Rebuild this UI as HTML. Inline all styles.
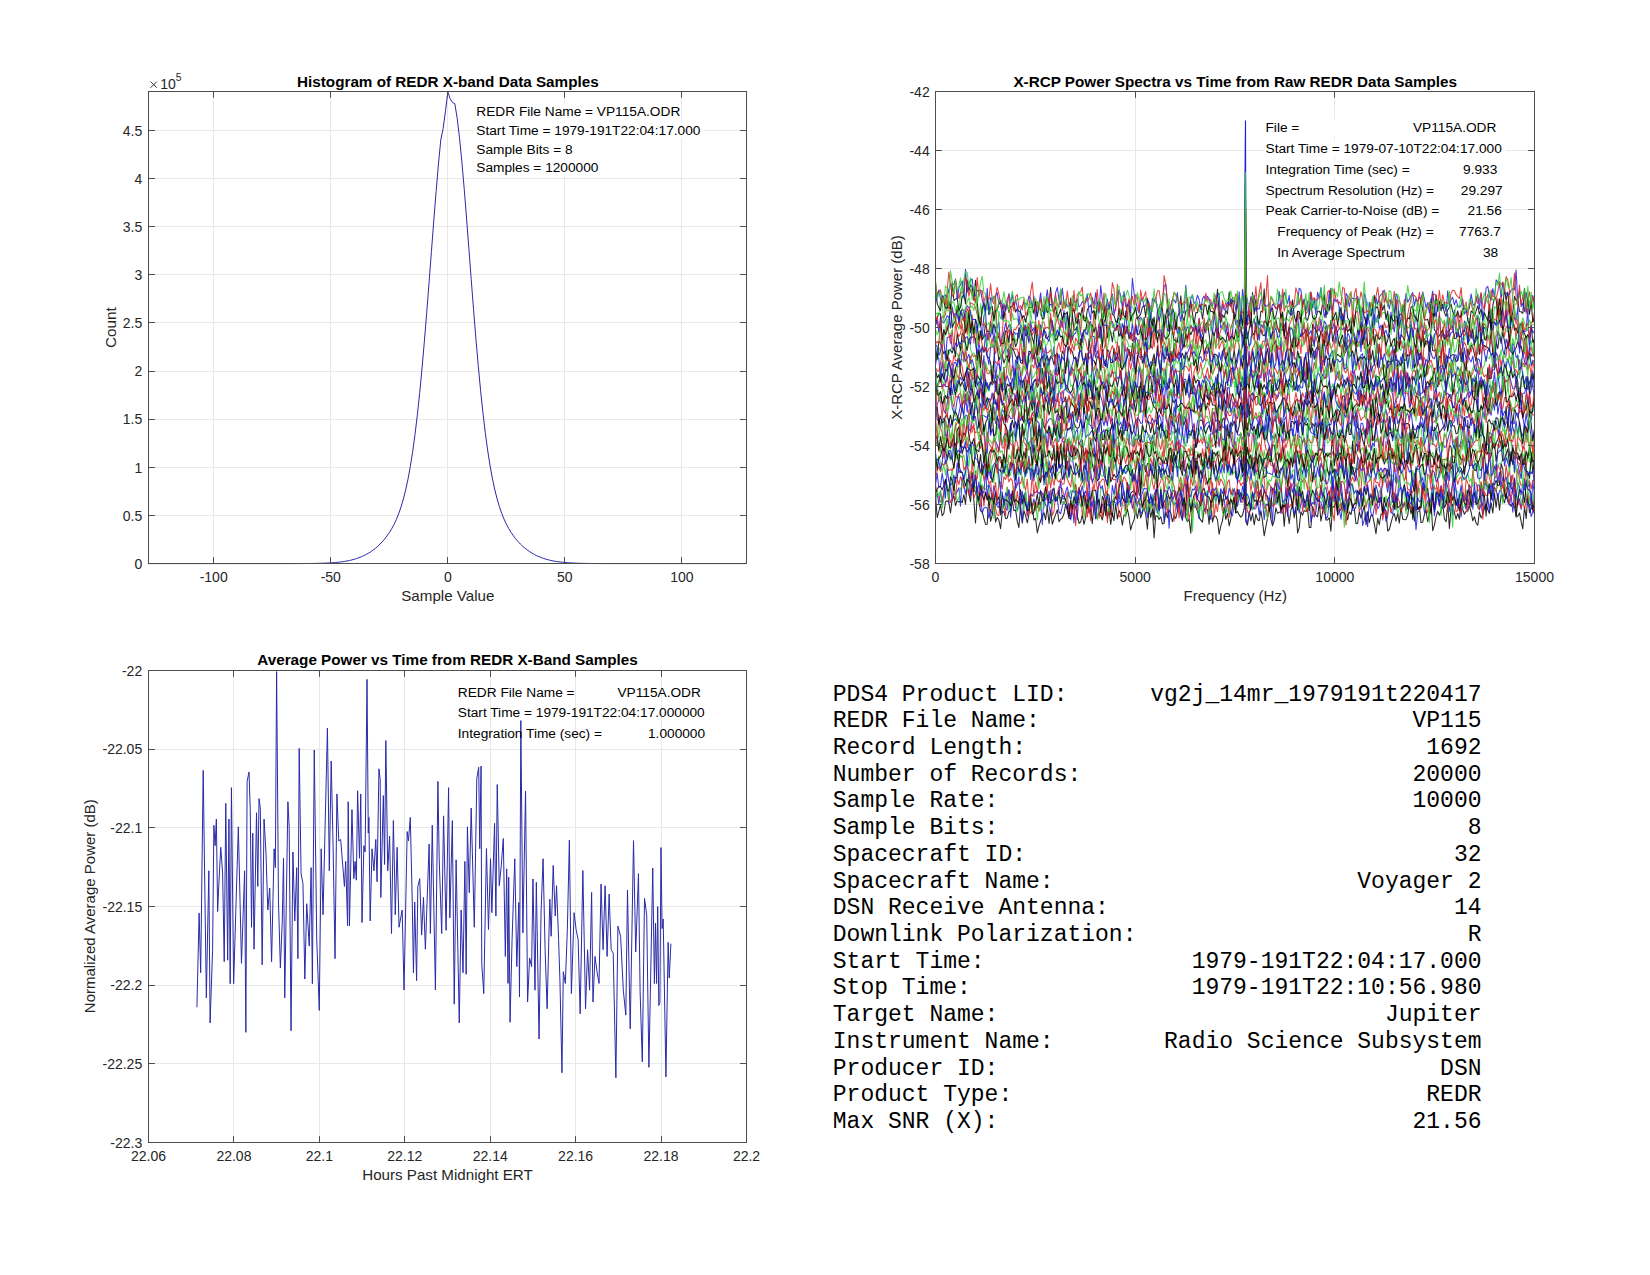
<!DOCTYPE html><html><head><meta charset="utf-8"><style>html,body{margin:0;padding:0;background:#fff}svg{display:block}</style></head><body>
<svg width="1650" height="1275" viewBox="0 0 1650 1275" font-family='"Liberation Sans", sans-serif'>
<rect width="1650" height="1275" fill="#fff"/>
<path d="M213.50 91.5V563.5M330.50 91.5V563.5M447.50 91.5V563.5M564.50 91.5V563.5M681.50 91.5V563.5M148.5 563.50H746.5M148.5 515.50H746.5M148.5 467.50H746.5M148.5 419.50H746.5M148.5 371.50H746.5M148.5 322.50H746.5M148.5 274.50H746.5M148.5 226.50H746.5M148.5 178.50H746.5M148.5 130.50H746.5" stroke="#e8e8e8" stroke-width="1" fill="none"/>
<rect x="474.5" y="103.8" width="204.0" height="16" fill="#fff"/>
<rect x="474.5" y="122.7" width="229.2" height="16" fill="#fff"/>
<rect x="474.5" y="141.5" width="100.0" height="16" fill="#fff"/>
<rect x="474.5" y="160.4" width="125.8" height="16" fill="#fff"/>
<path d="M148.15 563.60 L150.49 563.60 L152.83 563.60 L155.18 563.60 L157.52 563.60 L159.86 563.60 L162.20 563.60 L164.54 563.60 L166.88 563.60 L169.22 563.60 L171.56 563.60 L173.90 563.60 L176.24 563.60 L178.58 563.60 L180.93 563.60 L183.27 563.60 L185.61 563.60 L187.95 563.60 L190.29 563.60 L192.63 563.60 L194.97 563.60 L197.31 563.60 L199.65 563.60 L202.00 563.60 L204.34 563.60 L206.68 563.60 L209.02 563.60 L211.36 563.60 L213.70 563.60 L216.04 563.60 L218.38 563.60 L220.72 563.60 L223.06 563.60 L225.41 563.60 L227.75 563.60 L230.09 563.60 L232.43 563.60 L234.77 563.60 L237.11 563.60 L239.45 563.60 L241.79 563.60 L244.13 563.60 L246.47 563.60 L248.81 563.60 L251.16 563.60 L253.50 563.60 L255.84 563.60 L258.18 563.60 L260.52 563.60 L262.86 563.60 L265.20 563.60 L267.54 563.60 L269.88 563.60 L272.23 563.60 L274.57 563.60 L276.91 563.60 L279.25 563.60 L281.59 563.59 L283.93 563.59 L286.27 563.59 L288.61 563.59 L290.95 563.58 L293.29 563.58 L295.63 563.57 L297.98 563.57 L300.32 563.56 L302.66 563.55 L305.00 563.53 L307.34 563.51 L309.68 563.49 L312.02 563.46 L314.36 563.43 L316.70 563.38 L319.04 563.33 L321.39 563.27 L323.73 563.19 L326.07 563.10 L328.41 562.99 L330.75 562.86 L333.09 562.70 L335.43 562.51 L337.77 562.29 L340.11 562.03 L342.45 561.72 L344.80 561.37 L347.14 560.96 L349.48 560.48 L351.82 559.93 L354.16 559.30 L356.50 558.58 L358.84 557.76 L361.18 556.84 L363.52 555.80 L365.87 554.63 L368.21 553.32 L370.55 551.86 L372.89 550.24 L375.23 548.44 L377.57 546.45 L379.91 544.25 L382.25 541.81 L384.59 539.10 L386.93 536.09 L389.27 532.71 L391.62 528.90 L393.96 524.56 L396.30 519.58 L398.64 513.82 L400.98 507.10 L403.32 499.23 L405.66 489.98 L408.00 479.11 L410.34 466.37 L412.69 451.52 L415.03 434.36 L417.37 414.75 L419.71 392.62 L422.05 368.04 L424.39 341.21 L426.73 312.48 L429.07 282.39 L431.41 251.62 L433.75 221.02 L436.10 191.53 L438.44 164.18 L440.78 139.99 L443.12 128.55 L445.46 111.23 L447.80 91.97 L450.14 98.71 L452.48 102.56 L454.82 103.64 L457.16 118.19 L459.50 137.79 L461.85 161.60 L464.19 188.68 L466.53 218.00 L468.87 248.54 L471.21 279.33 L473.55 309.53 L475.89 338.42 L478.23 365.46 L480.57 390.27 L482.92 412.65 L485.26 432.51 L487.60 449.91 L489.94 464.98 L492.28 477.92 L494.62 488.97 L496.96 498.37 L499.30 506.37 L501.64 513.19 L503.98 519.04 L506.33 524.09 L508.67 528.49 L511.01 532.35 L513.35 535.77 L515.69 538.82 L518.03 541.55 L520.37 544.02 L522.71 546.24 L525.05 548.25 L527.39 550.07 L529.74 551.70 L532.08 553.18 L534.42 554.50 L536.76 555.69 L539.10 556.74 L541.44 557.68 L543.78 558.50 L546.12 559.23 L548.46 559.87 L550.80 560.43 L553.14 560.91 L555.49 561.33 L557.83 561.69 L560.17 562.00 L562.51 562.27 L564.85 562.49 L567.19 562.68 L569.53 562.84 L571.87 562.98 L574.21 563.09 L576.56 563.18 L578.90 563.26 L581.24 563.33 L583.58 563.38 L585.92 563.42 L588.26 563.46 L590.60 563.49 L592.94 563.51 L595.28 563.53 L597.62 563.54 L599.97 563.56 L602.31 563.57 L604.65 563.57 L606.99 563.58 L609.33 563.58 L611.67 563.59 L614.01 563.59 L616.35 563.59 L618.69 563.59 L621.03 563.60 L623.38 563.60 L625.72 563.60 L628.06 563.60 L630.40 563.60 L632.74 563.60 L635.08 563.60 L637.42 563.60 L639.76 563.60 L642.10 563.60 L644.44 563.60 L646.79 563.60 L649.13 563.60 L651.47 563.60 L653.81 563.60 L656.15 563.60 L658.49 563.60 L660.83 563.60 L663.17 563.60 L665.51 563.60 L667.85 563.60 L670.20 563.60 L672.54 563.60 L674.88 563.60 L677.22 563.60 L679.56 563.60 L681.90 563.60 L684.24 563.60 L686.58 563.60 L688.92 563.60 L691.26 563.60 L693.61 563.60 L695.95 563.60 L698.29 563.60 L700.63 563.60 L702.97 563.60 L705.31 563.60 L707.65 563.60 L709.99 563.60 L712.33 563.60 L714.67 563.60 L717.02 563.60 L719.36 563.60 L721.70 563.60 L724.04 563.60 L726.38 563.60 L728.72 563.60 L731.06 563.60 L733.40 563.60 L735.74 563.60 L738.08 563.60 L740.42 563.60 L742.77 563.60 L745.11 563.60" stroke="#2a2aa8" stroke-width="1" fill="none"/>
<path d="M213.50 563.5v-6.4M213.50 91.5v6.4M330.50 563.5v-6.4M330.50 91.5v6.4M447.50 563.5v-6.4M447.50 91.5v6.4M564.50 563.5v-6.4M564.50 91.5v6.4M681.50 563.5v-6.4M681.50 91.5v6.4M148.5 563.50h6.4M746.5 563.50h-6.4M148.5 515.50h6.4M746.5 515.50h-6.4M148.5 467.50h6.4M746.5 467.50h-6.4M148.5 419.50h6.4M746.5 419.50h-6.4M148.5 371.50h6.4M746.5 371.50h-6.4M148.5 322.50h6.4M746.5 322.50h-6.4M148.5 274.50h6.4M746.5 274.50h-6.4M148.5 226.50h6.4M746.5 226.50h-6.4M148.5 178.50h6.4M746.5 178.50h-6.4M148.5 130.50h6.4M746.5 130.50h-6.4" stroke="#4d4d4d" stroke-width="1" fill="none"/>
<rect x="148.5" y="91.5" width="598.0" height="472.0" stroke="#4d4d4d" stroke-width="1" fill="none"/>
<text x="213.70" y="581.90" text-anchor="middle" font-size="14" fill="#262626">-100</text>
<text x="330.75" y="581.90" text-anchor="middle" font-size="14" fill="#262626">-50</text>
<text x="447.80" y="581.90" text-anchor="middle" font-size="14" fill="#262626">0</text>
<text x="564.85" y="581.90" text-anchor="middle" font-size="14" fill="#262626">50</text>
<text x="681.90" y="581.90" text-anchor="middle" font-size="14" fill="#262626">100</text>
<text x="142.20" y="568.80" text-anchor="end" font-size="14" fill="#262626">0</text>
<text x="142.20" y="520.68" text-anchor="end" font-size="14" fill="#262626">0.5</text>
<text x="142.20" y="472.55" text-anchor="end" font-size="14" fill="#262626">1</text>
<text x="142.20" y="424.43" text-anchor="end" font-size="14" fill="#262626">1.5</text>
<text x="142.20" y="376.30" text-anchor="end" font-size="14" fill="#262626">2</text>
<text x="142.20" y="328.18" text-anchor="end" font-size="14" fill="#262626">2.5</text>
<text x="142.20" y="280.05" text-anchor="end" font-size="14" fill="#262626">3</text>
<text x="142.20" y="231.93" text-anchor="end" font-size="14" fill="#262626">3.5</text>
<text x="142.20" y="183.80" text-anchor="end" font-size="14" fill="#262626">4</text>
<text x="142.20" y="135.68" text-anchor="end" font-size="14" fill="#262626">4.5</text>
<path d="M150.6 81.6l6.2 6.2M156.8 81.6l-6.2 6.2" stroke="#262626" stroke-width="0.9" fill="none"/>
<text x="160.3" y="88.8" font-size="14" fill="#262626">10</text>
<text x="175.8" y="81.0" font-size="10.3" fill="#262626">5</text>
<text x="447.85" y="86.5" text-anchor="middle" font-size="15.25" font-weight="bold" fill="#000">Histogram of REDR X-band Data Samples</text>
<text x="447.85" y="601.2" text-anchor="middle" font-size="15.15" fill="#262626">Sample Value</text>
<text transform="translate(115.8 327.6) rotate(-90)" text-anchor="middle" font-size="15.3" fill="#262626">Count</text>
<text x="476.3" y="115.80" font-size="13.7" fill="#000">REDR File Name = VP115A.ODR</text>
<text x="476.3" y="134.67" font-size="13.7" fill="#000">Start Time = 1979-191T22:04:17.000</text>
<text x="476.3" y="153.54" font-size="13.7" fill="#000">Sample Bits = 8</text>
<text x="476.3" y="172.41" font-size="13.7" fill="#000">Samples = 1200000</text>
<path d="M935.50 91.5V563.5M1135.50 91.5V563.5M1334.50 91.5V563.5M1534.50 91.5V563.5M935.5 563.50H1534.5M935.5 504.50H1534.5M935.5 445.50H1534.5M935.5 386.50H1534.5M935.5 327.50H1534.5M935.5 268.50H1534.5M935.5 209.50H1534.5M935.5 150.50H1534.5M935.5 91.50H1534.5" stroke="#e8e8e8" stroke-width="1" fill="none"/>
<rect x="1264.5" y="119.3" width="233.4" height="17" fill="#fff"/>
<rect x="1264.5" y="140.2" width="241.5" height="17" fill="#fff"/>
<rect x="1264.5" y="161.1" width="234.3" height="17" fill="#fff"/>
<rect x="1264.5" y="182.1" width="239.7" height="17" fill="#fff"/>
<rect x="1264.5" y="203.0" width="238.8" height="17" fill="#fff"/>
<rect x="1264.5" y="223.9" width="237.9" height="17" fill="#fff"/>
<rect x="1264.5" y="244.8" width="235.2" height="17" fill="#fff"/>
<path d="M935.5 495.8 937.2 517.6 938.8 511.4 940.5 505.0 942.2 515.8 943.8 513.5 945.5 501.8 947.2 500.8 948.8 502.4 950.5 512.8 952.2 499.4 953.9 496.2 955.5 505.7 957.2 500.5 958.9 502.2 960.5 501.0 962.2 502.6 963.9 494.5 965.5 504.3 967.2 484.0 968.9 493.3 970.5 501.7 972.2 482.7 973.9 501.2 975.5 522.9 977.2 497.4 978.9 502.8 980.6 510.8 982.2 511.7 983.9 518.6 985.6 524.4 987.2 524.3 988.9 495.5 990.6 521.3 992.2 515.2 993.9 501.7 995.6 522.2 997.2 517.2 998.9 520.2 1000.6 528.7 1002.2 512.4 1003.9 511.6 1005.6 518.4 1007.2 518.3 1008.9 511.4 1010.6 510.8 1012.3 500.5 1013.9 510.7 1015.6 509.9 1017.3 521.6 1018.9 527.5 1020.6 505.9 1022.3 523.1 1023.9 510.8 1025.6 515.6 1027.3 523.0 1028.9 514.3 1030.6 502.2 1032.3 505.1 1033.9 520.0 1035.6 518.4 1037.3 532.9 1038.9 526.1 1040.6 520.8 1042.3 516.3 1044.0 512.7 1045.6 519.8 1047.3 506.2 1049.0 523.5 1050.6 510.4 1052.3 524.3 1054.0 519.0 1055.6 514.6 1057.3 509.8 1059.0 521.8 1060.6 519.3 1062.3 517.9 1064.0 513.8 1065.6 504.3 1067.3 510.3 1069.0 518.5 1070.7 518.4 1072.3 505.8 1074.0 504.9 1075.7 507.5 1077.3 515.9 1079.0 523.2 1080.7 522.0 1082.3 514.9 1084.0 524.4 1085.7 517.3 1087.3 498.5 1089.0 513.0 1090.7 509.0 1092.3 523.8 1094.0 504.4 1095.7 518.8 1097.3 515.1 1099.0 514.1 1100.7 515.2 1102.4 520.0 1104.0 510.6 1105.7 499.0 1107.4 518.4 1109.0 508.8 1110.7 524.4 1112.4 513.0 1114.0 520.6 1115.7 504.0 1117.4 519.0 1119.0 510.3 1120.7 514.7 1122.4 525.1 1124.0 515.0 1125.7 515.5 1127.4 509.0 1129.0 516.9 1130.7 529.9 1132.4 523.6 1134.1 519.7 1135.7 510.0 1137.4 518.5 1139.1 508.2 1140.7 517.8 1142.4 512.5 1144.1 507.5 1145.7 514.3 1147.4 529.2 1149.1 506.4 1150.7 517.3 1152.4 509.1 1154.1 538.0 1155.7 515.8 1157.4 516.1 1159.1 519.4 1160.8 516.8 1162.4 523.9 1164.1 523.3 1165.8 512.1 1167.4 517.7 1169.1 509.9 1170.8 512.7 1172.4 521.6 1174.1 515.7 1175.8 518.5 1177.4 511.7 1179.1 502.4 1180.8 515.5 1182.4 519.9 1184.1 498.5 1185.8 518.1 1187.4 521.7 1189.1 518.9 1190.8 533.2 1192.5 503.6 1194.1 506.9 1195.8 507.1 1197.5 511.4 1199.1 517.4 1200.8 520.1 1202.5 522.1 1204.1 509.9 1205.8 508.4 1207.5 509.6 1209.1 524.3 1210.8 500.4 1212.5 522.1 1214.1 515.8 1215.8 516.2 1217.5 519.8 1219.1 534.2 1220.8 525.9 1222.5 520.6 1224.2 507.9 1225.8 519.4 1227.5 513.3 1229.2 525.9 1230.8 519.1 1232.5 506.3 1234.2 501.3 1235.8 513.1 1237.5 511.4 1239.2 514.9 1240.8 517.2 1242.5 515.4 1244.2 508.0 1244.3 509.3 1245.5 227.1 1245.8 521.7 1246.7 523.5 1247.5 525.2 1249.2 511.4 1250.9 521.0 1252.5 513.0 1254.2 524.8 1255.9 514.2 1257.5 519.7 1259.2 520.7 1260.9 510.7 1262.5 521.4 1264.2 535.8 1265.9 526.3 1267.5 518.3 1269.2 503.1 1270.9 519.4 1272.5 525.9 1274.2 520.9 1275.9 507.9 1277.5 513.3 1279.2 512.3 1280.9 511.8 1282.6 503.9 1284.2 526.5 1285.9 505.4 1287.6 511.2 1289.2 523.7 1290.9 510.2 1292.6 504.8 1294.2 517.8 1295.9 507.6 1297.6 533.0 1299.2 527.9 1300.9 511.8 1302.6 515.2 1304.2 510.4 1305.9 511.7 1307.6 508.7 1309.2 527.4 1310.9 527.4 1312.6 506.3 1314.3 512.8 1315.9 515.1 1317.6 516.8 1319.3 502.3 1320.9 521.1 1322.6 512.1 1324.3 503.5 1325.9 519.9 1327.6 519.9 1329.3 517.8 1330.9 531.3 1332.6 506.2 1334.3 507.3 1335.9 500.3 1337.6 515.2 1339.3 511.4 1341.0 509.3 1342.6 501.3 1344.3 511.9 1346.0 510.7 1347.6 520.0 1349.3 511.8 1351.0 514.6 1352.6 506.1 1354.3 508.6 1356.0 523.8 1357.6 523.3 1359.3 511.8 1361.0 518.0 1362.6 512.3 1364.3 505.5 1366.0 524.9 1367.6 511.5 1369.3 522.6 1371.0 515.2 1372.7 515.9 1374.3 523.7 1376.0 533.8 1377.7 518.3 1379.3 525.0 1381.0 514.0 1382.7 514.6 1384.3 507.9 1386.0 511.1 1387.7 531.0 1389.3 529.5 1391.0 522.8 1392.7 516.6 1394.3 513.6 1396.0 521.1 1397.7 512.9 1399.3 523.1 1401.0 506.8 1402.7 519.1 1404.4 519.7 1406.0 519.4 1407.7 515.2 1409.4 503.5 1411.0 513.7 1412.7 507.5 1414.4 521.1 1416.0 509.9 1417.7 509.0 1419.4 507.0 1421.0 522.6 1422.7 522.2 1424.4 514.7 1426.0 510.2 1427.7 521.7 1429.4 513.5 1431.1 502.3 1432.7 530.8 1434.4 525.2 1436.1 516.7 1437.7 511.3 1439.4 515.3 1441.1 510.8 1442.7 503.6 1444.4 518.7 1446.1 521.7 1447.7 503.7 1449.4 528.4 1451.1 507.9 1452.7 504.2 1454.4 512.4 1456.1 519.2 1457.7 513.4 1459.4 519.2 1461.1 498.7 1462.8 509.7 1464.4 514.2 1466.1 511.2 1467.8 510.5 1469.4 506.2 1471.1 512.0 1472.8 520.8 1474.4 516.7 1476.1 523.0 1477.8 525.3 1479.4 511.8 1481.1 517.9 1482.8 514.3 1484.4 507.1 1486.1 504.0 1487.8 509.5 1489.4 513.5 1491.1 502.5 1492.8 513.0 1494.5 493.0 1496.1 507.5 1497.8 493.6 1499.5 510.3 1501.1 494.9 1502.8 497.8 1504.5 502.8 1506.1 493.7 1507.8 498.9 1509.5 503.4 1511.1 506.3 1512.8 503.0 1514.5 507.0 1516.1 515.8 1517.8 516.3 1519.5 512.9 1521.2 521.9 1522.8 528.8 1524.5 506.9 1526.2 518.6 1527.8 496.0 1529.5 512.7 1531.2 508.1 1532.8 508.5 1534.5 514.3" stroke="#000000" stroke-width="1.05" stroke-opacity="0.85" fill="none" stroke-linejoin="round"/>
<path d="M935.5 497.9 937.2 493.1 938.8 504.1 940.5 490.7 942.2 504.7 943.8 492.7 945.5 479.2 947.2 486.8 948.8 503.0 950.5 484.3 952.2 501.0 953.9 492.9 955.5 493.9 957.2 491.6 958.9 487.8 960.5 506.3 962.2 477.3 963.9 486.4 965.5 494.0 967.2 483.3 968.9 474.5 970.5 495.9 972.2 483.3 973.9 491.1 975.5 491.5 977.2 498.9 978.9 496.1 980.6 493.5 982.2 513.1 983.9 508.2 985.6 507.2 987.2 508.4 988.9 518.2 990.6 509.3 992.2 514.4 993.9 501.8 995.6 505.1 997.2 503.7 998.9 502.0 1000.6 509.1 1002.2 513.4 1003.9 499.3 1005.6 508.5 1007.2 510.2 1008.9 491.7 1010.6 517.2 1012.3 498.1 1013.9 493.9 1015.6 507.8 1017.3 510.0 1018.9 501.9 1020.6 511.7 1022.3 521.4 1023.9 495.9 1025.6 491.8 1027.3 515.9 1028.9 499.1 1030.6 503.3 1032.3 505.1 1033.9 498.9 1035.6 508.4 1037.3 507.3 1038.9 503.6 1040.6 502.2 1042.3 524.8 1044.0 494.9 1045.6 499.9 1047.3 495.7 1049.0 506.0 1050.6 513.2 1052.3 500.1 1054.0 500.3 1055.6 496.6 1057.3 498.9 1059.0 511.8 1060.6 513.8 1062.3 506.4 1064.0 501.4 1065.6 505.4 1067.3 509.1 1069.0 503.4 1070.7 520.0 1072.3 505.7 1074.0 522.9 1075.7 490.8 1077.3 519.8 1079.0 489.7 1080.7 497.3 1082.3 495.9 1084.0 497.8 1085.7 507.7 1087.3 504.0 1089.0 491.3 1090.7 513.5 1092.3 506.4 1094.0 496.7 1095.7 510.1 1097.3 490.2 1099.0 514.3 1100.7 510.7 1102.4 503.9 1104.0 510.9 1105.7 506.8 1107.4 504.7 1109.0 506.1 1110.7 501.9 1112.4 501.5 1114.0 501.8 1115.7 502.9 1117.4 503.9 1119.0 501.7 1120.7 501.3 1122.4 497.8 1124.0 490.8 1125.7 509.6 1127.4 489.5 1129.0 497.0 1130.7 495.9 1132.4 508.4 1134.1 501.9 1135.7 501.4 1137.4 506.3 1139.1 498.1 1140.7 513.8 1142.4 511.2 1144.1 497.3 1145.7 500.9 1147.4 517.7 1149.1 500.8 1150.7 503.3 1152.4 497.5 1154.1 505.2 1155.7 504.8 1157.4 513.2 1159.1 506.0 1160.8 508.4 1162.4 500.7 1164.1 521.9 1165.8 505.5 1167.4 496.2 1169.1 528.1 1170.8 499.8 1172.4 501.9 1174.1 504.4 1175.8 502.7 1177.4 511.3 1179.1 498.5 1180.8 503.4 1182.4 520.4 1184.1 500.2 1185.8 515.2 1187.4 514.0 1189.1 502.7 1190.8 509.3 1192.5 504.5 1194.1 503.7 1195.8 506.9 1197.5 502.6 1199.1 518.7 1200.8 491.9 1202.5 498.7 1204.1 511.2 1205.8 507.5 1207.5 493.7 1209.1 513.2 1210.8 519.5 1212.5 488.6 1214.1 494.7 1215.8 502.5 1217.5 491.7 1219.1 501.7 1220.8 499.6 1222.5 500.6 1224.2 499.2 1225.8 513.3 1227.5 504.9 1229.2 502.4 1230.8 514.1 1232.5 515.8 1234.2 505.9 1235.8 492.2 1237.5 506.3 1239.2 496.5 1240.8 495.0 1242.5 494.2 1244.2 499.9 1244.3 501.8 1245.5 237.8 1245.8 519.5 1246.7 521.3 1247.5 522.9 1249.2 514.4 1250.9 507.6 1252.5 506.2 1254.2 509.2 1255.9 508.1 1257.5 500.3 1259.2 515.2 1260.9 500.3 1262.5 500.6 1264.2 519.8 1265.9 504.0 1267.5 505.5 1269.2 501.0 1270.9 501.4 1272.5 523.4 1274.2 489.5 1275.9 504.3 1277.5 497.3 1279.2 497.8 1280.9 513.5 1282.6 505.7 1284.2 506.9 1285.9 487.2 1287.6 516.3 1289.2 492.5 1290.9 497.8 1292.6 506.0 1294.2 513.8 1295.9 506.8 1297.6 499.6 1299.2 513.0 1300.9 503.4 1302.6 500.0 1304.2 499.4 1305.9 508.1 1307.6 499.8 1309.2 499.0 1310.9 521.9 1312.6 515.0 1314.3 517.0 1315.9 511.5 1317.6 498.9 1319.3 501.1 1320.9 502.1 1322.6 509.7 1324.3 496.9 1325.9 518.5 1327.6 517.0 1329.3 499.5 1330.9 507.6 1332.6 496.5 1334.3 498.2 1335.9 497.4 1337.6 511.9 1339.3 509.9 1341.0 519.2 1342.6 505.3 1344.3 505.5 1346.0 510.2 1347.6 507.6 1349.3 503.8 1351.0 497.8 1352.6 510.2 1354.3 510.5 1356.0 506.2 1357.6 500.7 1359.3 489.9 1361.0 497.5 1362.6 525.5 1364.3 519.6 1366.0 512.1 1367.6 526.8 1369.3 499.7 1371.0 513.1 1372.7 516.5 1374.3 507.2 1376.0 503.1 1377.7 508.8 1379.3 505.9 1381.0 498.0 1382.7 514.5 1384.3 505.8 1386.0 521.5 1387.7 516.0 1389.3 497.3 1391.0 512.1 1392.7 514.2 1394.3 499.1 1396.0 509.8 1397.7 498.1 1399.3 489.8 1401.0 487.3 1402.7 507.6 1404.4 503.0 1406.0 510.6 1407.7 491.4 1409.4 501.1 1411.0 482.3 1412.7 509.7 1414.4 506.2 1416.0 529.8 1417.7 511.7 1419.4 511.1 1421.0 501.9 1422.7 497.7 1424.4 512.5 1426.0 506.9 1427.7 500.9 1429.4 506.5 1431.1 500.3 1432.7 492.8 1434.4 511.0 1436.1 503.3 1437.7 496.2 1439.4 505.1 1441.1 492.8 1442.7 508.4 1444.4 496.4 1446.1 503.6 1447.7 500.7 1449.4 511.2 1451.1 496.6 1452.7 515.1 1454.4 496.7 1456.1 505.4 1457.7 503.3 1459.4 494.6 1461.1 516.9 1462.8 499.0 1464.4 502.3 1466.1 509.6 1467.8 498.6 1469.4 505.4 1471.1 489.7 1472.8 509.2 1474.4 492.0 1476.1 493.3 1477.8 501.6 1479.4 509.9 1481.1 504.1 1482.8 514.1 1484.4 508.5 1486.1 506.9 1487.8 497.9 1489.4 511.3 1491.1 494.8 1492.8 500.9 1494.5 487.8 1496.1 489.6 1497.8 498.4 1499.5 490.6 1501.1 490.3 1502.8 496.4 1504.5 494.4 1506.1 494.0 1507.8 502.0 1509.5 505.1 1511.1 494.5 1512.8 512.2 1514.5 495.0 1516.1 493.4 1517.8 504.8 1519.5 498.7 1521.2 509.4 1522.8 498.3 1524.5 478.7 1526.2 500.5 1527.8 505.3 1529.5 505.3 1531.2 516.7 1532.8 511.3 1534.5 507.7" stroke="#1a1ae0" stroke-width="1.05" stroke-opacity="0.85" fill="none" stroke-linejoin="round"/>
<path d="M935.5 483.9 937.2 495.6 938.8 497.1 940.5 501.9 942.2 499.7 943.8 493.2 945.5 481.3 947.2 486.8 948.8 494.4 950.5 502.6 952.2 499.7 953.9 479.9 955.5 499.7 957.2 478.7 958.9 484.7 960.5 476.6 962.2 481.2 963.9 488.5 965.5 484.0 967.2 487.5 968.9 495.1 970.5 487.7 972.2 487.9 973.9 498.2 975.5 493.1 977.2 486.8 978.9 495.1 980.6 506.4 982.2 486.1 983.9 506.2 985.6 491.7 987.2 499.1 988.9 493.2 990.6 500.5 992.2 512.1 993.9 492.7 995.6 508.9 997.2 515.1 998.9 515.4 1000.6 499.6 1002.2 507.3 1003.9 507.0 1005.6 515.4 1007.2 487.3 1008.9 497.1 1010.6 494.3 1012.3 501.2 1013.9 493.0 1015.6 506.8 1017.3 491.4 1018.9 503.0 1020.6 506.4 1022.3 496.1 1023.9 499.0 1025.6 499.4 1027.3 515.6 1028.9 510.4 1030.6 513.3 1032.3 509.0 1033.9 501.6 1035.6 510.8 1037.3 502.5 1038.9 511.3 1040.6 505.3 1042.3 497.9 1044.0 493.0 1045.6 486.9 1047.3 500.6 1049.0 499.9 1050.6 489.9 1052.3 515.5 1054.0 511.1 1055.6 494.6 1057.3 493.6 1059.0 486.4 1060.6 487.6 1062.3 488.8 1064.0 495.1 1065.6 501.5 1067.3 492.0 1069.0 517.2 1070.7 503.5 1072.3 514.6 1074.0 504.1 1075.7 525.8 1077.3 498.7 1079.0 502.9 1080.7 493.4 1082.3 515.7 1084.0 505.5 1085.7 495.3 1087.3 517.1 1089.0 504.3 1090.7 521.0 1092.3 487.2 1094.0 510.8 1095.7 502.7 1097.3 500.5 1099.0 518.3 1100.7 508.2 1102.4 517.1 1104.0 498.8 1105.7 491.4 1107.4 522.6 1109.0 504.0 1110.7 515.5 1112.4 500.4 1114.0 498.8 1115.7 495.9 1117.4 498.3 1119.0 517.1 1120.7 514.5 1122.4 504.3 1124.0 498.0 1125.7 510.3 1127.4 507.0 1129.0 499.8 1130.7 502.5 1132.4 494.6 1134.1 512.7 1135.7 499.3 1137.4 502.6 1139.1 502.6 1140.7 504.8 1142.4 507.9 1144.1 492.2 1145.7 508.6 1147.4 500.0 1149.1 502.5 1150.7 508.9 1152.4 501.0 1154.1 500.7 1155.7 490.2 1157.4 509.7 1159.1 498.3 1160.8 498.7 1162.4 495.4 1164.1 508.9 1165.8 500.8 1167.4 513.6 1169.1 500.5 1170.8 493.9 1172.4 490.7 1174.1 521.5 1175.8 506.5 1177.4 500.0 1179.1 518.0 1180.8 482.4 1182.4 500.4 1184.1 517.3 1185.8 477.1 1187.4 499.2 1189.1 519.2 1190.8 510.5 1192.5 509.1 1194.1 503.9 1195.8 489.2 1197.5 508.6 1199.1 507.3 1200.8 502.8 1202.5 498.3 1204.1 500.6 1205.8 514.0 1207.5 495.8 1209.1 510.2 1210.8 509.8 1212.5 482.6 1214.1 517.7 1215.8 503.4 1217.5 511.7 1219.1 497.1 1220.8 499.6 1222.5 510.7 1224.2 506.8 1225.8 507.3 1227.5 498.7 1229.2 517.3 1230.8 500.1 1232.5 500.6 1234.2 502.9 1235.8 506.6 1237.5 497.1 1239.2 498.1 1240.8 501.0 1242.5 502.3 1244.2 497.2 1244.3 497.2 1245.5 200.9 1245.8 497.3 1246.7 505.1 1247.5 512.1 1249.2 513.1 1250.9 506.3 1252.5 509.0 1254.2 507.7 1255.9 504.6 1257.5 491.4 1259.2 502.3 1260.9 501.2 1262.5 495.9 1264.2 508.3 1265.9 505.5 1267.5 518.4 1269.2 510.2 1270.9 497.8 1272.5 506.3 1274.2 505.8 1275.9 490.1 1277.5 488.8 1279.2 501.6 1280.9 510.0 1282.6 513.5 1284.2 503.2 1285.9 512.3 1287.6 503.6 1289.2 507.5 1290.9 504.5 1292.6 506.4 1294.2 493.3 1295.9 504.7 1297.6 489.8 1299.2 506.8 1300.9 489.9 1302.6 511.4 1304.2 501.0 1305.9 506.1 1307.6 512.0 1309.2 486.2 1310.9 502.1 1312.6 511.3 1314.3 516.2 1315.9 498.7 1317.6 497.8 1319.3 502.4 1320.9 508.9 1322.6 507.6 1324.3 514.2 1325.9 508.4 1327.6 506.9 1329.3 498.4 1330.9 497.3 1332.6 513.0 1334.3 520.6 1335.9 488.9 1337.6 503.2 1339.3 510.5 1341.0 502.3 1342.6 511.0 1344.3 508.3 1346.0 524.9 1347.6 508.0 1349.3 491.3 1351.0 498.0 1352.6 506.8 1354.3 504.1 1356.0 499.1 1357.6 496.0 1359.3 511.5 1361.0 506.9 1362.6 503.2 1364.3 497.4 1366.0 507.6 1367.6 500.8 1369.3 498.1 1371.0 504.3 1372.7 500.3 1374.3 494.5 1376.0 514.4 1377.7 502.9 1379.3 501.8 1381.0 486.6 1382.7 520.1 1384.3 510.7 1386.0 516.5 1387.7 512.8 1389.3 501.9 1391.0 512.6 1392.7 505.5 1394.3 504.4 1396.0 506.3 1397.7 497.4 1399.3 501.4 1401.0 511.1 1402.7 507.9 1404.4 501.9 1406.0 509.1 1407.7 500.4 1409.4 504.5 1411.0 508.5 1412.7 506.9 1414.4 513.2 1416.0 501.7 1417.7 508.9 1419.4 510.1 1421.0 506.6 1422.7 486.3 1424.4 494.7 1426.0 509.4 1427.7 512.5 1429.4 498.3 1431.1 512.3 1432.7 494.5 1434.4 509.7 1436.1 495.0 1437.7 487.0 1439.4 506.5 1441.1 498.3 1442.7 497.4 1444.4 484.0 1446.1 483.4 1447.7 510.4 1449.4 492.7 1451.1 494.5 1452.7 500.7 1454.4 498.9 1456.1 511.9 1457.7 510.3 1459.4 503.8 1461.1 514.0 1462.8 500.0 1464.4 501.4 1466.1 490.2 1467.8 511.8 1469.4 491.5 1471.1 499.4 1472.8 499.9 1474.4 502.3 1476.1 501.9 1477.8 507.5 1479.4 509.3 1481.1 490.7 1482.8 519.3 1484.4 491.7 1486.1 495.7 1487.8 495.8 1489.4 487.9 1491.1 495.1 1492.8 491.8 1494.5 487.0 1496.1 492.2 1497.8 482.1 1499.5 482.0 1501.1 489.7 1502.8 485.2 1504.5 496.5 1506.1 487.3 1507.8 489.5 1509.5 503.7 1511.1 493.1 1512.8 490.0 1514.5 503.7 1516.1 507.9 1517.8 498.6 1519.5 504.1 1521.2 508.1 1522.8 500.3 1524.5 509.1 1526.2 500.7 1527.8 493.1 1529.5 499.5 1531.2 500.7 1532.8 510.7 1534.5 491.7" stroke="#e02020" stroke-width="1.05" stroke-opacity="0.85" fill="none" stroke-linejoin="round"/>
<path d="M935.5 502.4 937.2 490.4 938.8 495.7 940.5 490.6 942.2 508.6 943.8 499.4 945.5 489.3 947.2 484.2 948.8 500.0 950.5 483.7 952.2 467.3 953.9 488.7 955.5 492.9 957.2 500.8 958.9 498.0 960.5 488.3 962.2 485.4 963.9 477.9 965.5 467.4 967.2 489.8 968.9 480.9 970.5 471.6 972.2 480.2 973.9 484.6 975.5 486.8 977.2 501.0 978.9 503.8 980.6 488.0 982.2 484.7 983.9 488.5 985.6 489.7 987.2 485.4 988.9 487.2 990.6 502.6 992.2 497.6 993.9 518.5 995.6 491.3 997.2 498.5 998.9 499.0 1000.6 491.7 1002.2 510.7 1003.9 498.6 1005.6 507.0 1007.2 487.0 1008.9 510.3 1010.6 504.7 1012.3 496.3 1013.9 486.1 1015.6 500.2 1017.3 511.6 1018.9 505.9 1020.6 497.3 1022.3 495.5 1023.9 510.2 1025.6 490.5 1027.3 507.3 1028.9 507.7 1030.6 501.7 1032.3 510.0 1033.9 510.1 1035.6 501.9 1037.3 519.9 1038.9 503.3 1040.6 510.2 1042.3 497.8 1044.0 508.0 1045.6 492.9 1047.3 497.4 1049.0 496.1 1050.6 498.4 1052.3 507.3 1054.0 497.1 1055.6 495.2 1057.3 499.3 1059.0 497.5 1060.6 497.4 1062.3 502.1 1064.0 504.5 1065.6 499.2 1067.3 498.9 1069.0 495.0 1070.7 490.2 1072.3 502.6 1074.0 503.8 1075.7 483.9 1077.3 500.5 1079.0 500.3 1080.7 506.8 1082.3 496.8 1084.0 518.0 1085.7 506.1 1087.3 502.1 1089.0 505.9 1090.7 498.3 1092.3 490.8 1094.0 497.2 1095.7 503.2 1097.3 519.9 1099.0 506.8 1100.7 490.3 1102.4 488.0 1104.0 495.6 1105.7 493.4 1107.4 493.9 1109.0 512.4 1110.7 503.9 1112.4 504.9 1114.0 495.7 1115.7 491.6 1117.4 500.2 1119.0 485.3 1120.7 501.8 1122.4 505.0 1124.0 505.2 1125.7 517.4 1127.4 494.9 1129.0 505.0 1130.7 495.4 1132.4 497.2 1134.1 496.3 1135.7 514.1 1137.4 503.8 1139.1 503.0 1140.7 498.2 1142.4 509.1 1144.1 509.4 1145.7 491.4 1147.4 512.5 1149.1 499.0 1150.7 509.9 1152.4 494.4 1154.1 504.8 1155.7 504.0 1157.4 508.5 1159.1 517.0 1160.8 486.5 1162.4 501.4 1164.1 488.8 1165.8 495.4 1167.4 508.8 1169.1 505.1 1170.8 496.2 1172.4 500.1 1174.1 506.3 1175.8 497.6 1177.4 493.7 1179.1 490.8 1180.8 486.8 1182.4 499.8 1184.1 503.4 1185.8 503.3 1187.4 521.3 1189.1 489.4 1190.8 487.0 1192.5 531.3 1194.1 499.3 1195.8 504.9 1197.5 502.6 1199.1 515.2 1200.8 501.8 1202.5 517.9 1204.1 495.7 1205.8 493.1 1207.5 490.6 1209.1 514.7 1210.8 510.8 1212.5 506.1 1214.1 489.7 1215.8 502.8 1217.5 488.1 1219.1 499.4 1220.8 495.6 1222.5 513.0 1224.2 514.9 1225.8 507.6 1227.5 511.0 1229.2 513.4 1230.8 496.5 1232.5 488.0 1234.2 507.2 1235.8 501.9 1237.5 489.8 1239.2 500.2 1240.8 494.5 1242.5 494.8 1244.2 490.7 1244.3 490.8 1245.5 174.9 1245.8 491.2 1246.7 494.9 1247.5 498.1 1249.2 508.7 1250.9 491.5 1252.5 509.6 1254.2 499.2 1255.9 496.5 1257.5 476.2 1259.2 494.1 1260.9 496.3 1262.5 502.9 1264.2 501.3 1265.9 512.7 1267.5 518.5 1269.2 501.4 1270.9 498.7 1272.5 504.0 1274.2 502.3 1275.9 502.3 1277.5 485.4 1279.2 505.4 1280.9 484.1 1282.6 505.9 1284.2 501.9 1285.9 500.5 1287.6 495.1 1289.2 487.9 1290.9 491.5 1292.6 490.5 1294.2 497.2 1295.9 499.7 1297.6 500.6 1299.2 509.3 1300.9 481.4 1302.6 500.3 1304.2 505.7 1305.9 509.6 1307.6 502.2 1309.2 508.7 1310.9 491.3 1312.6 490.1 1314.3 505.4 1315.9 489.2 1317.6 493.0 1319.3 496.9 1320.9 497.4 1322.6 502.0 1324.3 492.0 1325.9 513.8 1327.6 493.6 1329.3 500.3 1330.9 519.0 1332.6 502.6 1334.3 498.5 1335.9 494.6 1337.6 499.0 1339.3 507.8 1341.0 497.9 1342.6 498.9 1344.3 527.2 1346.0 509.5 1347.6 503.2 1349.3 505.6 1351.0 498.7 1352.6 483.1 1354.3 500.0 1356.0 504.2 1357.6 501.0 1359.3 508.1 1361.0 505.3 1362.6 506.5 1364.3 495.6 1366.0 504.9 1367.6 499.5 1369.3 497.5 1371.0 509.0 1372.7 495.5 1374.3 486.9 1376.0 502.4 1377.7 498.1 1379.3 491.0 1381.0 489.2 1382.7 497.8 1384.3 502.0 1386.0 495.8 1387.7 509.3 1389.3 506.9 1391.0 504.8 1392.7 496.6 1394.3 509.6 1396.0 498.1 1397.7 514.2 1399.3 508.5 1401.0 507.6 1402.7 495.6 1404.4 485.3 1406.0 513.5 1407.7 498.2 1409.4 501.4 1411.0 496.8 1412.7 505.0 1414.4 493.3 1416.0 517.8 1417.7 492.3 1419.4 488.3 1421.0 507.2 1422.7 499.0 1424.4 509.7 1426.0 503.0 1427.7 502.6 1429.4 522.8 1431.1 493.1 1432.7 494.8 1434.4 484.9 1436.1 501.0 1437.7 499.2 1439.4 490.4 1441.1 515.6 1442.7 495.7 1444.4 503.1 1446.1 484.2 1447.7 501.5 1449.4 491.6 1451.1 503.7 1452.7 527.3 1454.4 488.3 1456.1 491.1 1457.7 491.4 1459.4 502.5 1461.1 489.9 1462.8 508.0 1464.4 506.5 1466.1 491.8 1467.8 493.1 1469.4 484.3 1471.1 505.7 1472.8 495.7 1474.4 494.9 1476.1 490.1 1477.8 508.1 1479.4 498.0 1481.1 501.8 1482.8 493.3 1484.4 472.4 1486.1 490.0 1487.8 481.8 1489.4 488.6 1491.1 495.5 1492.8 488.7 1494.5 489.8 1496.1 489.6 1497.8 480.4 1499.5 481.9 1501.1 493.2 1502.8 503.6 1504.5 490.8 1506.1 483.3 1507.8 476.0 1509.5 487.3 1511.1 485.6 1512.8 482.8 1514.5 483.0 1516.1 500.1 1517.8 496.8 1519.5 490.4 1521.2 501.3 1522.8 504.9 1524.5 500.2 1526.2 498.1 1527.8 489.5 1529.5 502.7 1531.2 505.6 1532.8 501.9 1534.5 491.6" stroke="#30d030" stroke-width="1.05" stroke-opacity="0.85" fill="none" stroke-linejoin="round"/>
<path d="M935.5 492.8 937.2 489.3 938.8 486.4 940.5 486.4 942.2 489.9 943.8 485.5 945.5 479.7 947.2 490.2 948.8 491.1 950.5 476.8 952.2 481.1 953.9 491.2 955.5 477.3 957.2 478.2 958.9 463.2 960.5 472.5 962.2 472.5 963.9 479.1 965.5 485.9 967.2 479.3 968.9 481.3 970.5 482.6 972.2 472.6 973.9 491.4 975.5 471.4 977.2 495.1 978.9 500.5 980.6 483.8 982.2 495.1 983.9 500.2 985.6 492.3 987.2 500.2 988.9 495.8 990.6 500.0 992.2 496.1 993.9 504.0 995.6 492.0 997.2 500.9 998.9 496.9 1000.6 514.9 1002.2 493.9 1003.9 502.4 1005.6 499.6 1007.2 500.7 1008.9 502.5 1010.6 505.9 1012.3 490.7 1013.9 501.9 1015.6 499.8 1017.3 500.9 1018.9 504.0 1020.6 489.6 1022.3 503.7 1023.9 495.6 1025.6 504.8 1027.3 510.0 1028.9 510.3 1030.6 494.6 1032.3 514.2 1033.9 512.2 1035.6 503.7 1037.3 494.1 1038.9 504.6 1040.6 490.3 1042.3 500.2 1044.0 500.7 1045.6 486.7 1047.3 494.9 1049.0 502.2 1050.6 503.2 1052.3 492.4 1054.0 487.9 1055.6 501.0 1057.3 500.0 1059.0 490.2 1060.6 504.2 1062.3 495.3 1064.0 496.6 1065.6 499.9 1067.3 505.9 1069.0 517.3 1070.7 500.1 1072.3 508.5 1074.0 496.7 1075.7 503.1 1077.3 502.1 1079.0 487.4 1080.7 493.3 1082.3 506.3 1084.0 492.0 1085.7 501.7 1087.3 509.0 1089.0 497.6 1090.7 498.7 1092.3 491.1 1094.0 490.7 1095.7 490.1 1097.3 504.1 1099.0 499.2 1100.7 512.6 1102.4 496.2 1104.0 500.3 1105.7 515.7 1107.4 493.8 1109.0 495.1 1110.7 511.2 1112.4 516.3 1114.0 501.6 1115.7 497.0 1117.4 499.7 1119.0 487.7 1120.7 480.4 1122.4 498.0 1124.0 500.5 1125.7 502.4 1127.4 482.5 1129.0 498.5 1130.7 493.3 1132.4 491.7 1134.1 490.5 1135.7 495.3 1137.4 483.7 1139.1 494.0 1140.7 497.0 1142.4 507.0 1144.1 501.3 1145.7 498.9 1147.4 490.2 1149.1 503.0 1150.7 496.6 1152.4 500.0 1154.1 519.9 1155.7 496.4 1157.4 484.9 1159.1 510.0 1160.8 489.4 1162.4 508.2 1164.1 501.9 1165.8 499.3 1167.4 491.0 1169.1 498.5 1170.8 498.0 1172.4 491.0 1174.1 490.5 1175.8 499.4 1177.4 494.3 1179.1 487.1 1180.8 494.1 1182.4 506.1 1184.1 497.5 1185.8 510.3 1187.4 480.5 1189.1 496.5 1190.8 511.4 1192.5 501.7 1194.1 494.7 1195.8 492.4 1197.5 499.3 1199.1 501.5 1200.8 505.8 1202.5 491.0 1204.1 488.1 1205.8 495.5 1207.5 496.6 1209.1 497.0 1210.8 502.6 1212.5 501.2 1214.1 493.7 1215.8 496.1 1217.5 494.7 1219.1 504.2 1220.8 492.0 1222.5 506.5 1224.2 488.2 1225.8 499.7 1227.5 495.8 1229.2 503.8 1230.8 499.0 1232.5 504.4 1234.2 497.1 1235.8 512.8 1237.5 489.0 1239.2 496.7 1240.8 492.6 1242.5 499.3 1244.2 494.2 1244.3 495.1 1245.5 235.2 1245.8 503.9 1246.7 504.8 1247.5 505.5 1249.2 501.6 1250.9 510.2 1252.5 491.9 1254.2 501.2 1255.9 500.1 1257.5 505.2 1259.2 494.0 1260.9 489.7 1262.5 501.0 1264.2 489.5 1265.9 495.6 1267.5 496.5 1269.2 511.9 1270.9 505.5 1272.5 488.6 1274.2 489.6 1275.9 480.3 1277.5 503.0 1279.2 491.6 1280.9 510.1 1282.6 504.8 1284.2 506.7 1285.9 504.7 1287.6 495.3 1289.2 486.2 1290.9 496.1 1292.6 507.7 1294.2 486.8 1295.9 494.7 1297.6 510.2 1299.2 486.3 1300.9 497.1 1302.6 491.3 1304.2 502.5 1305.9 501.7 1307.6 494.1 1309.2 510.6 1310.9 497.0 1312.6 490.3 1314.3 493.9 1315.9 498.1 1317.6 500.9 1319.3 500.9 1320.9 485.4 1322.6 495.2 1324.3 496.0 1325.9 505.0 1327.6 494.2 1329.3 491.3 1330.9 516.1 1332.6 483.9 1334.3 490.8 1335.9 499.1 1337.6 512.3 1339.3 477.6 1341.0 491.9 1342.6 501.6 1344.3 509.4 1346.0 489.0 1347.6 512.7 1349.3 497.8 1351.0 500.2 1352.6 507.7 1354.3 503.7 1356.0 503.6 1357.6 490.4 1359.3 494.4 1361.0 488.3 1362.6 506.0 1364.3 487.1 1366.0 494.8 1367.6 487.4 1369.3 500.2 1371.0 493.7 1372.7 505.5 1374.3 488.2 1376.0 496.8 1377.7 502.7 1379.3 498.9 1381.0 497.3 1382.7 513.2 1384.3 497.3 1386.0 507.1 1387.7 499.2 1389.3 496.9 1391.0 478.9 1392.7 494.9 1394.3 509.3 1396.0 493.7 1397.7 507.8 1399.3 506.8 1401.0 504.5 1402.7 490.6 1404.4 484.4 1406.0 492.6 1407.7 509.1 1409.4 497.0 1411.0 491.5 1412.7 519.2 1414.4 501.3 1416.0 477.3 1417.7 509.8 1419.4 506.7 1421.0 507.9 1422.7 486.5 1424.4 490.2 1426.0 491.7 1427.7 488.1 1429.4 503.3 1431.1 513.7 1432.7 493.3 1434.4 511.5 1436.1 492.5 1437.7 493.4 1439.4 496.3 1441.1 486.8 1442.7 494.2 1444.4 507.7 1446.1 504.0 1447.7 491.8 1449.4 502.8 1451.1 492.2 1452.7 499.7 1454.4 495.1 1456.1 505.2 1457.7 498.7 1459.4 510.8 1461.1 503.2 1462.8 492.8 1464.4 502.8 1466.1 505.3 1467.8 490.1 1469.4 491.0 1471.1 507.0 1472.8 495.3 1474.4 493.1 1476.1 504.4 1477.8 503.1 1479.4 497.9 1481.1 483.8 1482.8 496.0 1484.4 495.4 1486.1 516.1 1487.8 490.2 1489.4 484.0 1491.1 499.9 1492.8 483.0 1494.5 485.0 1496.1 480.1 1497.8 485.7 1499.5 484.6 1501.1 463.7 1502.8 469.0 1504.5 492.1 1506.1 498.8 1507.8 482.7 1509.5 483.3 1511.1 487.4 1512.8 490.8 1514.5 479.1 1516.1 517.2 1517.8 501.6 1519.5 489.3 1521.2 491.2 1522.8 491.9 1524.5 502.7 1526.2 482.8 1527.8 489.0 1529.5 490.3 1531.2 493.7 1532.8 509.5 1534.5 502.5" stroke="#000000" stroke-width="1.05" stroke-opacity="0.85" fill="none" stroke-linejoin="round"/>
<path d="M935.5 484.8 937.2 473.2 938.8 487.7 940.5 485.9 942.2 473.1 943.8 483.6 945.5 498.2 947.2 468.4 948.8 481.0 950.5 485.4 952.2 482.5 953.9 475.2 955.5 482.7 957.2 462.7 958.9 472.7 960.5 470.3 962.2 472.2 963.9 478.9 965.5 472.6 967.2 459.8 968.9 479.1 970.5 477.2 972.2 474.4 973.9 485.3 975.5 473.7 977.2 493.1 978.9 481.8 980.6 495.4 982.2 491.5 983.9 492.9 985.6 469.5 987.2 496.8 988.9 484.1 990.6 489.4 992.2 499.0 993.9 485.5 995.6 493.4 997.2 506.5 998.9 507.6 1000.6 492.0 1002.2 491.8 1003.9 506.3 1005.6 492.7 1007.2 496.0 1008.9 489.4 1010.6 499.2 1012.3 492.9 1013.9 494.5 1015.6 488.8 1017.3 484.8 1018.9 476.7 1020.6 505.9 1022.3 491.4 1023.9 501.1 1025.6 503.1 1027.3 508.3 1028.9 498.5 1030.6 493.6 1032.3 496.1 1033.9 492.3 1035.6 492.6 1037.3 490.4 1038.9 493.8 1040.6 491.7 1042.3 492.9 1044.0 498.2 1045.6 505.3 1047.3 506.6 1049.0 491.0 1050.6 502.8 1052.3 488.8 1054.0 498.8 1055.6 501.2 1057.3 497.0 1059.0 493.8 1060.6 480.9 1062.3 498.5 1064.0 499.2 1065.6 492.0 1067.3 486.9 1069.0 495.8 1070.7 499.2 1072.3 490.6 1074.0 492.3 1075.7 491.0 1077.3 505.7 1079.0 489.3 1080.7 493.8 1082.3 485.7 1084.0 496.3 1085.7 490.9 1087.3 496.4 1089.0 477.0 1090.7 506.4 1092.3 502.3 1094.0 500.9 1095.7 518.8 1097.3 498.9 1099.0 481.3 1100.7 488.5 1102.4 485.8 1104.0 495.5 1105.7 499.6 1107.4 495.7 1109.0 504.9 1110.7 508.4 1112.4 485.4 1114.0 494.5 1115.7 483.2 1117.4 505.6 1119.0 493.6 1120.7 506.5 1122.4 481.6 1124.0 493.5 1125.7 502.6 1127.4 502.4 1129.0 484.0 1130.7 503.0 1132.4 496.2 1134.1 494.3 1135.7 502.5 1137.4 482.1 1139.1 479.4 1140.7 498.7 1142.4 492.7 1144.1 488.3 1145.7 489.1 1147.4 488.3 1149.1 503.4 1150.7 493.8 1152.4 505.5 1154.1 495.0 1155.7 489.9 1157.4 487.2 1159.1 511.0 1160.8 492.0 1162.4 505.4 1164.1 490.0 1165.8 490.7 1167.4 492.4 1169.1 486.1 1170.8 491.7 1172.4 500.1 1174.1 496.6 1175.8 491.0 1177.4 507.2 1179.1 495.8 1180.8 490.9 1182.4 502.4 1184.1 483.9 1185.8 484.9 1187.4 489.5 1189.1 494.6 1190.8 496.6 1192.5 489.0 1194.1 490.0 1195.8 486.0 1197.5 499.4 1199.1 488.8 1200.8 484.8 1202.5 501.5 1204.1 492.7 1205.8 493.6 1207.5 495.4 1209.1 486.1 1210.8 495.2 1212.5 488.1 1214.1 490.5 1215.8 487.8 1217.5 495.8 1219.1 499.1 1220.8 488.7 1222.5 493.5 1224.2 487.3 1225.8 497.8 1227.5 498.3 1229.2 488.3 1230.8 492.7 1232.5 494.9 1234.2 488.5 1235.8 495.2 1237.5 492.3 1239.2 489.6 1240.8 502.4 1242.5 486.0 1244.2 493.7 1244.3 493.9 1245.5 212.4 1245.8 495.9 1246.7 495.0 1247.5 494.1 1249.2 498.7 1250.9 508.1 1252.5 493.2 1254.2 497.1 1255.9 480.7 1257.5 481.9 1259.2 497.4 1260.9 490.9 1262.5 484.9 1264.2 490.5 1265.9 494.6 1267.5 496.0 1269.2 501.4 1270.9 486.6 1272.5 488.6 1274.2 492.1 1275.9 493.4 1277.5 479.8 1279.2 489.9 1280.9 482.8 1282.6 502.8 1284.2 500.1 1285.9 499.7 1287.6 487.7 1289.2 496.1 1290.9 483.0 1292.6 492.4 1294.2 485.5 1295.9 495.9 1297.6 486.3 1299.2 495.6 1300.9 493.7 1302.6 500.9 1304.2 507.2 1305.9 502.2 1307.6 490.9 1309.2 491.0 1310.9 505.7 1312.6 502.4 1314.3 504.1 1315.9 488.8 1317.6 500.1 1319.3 501.2 1320.9 489.6 1322.6 497.9 1324.3 489.3 1325.9 487.4 1327.6 497.7 1329.3 506.5 1330.9 495.5 1332.6 476.4 1334.3 501.7 1335.9 482.9 1337.6 498.3 1339.3 500.8 1341.0 481.9 1342.6 496.7 1344.3 510.1 1346.0 503.9 1347.6 500.0 1349.3 497.9 1351.0 483.6 1352.6 486.0 1354.3 493.4 1356.0 489.9 1357.6 497.1 1359.3 506.4 1361.0 493.2 1362.6 495.1 1364.3 486.2 1366.0 490.9 1367.6 484.4 1369.3 496.5 1371.0 496.2 1372.7 496.9 1374.3 500.0 1376.0 484.9 1377.7 492.1 1379.3 502.7 1381.0 498.2 1382.7 478.6 1384.3 475.1 1386.0 482.4 1387.7 492.3 1389.3 480.9 1391.0 493.8 1392.7 502.5 1394.3 492.8 1396.0 501.9 1397.7 495.0 1399.3 475.6 1401.0 489.2 1402.7 491.7 1404.4 487.0 1406.0 496.8 1407.7 491.3 1409.4 501.1 1411.0 504.1 1412.7 497.2 1414.4 502.8 1416.0 511.0 1417.7 497.6 1419.4 501.7 1421.0 500.7 1422.7 482.2 1424.4 488.7 1426.0 485.9 1427.7 495.2 1429.4 501.7 1431.1 500.7 1432.7 479.6 1434.4 515.7 1436.1 497.6 1437.7 492.0 1439.4 505.4 1441.1 485.4 1442.7 500.1 1444.4 493.7 1446.1 481.3 1447.7 486.7 1449.4 495.3 1451.1 494.4 1452.7 481.9 1454.4 478.5 1456.1 489.3 1457.7 507.9 1459.4 497.1 1461.1 485.0 1462.8 499.1 1464.4 495.6 1466.1 500.9 1467.8 496.5 1469.4 485.4 1471.1 487.6 1472.8 501.5 1474.4 482.9 1476.1 504.0 1477.8 484.9 1479.4 485.1 1481.1 502.0 1482.8 505.8 1484.4 482.5 1486.1 484.4 1487.8 486.8 1489.4 493.5 1491.1 483.0 1492.8 496.5 1494.5 477.2 1496.1 463.9 1497.8 482.6 1499.5 472.0 1501.1 486.6 1502.8 477.1 1504.5 481.4 1506.1 476.9 1507.8 483.7 1509.5 496.1 1511.1 475.4 1512.8 494.4 1514.5 477.8 1516.1 497.4 1517.8 482.7 1519.5 486.9 1521.2 494.8 1522.8 483.7 1524.5 489.9 1526.2 479.6 1527.8 487.2 1529.5 483.0 1531.2 509.0 1532.8 482.0 1534.5 494.8" stroke="#1a1ae0" stroke-width="1.05" stroke-opacity="0.85" fill="none" stroke-linejoin="round"/>
<path d="M935.5 479.1 937.2 469.6 938.8 466.8 940.5 471.5 942.2 463.2 943.8 465.5 945.5 460.9 947.2 465.2 948.8 470.8 950.5 469.3 952.2 470.5 953.9 467.4 955.5 458.2 957.2 457.9 958.9 453.9 960.5 456.6 962.2 456.1 963.9 470.3 965.5 466.3 967.2 467.6 968.9 470.7 970.5 486.4 972.2 460.9 973.9 477.7 975.5 477.0 977.2 478.9 978.9 461.5 980.6 473.3 982.2 466.0 983.9 480.4 985.6 474.5 987.2 475.1 988.9 483.6 990.6 481.4 992.2 497.5 993.9 492.1 995.6 482.4 997.2 503.0 998.9 481.4 1000.6 482.0 1002.2 489.2 1003.9 476.9 1005.6 479.4 1007.2 473.9 1008.9 481.9 1010.6 478.3 1012.3 480.9 1013.9 495.1 1015.6 483.9 1017.3 484.9 1018.9 482.9 1020.6 483.5 1022.3 476.9 1023.9 484.4 1025.6 490.0 1027.3 479.2 1028.9 501.6 1030.6 496.1 1032.3 473.8 1033.9 496.5 1035.6 481.8 1037.3 493.2 1038.9 478.6 1040.6 481.2 1042.3 475.5 1044.0 479.5 1045.6 474.2 1047.3 491.9 1049.0 471.3 1050.6 487.9 1052.3 477.2 1054.0 485.6 1055.6 474.5 1057.3 480.4 1059.0 482.2 1060.6 478.9 1062.3 484.2 1064.0 483.9 1065.6 471.9 1067.3 479.0 1069.0 483.0 1070.7 487.1 1072.3 473.7 1074.0 490.5 1075.7 484.4 1077.3 493.6 1079.0 489.0 1080.7 485.2 1082.3 480.9 1084.0 484.3 1085.7 476.0 1087.3 499.2 1089.0 466.4 1090.7 479.0 1092.3 479.7 1094.0 490.7 1095.7 475.6 1097.3 490.0 1099.0 484.1 1100.7 482.0 1102.4 479.1 1104.0 479.3 1105.7 490.8 1107.4 494.2 1109.0 472.4 1110.7 477.0 1112.4 478.6 1114.0 479.7 1115.7 479.0 1117.4 498.9 1119.0 483.0 1120.7 475.2 1122.4 482.3 1124.0 476.9 1125.7 479.5 1127.4 486.6 1129.0 489.3 1130.7 483.9 1132.4 474.4 1134.1 496.1 1135.7 475.4 1137.4 498.7 1139.1 466.5 1140.7 484.3 1142.4 481.6 1144.1 486.7 1145.7 474.9 1147.4 488.7 1149.1 471.3 1150.7 464.8 1152.4 482.5 1154.1 489.6 1155.7 476.1 1157.4 488.7 1159.1 485.3 1160.8 480.9 1162.4 473.8 1164.1 491.7 1165.8 476.8 1167.4 478.4 1169.1 483.5 1170.8 476.9 1172.4 481.9 1174.1 485.7 1175.8 499.1 1177.4 503.0 1179.1 482.3 1180.8 477.1 1182.4 491.2 1184.1 485.4 1185.8 469.9 1187.4 475.9 1189.1 497.4 1190.8 477.6 1192.5 485.4 1194.1 478.9 1195.8 482.5 1197.5 491.1 1199.1 466.4 1200.8 504.7 1202.5 492.3 1204.1 474.2 1205.8 484.8 1207.5 481.5 1209.1 492.4 1210.8 477.8 1212.5 490.6 1214.1 494.4 1215.8 494.5 1217.5 475.5 1219.1 485.4 1220.8 479.0 1222.5 481.7 1224.2 486.4 1225.8 494.7 1227.5 482.4 1229.2 479.7 1230.8 494.4 1232.5 489.9 1234.2 492.1 1235.8 502.1 1237.5 482.4 1239.2 480.0 1240.8 485.6 1242.5 482.9 1244.2 483.4 1244.3 482.6 1245.5 209.4 1245.8 474.8 1246.7 476.5 1247.5 478.0 1249.2 477.0 1250.9 491.1 1252.5 480.7 1254.2 485.0 1255.9 493.9 1257.5 481.0 1259.2 498.6 1260.9 494.1 1262.5 475.9 1264.2 479.3 1265.9 500.3 1267.5 481.7 1269.2 483.8 1270.9 487.1 1272.5 494.3 1274.2 487.4 1275.9 478.8 1277.5 469.8 1279.2 477.6 1280.9 492.0 1282.6 479.0 1284.2 467.4 1285.9 486.3 1287.6 495.2 1289.2 475.8 1290.9 489.7 1292.6 484.2 1294.2 481.8 1295.9 486.2 1297.6 484.7 1299.2 479.2 1300.9 478.5 1302.6 482.0 1304.2 478.2 1305.9 481.9 1307.6 489.9 1309.2 469.7 1310.9 481.7 1312.6 480.2 1314.3 475.6 1315.9 485.4 1317.6 495.7 1319.3 498.6 1320.9 487.8 1322.6 475.9 1324.3 481.3 1325.9 479.7 1327.6 488.5 1329.3 496.5 1330.9 486.8 1332.6 500.0 1334.3 492.1 1335.9 480.8 1337.6 490.6 1339.3 497.1 1341.0 481.2 1342.6 481.5 1344.3 484.3 1346.0 500.6 1347.6 479.8 1349.3 488.0 1351.0 481.3 1352.6 476.8 1354.3 481.9 1356.0 475.0 1357.6 479.7 1359.3 489.2 1361.0 490.2 1362.6 469.4 1364.3 467.0 1366.0 487.3 1367.6 482.4 1369.3 481.0 1371.0 478.1 1372.7 497.2 1374.3 477.7 1376.0 482.7 1377.7 482.3 1379.3 486.9 1381.0 472.1 1382.7 486.5 1384.3 468.6 1386.0 470.4 1387.7 487.7 1389.3 475.3 1391.0 475.0 1392.7 485.7 1394.3 501.3 1396.0 485.5 1397.7 480.2 1399.3 464.3 1401.0 472.1 1402.7 474.9 1404.4 480.5 1406.0 475.1 1407.7 489.8 1409.4 489.6 1411.0 493.8 1412.7 492.4 1414.4 484.2 1416.0 466.4 1417.7 494.6 1419.4 480.7 1421.0 482.8 1422.7 498.5 1424.4 484.5 1426.0 501.0 1427.7 474.1 1429.4 476.3 1431.1 489.8 1432.7 486.9 1434.4 487.9 1436.1 489.2 1437.7 477.5 1439.4 493.1 1441.1 486.7 1442.7 493.8 1444.4 474.3 1446.1 482.7 1447.7 475.1 1449.4 490.8 1451.1 505.6 1452.7 479.2 1454.4 481.1 1456.1 476.8 1457.7 484.5 1459.4 478.6 1461.1 477.0 1462.8 488.8 1464.4 502.4 1466.1 478.9 1467.8 482.9 1469.4 488.1 1471.1 494.7 1472.8 470.1 1474.4 482.9 1476.1 483.1 1477.8 491.5 1479.4 489.9 1481.1 481.5 1482.8 493.5 1484.4 472.0 1486.1 485.0 1487.8 469.6 1489.4 477.9 1491.1 484.4 1492.8 459.7 1494.5 475.6 1496.1 478.1 1497.8 465.0 1499.5 468.7 1501.1 471.3 1502.8 487.8 1504.5 485.9 1506.1 464.7 1507.8 477.5 1509.5 470.2 1511.1 482.9 1512.8 474.7 1514.5 493.0 1516.1 481.5 1517.8 468.7 1519.5 479.9 1521.2 485.6 1522.8 484.0 1524.5 483.7 1526.2 468.4 1527.8 482.9 1529.5 480.8 1531.2 488.6 1532.8 480.0 1534.5 480.9" stroke="#e02020" stroke-width="1.05" stroke-opacity="0.85" fill="none" stroke-linejoin="round"/>
<path d="M935.5 466.9 937.2 464.8 938.8 455.8 940.5 462.8 942.2 471.8 943.8 464.9 945.5 474.6 947.2 459.0 948.8 455.7 950.5 460.5 952.2 449.3 953.9 448.2 955.5 461.1 957.2 450.2 958.9 459.9 960.5 455.5 962.2 458.0 963.9 455.0 965.5 465.3 967.2 457.3 968.9 466.8 970.5 444.9 972.2 463.0 973.9 461.0 975.5 474.8 977.2 470.0 978.9 462.2 980.6 485.3 982.2 467.7 983.9 475.5 985.6 455.4 987.2 467.7 988.9 466.3 990.6 471.3 992.2 465.6 993.9 483.4 995.6 460.3 997.2 467.6 998.9 486.8 1000.6 470.9 1002.2 473.7 1003.9 461.8 1005.6 476.1 1007.2 473.4 1008.9 470.2 1010.6 475.3 1012.3 460.0 1013.9 469.9 1015.6 479.0 1017.3 471.9 1018.9 475.4 1020.6 460.1 1022.3 482.5 1023.9 488.4 1025.6 456.4 1027.3 473.6 1028.9 464.1 1030.6 473.3 1032.3 477.3 1033.9 469.0 1035.6 472.7 1037.3 478.5 1038.9 488.8 1040.6 470.8 1042.3 462.2 1044.0 463.9 1045.6 484.6 1047.3 462.0 1049.0 484.6 1050.6 477.3 1052.3 472.7 1054.0 472.8 1055.6 479.9 1057.3 475.8 1059.0 472.2 1060.6 472.3 1062.3 467.5 1064.0 465.6 1065.6 472.1 1067.3 478.9 1069.0 467.1 1070.7 473.2 1072.3 479.5 1074.0 492.6 1075.7 471.8 1077.3 467.8 1079.0 464.7 1080.7 481.2 1082.3 473.9 1084.0 487.6 1085.7 472.0 1087.3 471.3 1089.0 480.3 1090.7 469.3 1092.3 465.4 1094.0 465.0 1095.7 480.8 1097.3 473.1 1099.0 464.8 1100.7 474.8 1102.4 476.4 1104.0 475.4 1105.7 466.0 1107.4 475.1 1109.0 488.5 1110.7 467.8 1112.4 450.1 1114.0 469.4 1115.7 461.9 1117.4 470.4 1119.0 474.9 1120.7 481.3 1122.4 468.9 1124.0 473.1 1125.7 465.6 1127.4 471.8 1129.0 467.6 1130.7 489.6 1132.4 470.3 1134.1 468.0 1135.7 470.5 1137.4 462.1 1139.1 473.8 1140.7 467.7 1142.4 489.1 1144.1 467.0 1145.7 467.2 1147.4 480.5 1149.1 491.3 1150.7 481.5 1152.4 474.0 1154.1 460.5 1155.7 483.4 1157.4 470.2 1159.1 468.8 1160.8 469.4 1162.4 479.4 1164.1 468.5 1165.8 485.1 1167.4 489.8 1169.1 474.7 1170.8 481.2 1172.4 492.6 1174.1 463.3 1175.8 467.7 1177.4 469.2 1179.1 481.7 1180.8 479.8 1182.4 487.0 1184.1 474.3 1185.8 476.3 1187.4 474.4 1189.1 462.1 1190.8 478.3 1192.5 475.6 1194.1 486.3 1195.8 461.3 1197.5 464.0 1199.1 493.0 1200.8 492.3 1202.5 460.2 1204.1 458.0 1205.8 468.1 1207.5 462.1 1209.1 484.7 1210.8 473.3 1212.5 466.9 1214.1 475.3 1215.8 481.8 1217.5 475.2 1219.1 481.1 1220.8 458.0 1222.5 477.0 1224.2 479.7 1225.8 489.7 1227.5 461.8 1229.2 475.4 1230.8 469.3 1232.5 474.9 1234.2 471.7 1235.8 473.8 1237.5 479.0 1239.2 470.0 1240.8 480.7 1242.5 471.7 1244.2 470.9 1244.3 470.6 1245.5 203.9 1245.8 467.3 1246.7 474.8 1247.5 481.5 1249.2 454.4 1250.9 472.3 1252.5 483.9 1254.2 488.0 1255.9 473.5 1257.5 475.0 1259.2 469.0 1260.9 487.3 1262.5 474.9 1264.2 470.8 1265.9 466.4 1267.5 489.1 1269.2 479.7 1270.9 481.2 1272.5 475.7 1274.2 477.1 1275.9 473.9 1277.5 482.4 1279.2 471.2 1280.9 487.7 1282.6 475.2 1284.2 457.1 1285.9 483.4 1287.6 459.9 1289.2 463.8 1290.9 478.8 1292.6 470.8 1294.2 469.8 1295.9 483.0 1297.6 492.5 1299.2 477.2 1300.9 486.0 1302.6 470.2 1304.2 489.3 1305.9 457.4 1307.6 454.8 1309.2 481.3 1310.9 492.1 1312.6 472.2 1314.3 479.4 1315.9 475.9 1317.6 488.4 1319.3 487.3 1320.9 470.6 1322.6 486.3 1324.3 492.1 1325.9 470.8 1327.6 470.1 1329.3 477.9 1330.9 484.1 1332.6 461.3 1334.3 478.2 1335.9 469.5 1337.6 486.5 1339.3 486.8 1341.0 473.3 1342.6 462.2 1344.3 483.8 1346.0 480.1 1347.6 478.5 1349.3 463.3 1351.0 475.3 1352.6 471.7 1354.3 467.3 1356.0 468.9 1357.6 461.0 1359.3 486.1 1361.0 472.5 1362.6 471.9 1364.3 485.3 1366.0 473.8 1367.6 472.8 1369.3 478.1 1371.0 480.6 1372.7 464.3 1374.3 472.6 1376.0 475.5 1377.7 472.6 1379.3 479.0 1381.0 472.8 1382.7 470.7 1384.3 482.1 1386.0 475.6 1387.7 475.4 1389.3 473.5 1391.0 478.2 1392.7 474.9 1394.3 478.8 1396.0 482.3 1397.7 479.3 1399.3 488.4 1401.0 469.8 1402.7 471.9 1404.4 482.4 1406.0 482.9 1407.7 482.4 1409.4 485.1 1411.0 484.6 1412.7 470.6 1414.4 477.6 1416.0 467.5 1417.7 470.8 1419.4 471.5 1421.0 486.0 1422.7 460.1 1424.4 476.5 1426.0 494.4 1427.7 477.1 1429.4 478.1 1431.1 470.3 1432.7 483.7 1434.4 473.9 1436.1 478.2 1437.7 464.9 1439.4 477.6 1441.1 470.9 1442.7 466.6 1444.4 481.9 1446.1 472.4 1447.7 474.9 1449.4 461.4 1451.1 469.9 1452.7 481.1 1454.4 459.2 1456.1 479.5 1457.7 475.3 1459.4 473.9 1461.1 469.9 1462.8 480.6 1464.4 476.8 1466.1 478.0 1467.8 473.2 1469.4 481.7 1471.1 478.4 1472.8 486.6 1474.4 460.0 1476.1 470.1 1477.8 463.7 1479.4 480.1 1481.1 488.5 1482.8 486.9 1484.4 483.1 1486.1 467.2 1487.8 473.9 1489.4 474.0 1491.1 478.8 1492.8 452.6 1494.5 477.0 1496.1 466.1 1497.8 465.5 1499.5 463.5 1501.1 463.1 1502.8 458.5 1504.5 439.4 1506.1 452.8 1507.8 460.6 1509.5 473.3 1511.1 452.8 1512.8 453.6 1514.5 473.2 1516.1 464.9 1517.8 490.5 1519.5 480.3 1521.2 462.9 1522.8 487.7 1524.5 467.9 1526.2 464.3 1527.8 486.3 1529.5 475.3 1531.2 461.6 1532.8 453.8 1534.5 473.7" stroke="#30d030" stroke-width="1.05" stroke-opacity="0.85" fill="none" stroke-linejoin="round"/>
<path d="M935.5 452.2 937.2 470.1 938.8 458.0 940.5 456.4 942.2 449.1 943.8 451.1 945.5 449.7 947.2 459.2 948.8 451.8 950.5 457.9 952.2 458.7 953.9 468.4 955.5 451.7 957.2 455.0 958.9 465.4 960.5 440.4 962.2 453.9 963.9 447.0 965.5 447.3 967.2 452.0 968.9 449.3 970.5 444.5 972.2 459.9 973.9 466.1 975.5 448.2 977.2 454.5 978.9 467.2 980.6 454.2 982.2 474.8 983.9 465.2 985.6 464.3 987.2 467.7 988.9 464.4 990.6 472.6 992.2 482.2 993.9 473.7 995.6 464.0 997.2 468.4 998.9 469.2 1000.6 471.5 1002.2 459.7 1003.9 473.1 1005.6 466.5 1007.2 466.4 1008.9 476.6 1010.6 462.1 1012.3 465.1 1013.9 463.9 1015.6 480.1 1017.3 459.0 1018.9 472.1 1020.6 469.2 1022.3 465.5 1023.9 461.5 1025.6 473.4 1027.3 466.2 1028.9 468.7 1030.6 469.2 1032.3 469.1 1033.9 476.9 1035.6 469.5 1037.3 459.1 1038.9 477.3 1040.6 482.4 1042.3 457.4 1044.0 480.4 1045.6 471.9 1047.3 474.3 1049.0 467.3 1050.6 472.3 1052.3 465.4 1054.0 473.2 1055.6 478.4 1057.3 449.5 1059.0 468.3 1060.6 465.0 1062.3 479.5 1064.0 475.0 1065.6 473.2 1067.3 461.0 1069.0 475.9 1070.7 465.0 1072.3 471.6 1074.0 474.6 1075.7 463.0 1077.3 466.5 1079.0 477.5 1080.7 463.5 1082.3 479.5 1084.0 464.8 1085.7 469.7 1087.3 450.4 1089.0 464.6 1090.7 451.3 1092.3 464.0 1094.0 472.0 1095.7 462.9 1097.3 481.0 1099.0 478.9 1100.7 469.7 1102.4 456.3 1104.0 461.2 1105.7 480.1 1107.4 485.8 1109.0 466.5 1110.7 481.9 1112.4 478.3 1114.0 474.3 1115.7 477.2 1117.4 476.1 1119.0 471.0 1120.7 461.2 1122.4 474.5 1124.0 468.8 1125.7 465.5 1127.4 465.1 1129.0 470.0 1130.7 475.4 1132.4 469.8 1134.1 481.3 1135.7 469.9 1137.4 458.9 1139.1 464.3 1140.7 493.9 1142.4 464.7 1144.1 464.6 1145.7 472.0 1147.4 463.5 1149.1 463.7 1150.7 470.4 1152.4 471.3 1154.1 478.8 1155.7 460.7 1157.4 487.5 1159.1 466.2 1160.8 472.2 1162.4 468.7 1164.1 472.6 1165.8 469.8 1167.4 476.4 1169.1 476.9 1170.8 455.5 1172.4 472.0 1174.1 458.0 1175.8 462.8 1177.4 467.5 1179.1 466.6 1180.8 469.5 1182.4 461.3 1184.1 470.0 1185.8 472.3 1187.4 463.6 1189.1 469.2 1190.8 464.8 1192.5 474.3 1194.1 469.6 1195.8 461.3 1197.5 461.4 1199.1 478.0 1200.8 470.1 1202.5 477.9 1204.1 462.8 1205.8 476.9 1207.5 483.9 1209.1 478.7 1210.8 479.0 1212.5 449.9 1214.1 474.1 1215.8 463.2 1217.5 475.3 1219.1 466.1 1220.8 459.2 1222.5 461.7 1224.2 458.3 1225.8 461.5 1227.5 471.0 1229.2 465.2 1230.8 468.0 1232.5 473.2 1234.2 451.8 1235.8 477.1 1237.5 479.6 1239.2 473.5 1240.8 460.2 1242.5 472.4 1244.2 467.1 1244.3 467.8 1245.5 207.9 1245.8 475.0 1246.7 466.6 1247.5 459.2 1249.2 466.4 1250.9 468.4 1252.5 457.5 1254.2 475.8 1255.9 457.1 1257.5 462.1 1259.2 478.8 1260.9 470.4 1262.5 464.9 1264.2 477.6 1265.9 475.8 1267.5 457.4 1269.2 446.6 1270.9 455.7 1272.5 464.0 1274.2 467.9 1275.9 476.8 1277.5 462.5 1279.2 473.0 1280.9 468.4 1282.6 467.7 1284.2 461.8 1285.9 464.2 1287.6 486.4 1289.2 473.6 1290.9 460.8 1292.6 458.2 1294.2 462.4 1295.9 460.5 1297.6 477.6 1299.2 469.1 1300.9 467.9 1302.6 461.1 1304.2 467.7 1305.9 472.8 1307.6 460.8 1309.2 468.1 1310.9 463.6 1312.6 481.9 1314.3 467.6 1315.9 464.1 1317.6 456.8 1319.3 467.8 1320.9 481.5 1322.6 479.0 1324.3 459.5 1325.9 460.4 1327.6 470.3 1329.3 475.5 1330.9 459.9 1332.6 472.9 1334.3 469.1 1335.9 480.7 1337.6 490.0 1339.3 467.0 1341.0 453.9 1342.6 471.3 1344.3 478.9 1346.0 458.0 1347.6 476.9 1349.3 486.0 1351.0 473.1 1352.6 466.4 1354.3 475.7 1356.0 469.0 1357.6 468.9 1359.3 468.5 1361.0 456.7 1362.6 467.4 1364.3 464.4 1366.0 458.0 1367.6 471.5 1369.3 461.7 1371.0 473.7 1372.7 468.4 1374.3 469.5 1376.0 460.7 1377.7 461.6 1379.3 474.5 1381.0 476.9 1382.7 478.0 1384.3 476.7 1386.0 474.2 1387.7 469.3 1389.3 475.8 1391.0 453.9 1392.7 458.8 1394.3 451.8 1396.0 464.7 1397.7 463.1 1399.3 470.3 1401.0 458.9 1402.7 464.0 1404.4 469.3 1406.0 465.2 1407.7 453.3 1409.4 455.1 1411.0 468.2 1412.7 484.2 1414.4 491.8 1416.0 469.0 1417.7 469.0 1419.4 468.9 1421.0 465.3 1422.7 464.2 1424.4 474.9 1426.0 473.3 1427.7 455.4 1429.4 450.2 1431.1 466.9 1432.7 466.9 1434.4 461.1 1436.1 465.0 1437.7 467.4 1439.4 468.0 1441.1 455.9 1442.7 473.6 1444.4 463.5 1446.1 477.2 1447.7 463.3 1449.4 465.2 1451.1 468.5 1452.7 464.8 1454.4 481.8 1456.1 474.2 1457.7 471.3 1459.4 467.0 1461.1 468.1 1462.8 473.5 1464.4 467.2 1466.1 464.8 1467.8 447.4 1469.4 466.2 1471.1 464.9 1472.8 465.1 1474.4 470.0 1476.1 470.8 1477.8 460.9 1479.4 468.9 1481.1 470.4 1482.8 466.0 1484.4 452.2 1486.1 473.7 1487.8 466.3 1489.4 459.7 1491.1 456.0 1492.8 445.9 1494.5 441.9 1496.1 461.8 1497.8 449.5 1499.5 439.2 1501.1 444.9 1502.8 460.9 1504.5 459.1 1506.1 454.1 1507.8 449.0 1509.5 465.2 1511.1 451.4 1512.8 464.7 1514.5 455.8 1516.1 456.2 1517.8 459.5 1519.5 456.0 1521.2 465.1 1522.8 464.1 1524.5 455.6 1526.2 471.2 1527.8 471.8 1529.5 478.4 1531.2 453.4 1532.8 473.4 1534.5 459.8" stroke="#000000" stroke-width="1.05" stroke-opacity="0.85" fill="none" stroke-linejoin="round"/>
<path d="M935.5 460.5 937.2 459.1 938.8 461.9 940.5 468.8 942.2 462.3 943.8 441.6 945.5 464.2 947.2 458.7 948.8 450.4 950.5 450.8 952.2 460.0 953.9 444.1 955.5 443.3 957.2 452.3 958.9 450.4 960.5 452.8 962.2 446.6 963.9 448.3 965.5 441.2 967.2 464.8 968.9 443.8 970.5 453.6 972.2 441.9 973.9 445.7 975.5 458.6 977.2 459.6 978.9 465.4 980.6 472.0 982.2 467.1 983.9 460.4 985.6 469.9 987.2 479.6 988.9 469.4 990.6 478.4 992.2 469.4 993.9 464.3 995.6 462.2 997.2 460.6 998.9 476.8 1000.6 491.3 1002.2 470.4 1003.9 472.1 1005.6 464.1 1007.2 464.6 1008.9 472.6 1010.6 469.8 1012.3 463.2 1013.9 475.8 1015.6 488.2 1017.3 467.5 1018.9 469.1 1020.6 474.6 1022.3 459.8 1023.9 471.5 1025.6 476.4 1027.3 468.5 1028.9 456.0 1030.6 479.4 1032.3 463.5 1033.9 481.0 1035.6 464.6 1037.3 474.4 1038.9 473.9 1040.6 464.7 1042.3 449.7 1044.0 485.0 1045.6 472.4 1047.3 477.2 1049.0 460.8 1050.6 469.9 1052.3 477.8 1054.0 463.5 1055.6 465.1 1057.3 471.5 1059.0 463.8 1060.6 467.7 1062.3 462.7 1064.0 479.5 1065.6 465.3 1067.3 462.8 1069.0 477.7 1070.7 441.3 1072.3 457.8 1074.0 468.3 1075.7 475.0 1077.3 472.4 1079.0 470.6 1080.7 466.6 1082.3 481.3 1084.0 479.7 1085.7 459.6 1087.3 481.5 1089.0 453.9 1090.7 471.6 1092.3 482.4 1094.0 477.8 1095.7 456.5 1097.3 468.5 1099.0 478.9 1100.7 459.9 1102.4 466.2 1104.0 475.7 1105.7 479.7 1107.4 483.2 1109.0 470.1 1110.7 466.2 1112.4 457.9 1114.0 457.5 1115.7 462.0 1117.4 482.4 1119.0 475.1 1120.7 465.8 1122.4 472.3 1124.0 469.2 1125.7 473.8 1127.4 470.2 1129.0 461.8 1130.7 465.9 1132.4 482.0 1134.1 474.0 1135.7 479.7 1137.4 483.7 1139.1 462.1 1140.7 470.4 1142.4 449.9 1144.1 464.6 1145.7 465.8 1147.4 474.3 1149.1 476.1 1150.7 463.7 1152.4 474.3 1154.1 457.1 1155.7 461.8 1157.4 461.9 1159.1 468.3 1160.8 477.5 1162.4 459.8 1164.1 474.6 1165.8 469.8 1167.4 463.2 1169.1 472.7 1170.8 473.4 1172.4 480.8 1174.1 460.7 1175.8 455.4 1177.4 476.7 1179.1 459.9 1180.8 453.4 1182.4 454.7 1184.1 460.6 1185.8 474.8 1187.4 481.3 1189.1 474.9 1190.8 464.9 1192.5 457.3 1194.1 458.1 1195.8 469.9 1197.5 465.2 1199.1 472.4 1200.8 483.8 1202.5 474.3 1204.1 459.9 1205.8 462.2 1207.5 467.8 1209.1 468.5 1210.8 449.3 1212.5 464.8 1214.1 471.1 1215.8 480.4 1217.5 474.0 1219.1 465.4 1220.8 473.1 1222.5 464.7 1224.2 472.9 1225.8 446.1 1227.5 472.3 1229.2 461.2 1230.8 475.0 1232.5 466.4 1234.2 461.5 1235.8 467.1 1237.5 483.1 1239.2 456.8 1240.8 463.2 1242.5 476.7 1244.2 473.1 1244.3 472.3 1245.5 257.9 1245.8 464.0 1246.7 470.4 1247.5 476.1 1249.2 464.3 1250.9 480.2 1252.5 468.7 1254.2 463.0 1255.9 473.3 1257.5 468.6 1259.2 466.6 1260.9 457.7 1262.5 459.7 1264.2 467.9 1265.9 467.5 1267.5 473.0 1269.2 473.2 1270.9 473.9 1272.5 474.8 1274.2 463.0 1275.9 472.4 1277.5 477.5 1279.2 477.3 1280.9 471.4 1282.6 466.7 1284.2 475.4 1285.9 479.1 1287.6 469.0 1289.2 462.6 1290.9 479.2 1292.6 474.3 1294.2 486.5 1295.9 450.5 1297.6 479.5 1299.2 480.8 1300.9 468.7 1302.6 473.7 1304.2 464.4 1305.9 477.8 1307.6 469.9 1309.2 469.0 1310.9 466.3 1312.6 455.2 1314.3 471.1 1315.9 477.7 1317.6 467.0 1319.3 476.7 1320.9 463.0 1322.6 468.4 1324.3 469.7 1325.9 483.7 1327.6 483.5 1329.3 475.7 1330.9 471.2 1332.6 488.0 1334.3 474.9 1335.9 469.0 1337.6 475.9 1339.3 463.1 1341.0 468.7 1342.6 457.8 1344.3 476.6 1346.0 467.0 1347.6 493.7 1349.3 477.6 1351.0 462.9 1352.6 474.2 1354.3 475.1 1356.0 481.0 1357.6 456.8 1359.3 460.2 1361.0 471.1 1362.6 468.0 1364.3 470.9 1366.0 482.5 1367.6 468.1 1369.3 475.4 1371.0 477.5 1372.7 461.8 1374.3 470.6 1376.0 479.4 1377.7 466.3 1379.3 471.2 1381.0 468.0 1382.7 471.9 1384.3 468.2 1386.0 468.5 1387.7 478.3 1389.3 453.2 1391.0 468.7 1392.7 491.5 1394.3 462.5 1396.0 483.2 1397.7 467.6 1399.3 457.8 1401.0 473.3 1402.7 471.7 1404.4 461.0 1406.0 465.6 1407.7 466.3 1409.4 472.2 1411.0 470.4 1412.7 486.7 1414.4 474.3 1416.0 471.9 1417.7 465.6 1419.4 466.7 1421.0 481.8 1422.7 477.4 1424.4 489.6 1426.0 472.4 1427.7 458.6 1429.4 469.7 1431.1 477.7 1432.7 470.2 1434.4 472.8 1436.1 481.7 1437.7 478.9 1439.4 473.2 1441.1 464.7 1442.7 476.5 1444.4 477.2 1446.1 483.2 1447.7 472.0 1449.4 480.7 1451.1 456.7 1452.7 470.9 1454.4 497.4 1456.1 460.1 1457.7 469.4 1459.4 472.2 1461.1 470.4 1462.8 477.0 1464.4 479.4 1466.1 478.1 1467.8 473.2 1469.4 468.6 1471.1 455.6 1472.8 468.5 1474.4 464.7 1476.1 463.2 1477.8 477.7 1479.4 478.9 1481.1 477.6 1482.8 457.0 1484.4 480.6 1486.1 463.5 1487.8 474.1 1489.4 444.6 1491.1 476.0 1492.8 473.6 1494.5 466.1 1496.1 470.1 1497.8 453.3 1499.5 451.0 1501.1 450.2 1502.8 440.6 1504.5 466.0 1506.1 457.5 1507.8 462.9 1509.5 466.9 1511.1 459.1 1512.8 445.2 1514.5 472.2 1516.1 447.5 1517.8 464.3 1519.5 471.7 1521.2 478.5 1522.8 462.1 1524.5 468.5 1526.2 471.4 1527.8 475.5 1529.5 471.8 1531.2 473.7 1532.8 469.6 1534.5 486.2" stroke="#1a1ae0" stroke-width="1.05" stroke-opacity="0.85" fill="none" stroke-linejoin="round"/>
<path d="M935.5 445.9 937.2 440.2 938.8 451.5 940.5 447.3 942.2 443.5 943.8 458.1 945.5 451.9 947.2 429.4 948.8 443.9 950.5 443.6 952.2 439.7 953.9 444.9 955.5 445.9 957.2 443.9 958.9 432.0 960.5 426.3 962.2 443.2 963.9 439.3 965.5 434.5 967.2 447.6 968.9 438.5 970.5 431.5 972.2 432.2 973.9 423.4 975.5 447.3 977.2 446.7 978.9 441.7 980.6 448.3 982.2 443.4 983.9 453.9 985.6 468.9 987.2 462.4 988.9 469.9 990.6 455.3 992.2 446.5 993.9 452.3 995.6 460.8 997.2 473.2 998.9 457.3 1000.6 462.7 1002.2 462.5 1003.9 457.2 1005.6 438.3 1007.2 460.9 1008.9 463.4 1010.6 469.2 1012.3 450.1 1013.9 465.3 1015.6 472.9 1017.3 461.7 1018.9 455.5 1020.6 467.9 1022.3 458.4 1023.9 471.3 1025.6 448.0 1027.3 467.6 1028.9 458.5 1030.6 465.8 1032.3 462.5 1033.9 455.5 1035.6 462.8 1037.3 458.9 1038.9 448.3 1040.6 437.1 1042.3 451.2 1044.0 457.6 1045.6 456.1 1047.3 468.0 1049.0 466.7 1050.6 466.9 1052.3 454.5 1054.0 458.9 1055.6 460.8 1057.3 438.7 1059.0 458.1 1060.6 451.2 1062.3 454.2 1064.0 457.6 1065.6 453.9 1067.3 470.2 1069.0 457.1 1070.7 449.6 1072.3 444.4 1074.0 459.7 1075.7 446.5 1077.3 451.2 1079.0 460.9 1080.7 470.8 1082.3 455.4 1084.0 463.1 1085.7 448.4 1087.3 454.7 1089.0 469.8 1090.7 461.6 1092.3 454.7 1094.0 447.3 1095.7 478.6 1097.3 453.8 1099.0 468.5 1100.7 459.9 1102.4 465.1 1104.0 450.4 1105.7 455.2 1107.4 443.6 1109.0 447.5 1110.7 463.9 1112.4 476.0 1114.0 460.0 1115.7 462.5 1117.4 457.1 1119.0 464.0 1120.7 463.3 1122.4 451.8 1124.0 456.0 1125.7 463.6 1127.4 454.7 1129.0 465.3 1130.7 457.8 1132.4 450.3 1134.1 462.0 1135.7 469.1 1137.4 456.8 1139.1 461.3 1140.7 443.6 1142.4 459.1 1144.1 463.4 1145.7 467.9 1147.4 476.7 1149.1 465.1 1150.7 457.9 1152.4 465.9 1154.1 454.2 1155.7 450.9 1157.4 452.7 1159.1 463.7 1160.8 464.8 1162.4 451.5 1164.1 463.7 1165.8 463.4 1167.4 462.9 1169.1 447.4 1170.8 473.7 1172.4 449.2 1174.1 451.0 1175.8 445.3 1177.4 454.5 1179.1 439.9 1180.8 452.0 1182.4 465.4 1184.1 470.0 1185.8 458.0 1187.4 454.5 1189.1 455.8 1190.8 450.0 1192.5 448.9 1194.1 478.4 1195.8 458.5 1197.5 458.4 1199.1 453.5 1200.8 464.9 1202.5 448.8 1204.1 457.8 1205.8 447.5 1207.5 463.5 1209.1 459.4 1210.8 469.1 1212.5 466.1 1214.1 460.9 1215.8 462.9 1217.5 455.8 1219.1 454.8 1220.8 458.4 1222.5 458.3 1224.2 467.5 1225.8 461.9 1227.5 460.3 1229.2 464.4 1230.8 452.2 1232.5 453.9 1234.2 465.2 1235.8 462.3 1237.5 459.1 1239.2 457.9 1240.8 446.5 1242.5 460.4 1244.2 463.7 1244.3 463.0 1245.5 211.4 1245.8 455.8 1246.7 454.7 1247.5 453.6 1249.2 448.9 1250.9 466.8 1252.5 461.0 1254.2 457.2 1255.9 457.5 1257.5 471.5 1259.2 455.7 1260.9 447.2 1262.5 453.9 1264.2 460.2 1265.9 467.5 1267.5 467.1 1269.2 459.3 1270.9 465.2 1272.5 465.2 1274.2 472.4 1275.9 455.5 1277.5 452.2 1279.2 459.7 1280.9 454.2 1282.6 458.2 1284.2 445.8 1285.9 459.9 1287.6 459.3 1289.2 468.9 1290.9 459.6 1292.6 462.4 1294.2 463.2 1295.9 446.9 1297.6 452.9 1299.2 450.8 1300.9 456.6 1302.6 466.6 1304.2 458.8 1305.9 450.7 1307.6 466.0 1309.2 460.5 1310.9 459.2 1312.6 450.7 1314.3 458.8 1315.9 453.0 1317.6 453.7 1319.3 461.2 1320.9 457.3 1322.6 469.2 1324.3 462.9 1325.9 454.4 1327.6 455.5 1329.3 455.8 1330.9 458.3 1332.6 451.8 1334.3 453.4 1335.9 457.9 1337.6 471.5 1339.3 433.8 1341.0 439.6 1342.6 465.1 1344.3 445.9 1346.0 460.3 1347.6 448.4 1349.3 465.2 1351.0 458.4 1352.6 462.0 1354.3 452.1 1356.0 450.8 1357.6 457.2 1359.3 476.8 1361.0 457.5 1362.6 466.9 1364.3 445.4 1366.0 462.3 1367.6 475.7 1369.3 459.3 1371.0 469.1 1372.7 454.5 1374.3 468.5 1376.0 455.0 1377.7 471.7 1379.3 448.7 1381.0 458.7 1382.7 452.4 1384.3 460.2 1386.0 441.6 1387.7 460.2 1389.3 453.1 1391.0 459.4 1392.7 448.5 1394.3 470.4 1396.0 471.5 1397.7 454.3 1399.3 464.7 1401.0 466.8 1402.7 454.9 1404.4 458.9 1406.0 479.2 1407.7 458.0 1409.4 463.4 1411.0 467.6 1412.7 452.8 1414.4 454.2 1416.0 447.6 1417.7 463.3 1419.4 466.7 1421.0 437.8 1422.7 451.9 1424.4 453.1 1426.0 466.3 1427.7 462.7 1429.4 452.5 1431.1 483.8 1432.7 469.9 1434.4 456.8 1436.1 474.9 1437.7 453.5 1439.4 461.2 1441.1 473.6 1442.7 459.6 1444.4 459.3 1446.1 460.3 1447.7 454.7 1449.4 472.7 1451.1 464.1 1452.7 455.5 1454.4 457.5 1456.1 457.8 1457.7 436.1 1459.4 463.1 1461.1 464.5 1462.8 454.4 1464.4 461.3 1466.1 451.9 1467.8 461.1 1469.4 444.9 1471.1 464.9 1472.8 461.4 1474.4 451.8 1476.1 458.4 1477.8 451.1 1479.4 452.0 1481.1 450.6 1482.8 467.7 1484.4 449.2 1486.1 455.1 1487.8 451.9 1489.4 460.4 1491.1 447.8 1492.8 443.7 1494.5 446.0 1496.1 443.5 1497.8 445.3 1499.5 447.4 1501.1 441.2 1502.8 446.6 1504.5 446.4 1506.1 442.1 1507.8 438.7 1509.5 433.5 1511.1 439.8 1512.8 449.8 1514.5 458.4 1516.1 450.3 1517.8 462.4 1519.5 463.4 1521.2 471.6 1522.8 446.4 1524.5 447.7 1526.2 466.3 1527.8 456.7 1529.5 454.8 1531.2 445.2 1532.8 446.2 1534.5 465.3" stroke="#e02020" stroke-width="1.05" stroke-opacity="0.85" fill="none" stroke-linejoin="round"/>
<path d="M935.5 440.8 937.2 445.1 938.8 443.3 940.5 452.7 942.2 435.0 943.8 440.1 945.5 436.6 947.2 453.4 948.8 445.5 950.5 449.3 952.2 430.0 953.9 443.2 955.5 422.7 957.2 436.1 958.9 443.2 960.5 427.8 962.2 423.1 963.9 437.9 965.5 441.0 967.2 437.1 968.9 446.8 970.5 446.8 972.2 456.9 973.9 445.9 975.5 453.5 977.2 444.0 978.9 445.1 980.6 441.3 982.2 449.2 983.9 454.5 985.6 443.5 987.2 460.0 988.9 471.8 990.6 466.0 992.2 458.8 993.9 451.1 995.6 447.5 997.2 463.5 998.9 447.0 1000.6 452.5 1002.2 450.5 1003.9 463.6 1005.6 457.4 1007.2 472.6 1008.9 454.8 1010.6 458.6 1012.3 450.0 1013.9 446.7 1015.6 462.8 1017.3 448.3 1018.9 447.0 1020.6 457.7 1022.3 440.6 1023.9 461.7 1025.6 466.8 1027.3 455.3 1028.9 441.7 1030.6 451.2 1032.3 469.2 1033.9 459.5 1035.6 445.6 1037.3 461.2 1038.9 456.6 1040.6 463.5 1042.3 439.7 1044.0 441.8 1045.6 465.6 1047.3 469.7 1049.0 450.8 1050.6 451.8 1052.3 455.2 1054.0 454.2 1055.6 457.5 1057.3 447.8 1059.0 448.2 1060.6 444.7 1062.3 448.0 1064.0 459.5 1065.6 458.5 1067.3 457.2 1069.0 454.1 1070.7 460.5 1072.3 461.6 1074.0 457.0 1075.7 458.6 1077.3 456.1 1079.0 442.3 1080.7 444.5 1082.3 459.0 1084.0 454.3 1085.7 457.5 1087.3 462.0 1089.0 450.9 1090.7 470.9 1092.3 453.8 1094.0 458.0 1095.7 465.5 1097.3 451.9 1099.0 448.1 1100.7 453.8 1102.4 452.4 1104.0 463.0 1105.7 452.4 1107.4 444.1 1109.0 464.9 1110.7 438.3 1112.4 470.1 1114.0 448.8 1115.7 460.8 1117.4 454.2 1119.0 456.1 1120.7 455.9 1122.4 447.9 1124.0 458.3 1125.7 454.3 1127.4 446.6 1129.0 457.0 1130.7 473.1 1132.4 460.3 1134.1 460.5 1135.7 463.1 1137.4 450.9 1139.1 455.2 1140.7 462.3 1142.4 460.5 1144.1 467.5 1145.7 460.3 1147.4 440.8 1149.1 469.7 1150.7 440.7 1152.4 456.3 1154.1 457.6 1155.7 460.5 1157.4 465.9 1159.1 451.0 1160.8 458.6 1162.4 461.4 1164.1 456.5 1165.8 443.6 1167.4 459.8 1169.1 457.3 1170.8 445.2 1172.4 464.3 1174.1 449.2 1175.8 436.4 1177.4 456.1 1179.1 469.3 1180.8 448.3 1182.4 458.6 1184.1 445.3 1185.8 451.8 1187.4 453.6 1189.1 463.0 1190.8 446.4 1192.5 452.1 1194.1 452.2 1195.8 452.0 1197.5 452.0 1199.1 453.9 1200.8 456.2 1202.5 468.7 1204.1 460.2 1205.8 458.4 1207.5 446.6 1209.1 446.9 1210.8 463.3 1212.5 459.5 1214.1 460.3 1215.8 452.9 1217.5 453.1 1219.1 450.5 1220.8 460.6 1222.5 458.0 1224.2 438.6 1225.8 464.3 1227.5 443.4 1229.2 448.9 1230.8 447.5 1232.5 454.0 1234.2 454.9 1235.8 448.7 1237.5 456.1 1239.2 455.3 1240.8 457.1 1242.5 451.6 1244.2 455.6 1244.3 455.7 1245.5 211.7 1245.8 457.3 1246.7 453.5 1247.5 450.0 1249.2 453.3 1250.9 465.2 1252.5 455.3 1254.2 443.7 1255.9 451.6 1257.5 442.6 1259.2 468.3 1260.9 451.8 1262.5 470.5 1264.2 450.0 1265.9 460.1 1267.5 456.3 1269.2 451.4 1270.9 461.7 1272.5 460.6 1274.2 458.1 1275.9 449.1 1277.5 444.2 1279.2 461.2 1280.9 462.5 1282.6 454.7 1284.2 464.8 1285.9 466.2 1287.6 451.1 1289.2 459.4 1290.9 442.9 1292.6 462.6 1294.2 443.3 1295.9 445.5 1297.6 457.8 1299.2 453.6 1300.9 476.7 1302.6 453.2 1304.2 454.7 1305.9 461.7 1307.6 444.4 1309.2 474.2 1310.9 449.6 1312.6 454.8 1314.3 453.6 1315.9 467.2 1317.6 450.1 1319.3 459.4 1320.9 453.9 1322.6 447.9 1324.3 462.1 1325.9 477.9 1327.6 452.5 1329.3 453.4 1330.9 457.1 1332.6 460.3 1334.3 462.5 1335.9 454.1 1337.6 450.3 1339.3 458.5 1341.0 444.5 1342.6 456.6 1344.3 449.5 1346.0 456.0 1347.6 454.6 1349.3 446.6 1351.0 449.0 1352.6 444.7 1354.3 445.2 1356.0 453.8 1357.6 448.1 1359.3 450.0 1361.0 450.2 1362.6 447.5 1364.3 453.1 1366.0 452.6 1367.6 449.8 1369.3 461.4 1371.0 447.2 1372.7 445.9 1374.3 470.2 1376.0 447.9 1377.7 459.6 1379.3 460.5 1381.0 448.8 1382.7 461.3 1384.3 452.3 1386.0 459.3 1387.7 463.9 1389.3 439.9 1391.0 460.4 1392.7 463.9 1394.3 457.2 1396.0 439.9 1397.7 467.2 1399.3 445.3 1401.0 460.1 1402.7 452.6 1404.4 454.8 1406.0 446.0 1407.7 460.4 1409.4 439.2 1411.0 457.4 1412.7 465.5 1414.4 452.7 1416.0 447.8 1417.7 448.7 1419.4 446.5 1421.0 455.9 1422.7 442.6 1424.4 447.2 1426.0 461.5 1427.7 457.3 1429.4 459.9 1431.1 456.3 1432.7 452.2 1434.4 457.6 1436.1 455.4 1437.7 448.0 1439.4 447.2 1441.1 442.4 1442.7 479.1 1444.4 459.1 1446.1 459.6 1447.7 458.3 1449.4 461.1 1451.1 461.4 1452.7 448.2 1454.4 443.6 1456.1 462.7 1457.7 448.0 1459.4 471.5 1461.1 449.6 1462.8 440.5 1464.4 446.4 1466.1 460.5 1467.8 460.9 1469.4 456.4 1471.1 443.6 1472.8 451.0 1474.4 452.1 1476.1 449.5 1477.8 462.1 1479.4 470.6 1481.1 457.5 1482.8 456.3 1484.4 449.3 1486.1 450.4 1487.8 424.0 1489.4 452.2 1491.1 451.9 1492.8 434.6 1494.5 444.2 1496.1 427.6 1497.8 426.8 1499.5 434.5 1501.1 434.6 1502.8 453.2 1504.5 430.2 1506.1 439.7 1507.8 437.1 1509.5 435.4 1511.1 443.4 1512.8 453.7 1514.5 451.4 1516.1 456.6 1517.8 442.0 1519.5 450.8 1521.2 450.9 1522.8 455.9 1524.5 453.6 1526.2 462.3 1527.8 452.3 1529.5 462.2 1531.2 451.4 1532.8 455.8 1534.5 450.2" stroke="#30d030" stroke-width="1.05" stroke-opacity="0.85" fill="none" stroke-linejoin="round"/>
<path d="M935.5 440.8 937.2 435.5 938.8 449.7 940.5 436.5 942.2 447.6 943.8 450.2 945.5 447.1 947.2 437.9 948.8 446.8 950.5 447.8 952.2 442.1 953.9 434.8 955.5 457.7 957.2 430.3 958.9 426.6 960.5 446.5 962.2 437.6 963.9 432.7 965.5 435.5 967.2 420.9 968.9 436.2 970.5 443.1 972.2 443.1 973.9 438.4 975.5 449.5 977.2 450.3 978.9 451.8 980.6 435.2 982.2 445.8 983.9 462.4 985.6 449.3 987.2 476.7 988.9 454.7 990.6 449.7 992.2 452.1 993.9 450.5 995.6 453.3 997.2 460.7 998.9 456.8 1000.6 457.1 1002.2 467.4 1003.9 454.5 1005.6 463.3 1007.2 449.6 1008.9 435.8 1010.6 436.9 1012.3 432.7 1013.9 458.1 1015.6 458.4 1017.3 449.2 1018.9 462.3 1020.6 449.3 1022.3 459.4 1023.9 451.9 1025.6 457.9 1027.3 441.3 1028.9 444.9 1030.6 447.7 1032.3 465.0 1033.9 444.3 1035.6 457.9 1037.3 465.8 1038.9 451.9 1040.6 445.6 1042.3 467.0 1044.0 447.9 1045.6 456.3 1047.3 456.0 1049.0 450.2 1050.6 457.2 1052.3 460.0 1054.0 445.2 1055.6 475.1 1057.3 445.9 1059.0 465.2 1060.6 444.1 1062.3 464.3 1064.0 442.8 1065.6 468.8 1067.3 439.2 1069.0 453.0 1070.7 456.0 1072.3 456.8 1074.0 445.6 1075.7 455.7 1077.3 449.0 1079.0 452.9 1080.7 463.4 1082.3 440.0 1084.0 455.5 1085.7 451.6 1087.3 451.9 1089.0 453.9 1090.7 439.8 1092.3 450.9 1094.0 456.4 1095.7 453.5 1097.3 456.8 1099.0 463.5 1100.7 444.8 1102.4 462.3 1104.0 443.9 1105.7 453.4 1107.4 447.2 1109.0 454.3 1110.7 456.7 1112.4 434.8 1114.0 457.3 1115.7 462.0 1117.4 450.5 1119.0 442.4 1120.7 464.9 1122.4 458.6 1124.0 446.9 1125.7 446.2 1127.4 449.4 1129.0 457.6 1130.7 452.3 1132.4 459.9 1134.1 450.3 1135.7 454.0 1137.4 451.7 1139.1 455.9 1140.7 448.2 1142.4 453.7 1144.1 460.4 1145.7 442.3 1147.4 452.2 1149.1 456.5 1150.7 455.6 1152.4 441.8 1154.1 453.5 1155.7 451.7 1157.4 461.0 1159.1 457.1 1160.8 459.2 1162.4 461.5 1164.1 463.2 1165.8 457.3 1167.4 465.3 1169.1 449.4 1170.8 448.3 1172.4 462.2 1174.1 451.4 1175.8 460.8 1177.4 452.3 1179.1 451.4 1180.8 469.0 1182.4 475.5 1184.1 451.3 1185.8 451.3 1187.4 455.6 1189.1 460.0 1190.8 461.4 1192.5 476.9 1194.1 444.0 1195.8 474.3 1197.5 453.9 1199.1 457.6 1200.8 453.3 1202.5 466.1 1204.1 462.9 1205.8 452.3 1207.5 465.3 1209.1 455.4 1210.8 466.9 1212.5 454.6 1214.1 452.2 1215.8 455.9 1217.5 451.7 1219.1 465.7 1220.8 460.6 1222.5 459.1 1224.2 444.6 1225.8 461.0 1227.5 456.3 1229.2 446.5 1230.8 454.8 1232.5 449.0 1234.2 465.1 1235.8 448.4 1237.5 456.5 1239.2 452.4 1240.8 450.9 1242.5 472.3 1244.2 447.4 1244.3 448.6 1245.5 226.4 1245.8 460.1 1246.7 453.3 1247.5 447.2 1249.2 458.9 1250.9 455.0 1252.5 469.5 1254.2 466.2 1255.9 448.2 1257.5 463.6 1259.2 454.7 1260.9 457.3 1262.5 466.1 1264.2 458.7 1265.9 458.1 1267.5 451.9 1269.2 460.1 1270.9 461.8 1272.5 445.3 1274.2 445.0 1275.9 456.1 1277.5 464.9 1279.2 453.2 1280.9 460.8 1282.6 445.0 1284.2 456.8 1285.9 461.9 1287.6 459.1 1289.2 464.3 1290.9 457.1 1292.6 467.1 1294.2 454.8 1295.9 449.8 1297.6 452.6 1299.2 464.2 1300.9 453.5 1302.6 460.0 1304.2 468.4 1305.9 457.5 1307.6 449.7 1309.2 455.0 1310.9 459.6 1312.6 462.1 1314.3 457.3 1315.9 453.1 1317.6 455.5 1319.3 447.4 1320.9 450.3 1322.6 448.7 1324.3 459.1 1325.9 453.1 1327.6 456.4 1329.3 453.5 1330.9 454.2 1332.6 436.7 1334.3 465.8 1335.9 453.4 1337.6 460.4 1339.3 453.1 1341.0 454.3 1342.6 443.9 1344.3 457.5 1346.0 461.8 1347.6 453.6 1349.3 454.0 1351.0 473.5 1352.6 441.0 1354.3 463.6 1356.0 443.7 1357.6 446.2 1359.3 444.9 1361.0 454.4 1362.6 462.6 1364.3 462.1 1366.0 445.9 1367.6 459.7 1369.3 452.7 1371.0 458.8 1372.7 460.5 1374.3 448.2 1376.0 463.4 1377.7 457.5 1379.3 458.2 1381.0 454.7 1382.7 456.7 1384.3 464.1 1386.0 459.2 1387.7 458.5 1389.3 439.9 1391.0 449.5 1392.7 456.6 1394.3 454.4 1396.0 458.1 1397.7 442.4 1399.3 457.3 1401.0 463.7 1402.7 423.3 1404.4 462.2 1406.0 460.5 1407.7 463.8 1409.4 452.5 1411.0 461.4 1412.7 462.2 1414.4 447.9 1416.0 444.1 1417.7 453.3 1419.4 464.4 1421.0 451.8 1422.7 460.9 1424.4 453.4 1426.0 453.4 1427.7 465.3 1429.4 448.6 1431.1 455.8 1432.7 456.2 1434.4 464.4 1436.1 448.2 1437.7 461.4 1439.4 455.0 1441.1 464.0 1442.7 465.9 1444.4 465.9 1446.1 469.2 1447.7 459.1 1449.4 445.2 1451.1 447.2 1452.7 463.0 1454.4 462.4 1456.1 443.5 1457.7 449.6 1459.4 455.8 1461.1 459.0 1462.8 459.2 1464.4 475.0 1466.1 461.1 1467.8 439.0 1469.4 443.1 1471.1 458.2 1472.8 449.4 1474.4 451.0 1476.1 460.3 1477.8 462.7 1479.4 459.9 1481.1 453.3 1482.8 443.6 1484.4 451.6 1486.1 452.6 1487.8 453.8 1489.4 440.3 1491.1 435.9 1492.8 445.9 1494.5 448.4 1496.1 442.7 1497.8 439.4 1499.5 433.7 1501.1 435.0 1502.8 449.0 1504.5 443.8 1506.1 446.9 1507.8 439.2 1509.5 454.5 1511.1 461.4 1512.8 447.7 1514.5 453.6 1516.1 454.4 1517.8 453.0 1519.5 460.3 1521.2 453.2 1522.8 463.6 1524.5 464.4 1526.2 451.0 1527.8 458.1 1529.5 446.8 1531.2 453.6 1532.8 461.7 1534.5 460.5" stroke="#000000" stroke-width="1.05" stroke-opacity="0.85" fill="none" stroke-linejoin="round"/>
<path d="M935.5 406.2 937.2 419.7 938.8 421.0 940.5 427.9 942.2 419.6 943.8 418.3 945.5 435.4 947.2 436.3 948.8 418.9 950.5 427.6 952.2 420.8 953.9 420.3 955.5 419.0 957.2 421.3 958.9 413.2 960.5 405.5 962.2 403.2 963.9 419.3 965.5 415.2 967.2 415.8 968.9 429.5 970.5 431.0 972.2 420.5 973.9 417.3 975.5 416.6 977.2 430.6 978.9 421.9 980.6 430.3 982.2 434.8 983.9 424.4 985.6 447.6 987.2 453.4 988.9 418.8 990.6 435.4 992.2 428.7 993.9 436.2 995.6 441.1 997.2 445.0 998.9 450.4 1000.6 433.9 1002.2 444.2 1003.9 436.5 1005.6 433.2 1007.2 436.1 1008.9 434.8 1010.6 423.2 1012.3 433.1 1013.9 433.5 1015.6 436.9 1017.3 423.6 1018.9 424.9 1020.6 440.4 1022.3 432.3 1023.9 436.7 1025.6 439.1 1027.3 443.0 1028.9 420.6 1030.6 430.9 1032.3 453.0 1033.9 426.7 1035.6 420.8 1037.3 434.4 1038.9 435.9 1040.6 434.1 1042.3 427.7 1044.0 440.0 1045.6 432.1 1047.3 447.9 1049.0 425.7 1050.6 444.8 1052.3 438.6 1054.0 432.1 1055.6 427.1 1057.3 441.4 1059.0 441.2 1060.6 423.0 1062.3 440.8 1064.0 442.3 1065.6 439.8 1067.3 429.9 1069.0 429.8 1070.7 427.2 1072.3 432.0 1074.0 439.0 1075.7 431.8 1077.3 429.3 1079.0 445.1 1080.7 440.7 1082.3 435.8 1084.0 422.0 1085.7 438.1 1087.3 435.0 1089.0 435.2 1090.7 432.4 1092.3 430.2 1094.0 444.0 1095.7 459.0 1097.3 429.1 1099.0 452.9 1100.7 433.0 1102.4 432.1 1104.0 429.6 1105.7 444.1 1107.4 432.7 1109.0 429.9 1110.7 429.7 1112.4 425.1 1114.0 443.7 1115.7 439.8 1117.4 437.7 1119.0 435.8 1120.7 427.0 1122.4 428.6 1124.0 434.6 1125.7 420.9 1127.4 430.4 1129.0 445.0 1130.7 424.7 1132.4 446.2 1134.1 445.9 1135.7 438.9 1137.4 439.4 1139.1 436.4 1140.7 435.5 1142.4 442.1 1144.1 441.7 1145.7 430.0 1147.4 433.1 1149.1 437.4 1150.7 442.3 1152.4 435.3 1154.1 443.8 1155.7 446.4 1157.4 427.2 1159.1 429.8 1160.8 438.4 1162.4 422.2 1164.1 436.4 1165.8 430.1 1167.4 431.4 1169.1 434.4 1170.8 434.3 1172.4 422.7 1174.1 427.7 1175.8 450.7 1177.4 430.4 1179.1 453.5 1180.8 443.9 1182.4 431.6 1184.1 444.2 1185.8 424.9 1187.4 438.2 1189.1 430.3 1190.8 432.8 1192.5 428.6 1194.1 424.3 1195.8 447.3 1197.5 435.6 1199.1 433.5 1200.8 426.5 1202.5 430.6 1204.1 437.4 1205.8 446.5 1207.5 448.4 1209.1 442.8 1210.8 433.7 1212.5 433.9 1214.1 423.2 1215.8 432.7 1217.5 428.7 1219.1 446.7 1220.8 433.1 1222.5 439.3 1224.2 440.1 1225.8 424.9 1227.5 435.3 1229.2 435.9 1230.8 435.2 1232.5 446.4 1234.2 448.7 1235.8 419.5 1237.5 434.8 1239.2 435.3 1240.8 433.4 1242.5 439.0 1244.2 437.6 1244.3 438.0 1245.5 208.8 1245.8 442.4 1246.7 437.1 1247.5 432.5 1249.2 436.5 1250.9 426.7 1252.5 422.4 1254.2 444.1 1255.9 429.6 1257.5 438.7 1259.2 417.3 1260.9 433.5 1262.5 427.1 1264.2 439.3 1265.9 424.8 1267.5 441.3 1269.2 445.6 1270.9 455.5 1272.5 435.7 1274.2 438.7 1275.9 433.9 1277.5 443.0 1279.2 435.6 1280.9 435.7 1282.6 444.4 1284.2 419.5 1285.9 417.0 1287.6 433.0 1289.2 430.8 1290.9 429.8 1292.6 429.2 1294.2 441.8 1295.9 432.8 1297.6 420.3 1299.2 436.6 1300.9 437.3 1302.6 442.7 1304.2 438.6 1305.9 453.1 1307.6 435.4 1309.2 426.1 1310.9 432.3 1312.6 433.6 1314.3 434.5 1315.9 434.5 1317.6 443.7 1319.3 450.7 1320.9 419.6 1322.6 430.7 1324.3 453.1 1325.9 421.6 1327.6 438.4 1329.3 426.9 1330.9 435.9 1332.6 440.3 1334.3 428.0 1335.9 437.8 1337.6 455.5 1339.3 430.3 1341.0 435.7 1342.6 435.6 1344.3 437.6 1346.0 431.5 1347.6 422.4 1349.3 426.6 1351.0 432.4 1352.6 434.1 1354.3 441.1 1356.0 420.1 1357.6 451.1 1359.3 443.3 1361.0 436.3 1362.6 433.8 1364.3 432.7 1366.0 438.3 1367.6 419.1 1369.3 424.5 1371.0 450.6 1372.7 442.9 1374.3 446.3 1376.0 423.0 1377.7 438.5 1379.3 447.9 1381.0 437.4 1382.7 445.8 1384.3 434.5 1386.0 429.1 1387.7 444.5 1389.3 432.9 1391.0 432.2 1392.7 440.9 1394.3 430.8 1396.0 440.3 1397.7 429.3 1399.3 436.0 1401.0 438.5 1402.7 423.0 1404.4 426.5 1406.0 437.3 1407.7 461.2 1409.4 432.6 1411.0 439.1 1412.7 431.5 1414.4 434.9 1416.0 437.4 1417.7 437.9 1419.4 423.3 1421.0 422.5 1422.7 424.1 1424.4 444.6 1426.0 438.3 1427.7 433.7 1429.4 451.5 1431.1 426.4 1432.7 444.5 1434.4 427.1 1436.1 440.1 1437.7 432.1 1439.4 450.0 1441.1 456.8 1442.7 442.0 1444.4 447.3 1446.1 446.9 1447.7 439.9 1449.4 433.6 1451.1 429.2 1452.7 444.0 1454.4 448.7 1456.1 437.2 1457.7 445.5 1459.4 446.7 1461.1 440.4 1462.8 427.2 1464.4 434.2 1466.1 454.2 1467.8 420.1 1469.4 447.8 1471.1 435.3 1472.8 443.2 1474.4 428.3 1476.1 432.8 1477.8 425.9 1479.4 433.7 1481.1 436.5 1482.8 424.5 1484.4 450.2 1486.1 444.0 1487.8 444.4 1489.4 432.5 1491.1 433.9 1492.8 435.6 1494.5 421.0 1496.1 421.3 1497.8 428.7 1499.5 435.8 1501.1 405.2 1502.8 420.3 1504.5 428.2 1506.1 422.5 1507.8 421.8 1509.5 431.2 1511.1 420.7 1512.8 427.2 1514.5 433.7 1516.1 421.3 1517.8 435.6 1519.5 421.9 1521.2 432.4 1522.8 436.3 1524.5 424.7 1526.2 438.1 1527.8 430.6 1529.5 424.0 1531.2 438.6 1532.8 440.6 1534.5 429.1" stroke="#1a1ae0" stroke-width="1.05" stroke-opacity="0.85" fill="none" stroke-linejoin="round"/>
<path d="M935.5 417.2 937.2 438.6 938.8 414.3 940.5 427.9 942.2 432.9 943.8 447.6 945.5 419.9 947.2 428.5 948.8 423.5 950.5 446.0 952.2 447.1 953.9 434.7 955.5 426.0 957.2 422.7 958.9 418.1 960.5 434.8 962.2 438.0 963.9 420.0 965.5 434.6 967.2 426.9 968.9 409.8 970.5 431.6 972.2 426.2 973.9 428.7 975.5 432.7 977.2 431.6 978.9 432.7 980.6 438.5 982.2 428.0 983.9 434.2 985.6 451.6 987.2 431.7 988.9 443.1 990.6 445.9 992.2 451.3 993.9 438.3 995.6 445.2 997.2 451.5 998.9 452.0 1000.6 435.4 1002.2 447.7 1003.9 448.3 1005.6 423.8 1007.2 442.0 1008.9 439.4 1010.6 443.7 1012.3 445.1 1013.9 453.0 1015.6 438.9 1017.3 442.4 1018.9 451.7 1020.6 445.6 1022.3 430.1 1023.9 442.4 1025.6 444.3 1027.3 450.1 1028.9 449.6 1030.6 440.3 1032.3 437.6 1033.9 443.1 1035.6 437.1 1037.3 451.6 1038.9 448.1 1040.6 441.8 1042.3 435.1 1044.0 448.7 1045.6 436.8 1047.3 453.7 1049.0 435.5 1050.6 434.0 1052.3 447.4 1054.0 441.8 1055.6 438.5 1057.3 450.3 1059.0 448.0 1060.6 448.3 1062.3 440.1 1064.0 437.0 1065.6 452.2 1067.3 450.7 1069.0 439.3 1070.7 449.9 1072.3 446.2 1074.0 437.8 1075.7 444.1 1077.3 435.8 1079.0 443.7 1080.7 445.5 1082.3 450.6 1084.0 462.9 1085.7 447.7 1087.3 459.6 1089.0 437.9 1090.7 438.2 1092.3 440.7 1094.0 435.2 1095.7 427.0 1097.3 458.9 1099.0 445.6 1100.7 437.7 1102.4 446.4 1104.0 445.4 1105.7 435.5 1107.4 440.2 1109.0 455.9 1110.7 432.4 1112.4 451.2 1114.0 442.6 1115.7 439.7 1117.4 458.4 1119.0 430.3 1120.7 438.9 1122.4 441.3 1124.0 437.9 1125.7 446.4 1127.4 438.6 1129.0 439.1 1130.7 462.6 1132.4 454.4 1134.1 436.7 1135.7 453.1 1137.4 440.0 1139.1 445.9 1140.7 438.5 1142.4 459.2 1144.1 443.5 1145.7 444.4 1147.4 442.2 1149.1 442.5 1150.7 443.8 1152.4 441.4 1154.1 440.5 1155.7 449.2 1157.4 432.6 1159.1 444.4 1160.8 449.5 1162.4 439.0 1164.1 456.5 1165.8 435.7 1167.4 447.4 1169.1 444.1 1170.8 444.3 1172.4 440.7 1174.1 450.0 1175.8 448.6 1177.4 441.9 1179.1 449.9 1180.8 445.3 1182.4 446.1 1184.1 448.0 1185.8 450.9 1187.4 452.0 1189.1 448.6 1190.8 455.2 1192.5 454.5 1194.1 423.0 1195.8 444.9 1197.5 437.5 1199.1 442.7 1200.8 439.0 1202.5 443.9 1204.1 436.8 1205.8 443.3 1207.5 442.6 1209.1 454.9 1210.8 436.9 1212.5 446.5 1214.1 445.1 1215.8 441.5 1217.5 442.8 1219.1 444.9 1220.8 434.6 1222.5 451.8 1224.2 461.2 1225.8 447.3 1227.5 463.0 1229.2 446.2 1230.8 434.5 1232.5 432.2 1234.2 453.5 1235.8 441.5 1237.5 454.5 1239.2 442.0 1240.8 433.5 1242.5 449.7 1244.2 432.1 1244.3 433.1 1245.5 268.5 1245.8 442.4 1246.7 432.2 1247.5 423.1 1249.2 449.3 1250.9 451.6 1252.5 433.6 1254.2 436.9 1255.9 439.4 1257.5 450.5 1259.2 442.9 1260.9 448.4 1262.5 431.5 1264.2 438.9 1265.9 449.4 1267.5 450.7 1269.2 455.8 1270.9 448.7 1272.5 444.0 1274.2 440.4 1275.9 435.0 1277.5 447.7 1279.2 433.5 1280.9 460.2 1282.6 444.5 1284.2 438.4 1285.9 447.8 1287.6 441.7 1289.2 437.0 1290.9 448.2 1292.6 441.9 1294.2 434.6 1295.9 453.4 1297.6 434.4 1299.2 444.6 1300.9 455.4 1302.6 440.5 1304.2 438.0 1305.9 444.9 1307.6 440.7 1309.2 439.4 1310.9 442.9 1312.6 442.3 1314.3 436.5 1315.9 437.0 1317.6 443.4 1319.3 458.4 1320.9 453.8 1322.6 446.4 1324.3 433.9 1325.9 439.2 1327.6 428.8 1329.3 439.5 1330.9 439.8 1332.6 445.9 1334.3 433.2 1335.9 454.3 1337.6 440.4 1339.3 444.4 1341.0 447.5 1342.6 435.5 1344.3 437.7 1346.0 439.9 1347.6 445.8 1349.3 455.1 1351.0 454.2 1352.6 464.0 1354.3 454.3 1356.0 440.7 1357.6 431.9 1359.3 452.4 1361.0 433.2 1362.6 427.8 1364.3 434.2 1366.0 429.3 1367.6 443.5 1369.3 447.2 1371.0 440.9 1372.7 435.2 1374.3 439.3 1376.0 441.5 1377.7 436.5 1379.3 450.2 1381.0 436.5 1382.7 459.3 1384.3 431.2 1386.0 431.4 1387.7 423.6 1389.3 450.4 1391.0 447.6 1392.7 451.4 1394.3 454.9 1396.0 462.1 1397.7 436.5 1399.3 444.8 1401.0 444.1 1402.7 457.8 1404.4 441.7 1406.0 426.3 1407.7 441.7 1409.4 436.1 1411.0 452.6 1412.7 434.0 1414.4 443.2 1416.0 442.0 1417.7 440.0 1419.4 445.0 1421.0 437.3 1422.7 443.8 1424.4 446.5 1426.0 451.8 1427.7 452.5 1429.4 435.8 1431.1 434.0 1432.7 443.7 1434.4 444.4 1436.1 447.6 1437.7 441.4 1439.4 431.3 1441.1 440.6 1442.7 447.3 1444.4 434.1 1446.1 436.5 1447.7 457.6 1449.4 446.6 1451.1 432.4 1452.7 439.5 1454.4 443.2 1456.1 439.2 1457.7 452.4 1459.4 452.3 1461.1 443.6 1462.8 441.7 1464.4 429.3 1466.1 443.5 1467.8 440.1 1469.4 429.7 1471.1 447.5 1472.8 444.7 1474.4 442.1 1476.1 440.0 1477.8 440.7 1479.4 435.9 1481.1 451.3 1482.8 451.8 1484.4 440.9 1486.1 452.9 1487.8 425.3 1489.4 443.8 1491.1 440.7 1492.8 429.7 1494.5 430.7 1496.1 427.4 1497.8 431.3 1499.5 441.2 1501.1 431.2 1502.8 435.2 1504.5 444.0 1506.1 433.1 1507.8 423.7 1509.5 440.5 1511.1 440.2 1512.8 441.7 1514.5 430.6 1516.1 455.1 1517.8 435.4 1519.5 439.4 1521.2 441.9 1522.8 449.5 1524.5 444.4 1526.2 426.6 1527.8 441.1 1529.5 446.4 1531.2 436.3 1532.8 453.7 1534.5 434.1" stroke="#e02020" stroke-width="1.05" stroke-opacity="0.85" fill="none" stroke-linejoin="round"/>
<path d="M935.5 423.8 937.2 428.5 938.8 437.9 940.5 422.1 942.2 419.7 943.8 446.9 945.5 421.4 947.2 429.6 948.8 427.1 950.5 437.6 952.2 431.3 953.9 407.5 955.5 415.3 957.2 421.5 958.9 418.4 960.5 425.0 962.2 418.4 963.9 424.1 965.5 414.8 967.2 426.5 968.9 416.2 970.5 412.3 972.2 422.8 973.9 420.1 975.5 421.3 977.2 430.1 978.9 439.6 980.6 420.9 982.2 430.9 983.9 435.5 985.6 423.6 987.2 441.6 988.9 439.4 990.6 441.3 992.2 444.2 993.9 436.9 995.6 441.0 997.2 424.2 998.9 441.3 1000.6 425.6 1002.2 443.3 1003.9 438.5 1005.6 435.5 1007.2 443.1 1008.9 430.2 1010.6 440.7 1012.3 441.3 1013.9 430.1 1015.6 442.0 1017.3 430.6 1018.9 427.0 1020.6 429.2 1022.3 424.1 1023.9 439.2 1025.6 425.5 1027.3 440.2 1028.9 449.4 1030.6 437.2 1032.3 419.7 1033.9 444.1 1035.6 421.2 1037.3 447.6 1038.9 428.4 1040.6 431.8 1042.3 439.5 1044.0 454.5 1045.6 430.3 1047.3 430.6 1049.0 431.8 1050.6 427.8 1052.3 442.6 1054.0 419.3 1055.6 428.4 1057.3 442.2 1059.0 417.8 1060.6 435.7 1062.3 432.0 1064.0 428.9 1065.6 443.0 1067.3 443.2 1069.0 437.2 1070.7 445.3 1072.3 437.5 1074.0 424.4 1075.7 445.2 1077.3 435.2 1079.0 440.5 1080.7 429.0 1082.3 445.6 1084.0 445.1 1085.7 437.4 1087.3 419.4 1089.0 444.0 1090.7 450.3 1092.3 444.4 1094.0 430.4 1095.7 428.7 1097.3 436.8 1099.0 434.2 1100.7 447.9 1102.4 433.1 1104.0 437.7 1105.7 441.6 1107.4 428.1 1109.0 427.7 1110.7 440.3 1112.4 434.6 1114.0 452.4 1115.7 445.2 1117.4 425.7 1119.0 445.8 1120.7 444.2 1122.4 427.3 1124.0 455.6 1125.7 442.3 1127.4 430.4 1129.0 440.3 1130.7 443.8 1132.4 445.3 1134.1 434.9 1135.7 444.4 1137.4 434.1 1139.1 437.9 1140.7 436.5 1142.4 427.4 1144.1 440.4 1145.7 444.3 1147.4 436.5 1149.1 434.3 1150.7 438.0 1152.4 450.5 1154.1 430.9 1155.7 450.9 1157.4 452.8 1159.1 428.6 1160.8 423.9 1162.4 438.7 1164.1 443.2 1165.8 424.9 1167.4 447.3 1169.1 436.5 1170.8 441.0 1172.4 431.3 1174.1 433.7 1175.8 442.6 1177.4 427.1 1179.1 430.1 1180.8 436.1 1182.4 438.6 1184.1 436.7 1185.8 446.5 1187.4 438.0 1189.1 438.2 1190.8 431.5 1192.5 437.8 1194.1 439.5 1195.8 434.0 1197.5 428.1 1199.1 431.4 1200.8 437.1 1202.5 439.6 1204.1 424.8 1205.8 435.9 1207.5 446.0 1209.1 434.2 1210.8 450.6 1212.5 440.4 1214.1 430.7 1215.8 437.3 1217.5 438.7 1219.1 429.9 1220.8 426.4 1222.5 443.9 1224.2 445.3 1225.8 441.8 1227.5 445.3 1229.2 432.1 1230.8 429.9 1232.5 436.9 1234.2 444.8 1235.8 449.1 1237.5 437.4 1239.2 442.6 1240.8 432.4 1242.5 446.6 1244.2 440.7 1244.3 440.6 1245.5 179.0 1245.8 439.4 1246.7 433.2 1247.5 427.7 1249.2 429.7 1250.9 432.2 1252.5 434.4 1254.2 430.5 1255.9 450.9 1257.5 428.7 1259.2 438.1 1260.9 423.8 1262.5 428.6 1264.2 426.1 1265.9 441.5 1267.5 412.0 1269.2 431.1 1270.9 433.4 1272.5 440.5 1274.2 432.8 1275.9 453.1 1277.5 424.7 1279.2 431.6 1280.9 436.1 1282.6 424.4 1284.2 431.2 1285.9 431.8 1287.6 439.8 1289.2 432.8 1290.9 445.1 1292.6 444.8 1294.2 434.3 1295.9 440.6 1297.6 446.6 1299.2 437.1 1300.9 450.7 1302.6 422.7 1304.2 443.0 1305.9 442.9 1307.6 422.9 1309.2 447.9 1310.9 453.9 1312.6 435.7 1314.3 437.9 1315.9 427.3 1317.6 436.2 1319.3 449.0 1320.9 434.8 1322.6 437.9 1324.3 425.5 1325.9 433.3 1327.6 443.4 1329.3 441.4 1330.9 435.6 1332.6 439.2 1334.3 434.0 1335.9 433.5 1337.6 445.3 1339.3 433.8 1341.0 429.0 1342.6 445.5 1344.3 447.6 1346.0 429.4 1347.6 431.1 1349.3 428.0 1351.0 421.1 1352.6 436.6 1354.3 444.2 1356.0 433.8 1357.6 441.1 1359.3 432.4 1361.0 429.5 1362.6 434.7 1364.3 430.9 1366.0 435.4 1367.6 433.3 1369.3 445.0 1371.0 421.6 1372.7 441.1 1374.3 439.0 1376.0 441.4 1377.7 437.7 1379.3 439.2 1381.0 452.0 1382.7 422.8 1384.3 432.5 1386.0 438.0 1387.7 435.9 1389.3 427.2 1391.0 428.7 1392.7 433.2 1394.3 428.2 1396.0 456.9 1397.7 428.7 1399.3 437.6 1401.0 442.1 1402.7 444.3 1404.4 435.2 1406.0 450.2 1407.7 433.2 1409.4 442.3 1411.0 430.0 1412.7 450.6 1414.4 432.8 1416.0 439.7 1417.7 445.8 1419.4 425.9 1421.0 427.1 1422.7 443.9 1424.4 438.7 1426.0 424.2 1427.7 435.4 1429.4 441.4 1431.1 444.1 1432.7 442.7 1434.4 431.6 1436.1 428.8 1437.7 439.5 1439.4 445.0 1441.1 443.1 1442.7 451.5 1444.4 432.9 1446.1 436.8 1447.7 427.8 1449.4 418.1 1451.1 425.6 1452.7 440.2 1454.4 439.6 1456.1 447.7 1457.7 454.1 1459.4 421.4 1461.1 434.8 1462.8 449.7 1464.4 431.3 1466.1 454.5 1467.8 438.9 1469.4 436.2 1471.1 442.5 1472.8 441.5 1474.4 430.5 1476.1 441.3 1477.8 427.2 1479.4 451.4 1481.1 439.5 1482.8 421.3 1484.4 443.4 1486.1 442.4 1487.8 432.8 1489.4 435.7 1491.1 428.6 1492.8 420.9 1494.5 423.2 1496.1 424.9 1497.8 428.9 1499.5 423.0 1501.1 416.6 1502.8 431.5 1504.5 427.9 1506.1 434.3 1507.8 425.9 1509.5 425.6 1511.1 432.8 1512.8 438.8 1514.5 437.2 1516.1 426.6 1517.8 437.9 1519.5 427.2 1521.2 440.0 1522.8 441.9 1524.5 429.6 1526.2 443.0 1527.8 427.2 1529.5 455.2 1531.2 436.9 1532.8 441.5 1534.5 440.3" stroke="#30d030" stroke-width="1.05" stroke-opacity="0.85" fill="none" stroke-linejoin="round"/>
<path d="M935.5 409.6 937.2 406.7 938.8 424.5 940.5 416.0 942.2 422.8 943.8 422.1 945.5 416.0 947.2 415.2 948.8 422.4 950.5 415.2 952.2 425.0 953.9 415.2 955.5 411.6 957.2 415.7 958.9 423.6 960.5 416.3 962.2 405.9 963.9 400.7 965.5 400.7 967.2 400.4 968.9 395.0 970.5 414.2 972.2 402.3 973.9 420.2 975.5 400.9 977.2 409.3 978.9 428.0 980.6 415.9 982.2 415.1 983.9 431.6 985.6 423.0 987.2 419.3 988.9 411.6 990.6 431.9 992.2 414.6 993.9 435.9 995.6 434.5 997.2 416.5 998.9 421.4 1000.6 434.0 1002.2 414.9 1003.9 423.5 1005.6 426.1 1007.2 430.0 1008.9 449.1 1010.6 427.6 1012.3 419.8 1013.9 428.1 1015.6 421.7 1017.3 428.5 1018.9 416.2 1020.6 451.8 1022.3 423.7 1023.9 435.4 1025.6 426.0 1027.3 422.3 1028.9 418.1 1030.6 421.0 1032.3 417.7 1033.9 436.1 1035.6 426.6 1037.3 445.9 1038.9 425.0 1040.6 441.5 1042.3 418.9 1044.0 426.2 1045.6 430.2 1047.3 433.3 1049.0 426.4 1050.6 432.9 1052.3 439.8 1054.0 424.7 1055.6 435.1 1057.3 424.0 1059.0 435.9 1060.6 438.1 1062.3 409.4 1064.0 423.0 1065.6 417.9 1067.3 430.2 1069.0 428.4 1070.7 428.1 1072.3 411.7 1074.0 422.4 1075.7 427.2 1077.3 428.4 1079.0 427.5 1080.7 419.2 1082.3 427.6 1084.0 427.4 1085.7 416.6 1087.3 419.7 1089.0 421.2 1090.7 411.5 1092.3 428.6 1094.0 437.2 1095.7 441.3 1097.3 428.4 1099.0 425.8 1100.7 419.7 1102.4 439.7 1104.0 439.0 1105.7 429.7 1107.4 430.3 1109.0 439.6 1110.7 429.5 1112.4 422.2 1114.0 430.1 1115.7 408.6 1117.4 422.0 1119.0 434.9 1120.7 430.0 1122.4 440.1 1124.0 410.2 1125.7 430.5 1127.4 430.8 1129.0 422.2 1130.7 431.0 1132.4 433.9 1134.1 428.9 1135.7 419.9 1137.4 419.8 1139.1 439.8 1140.7 442.1 1142.4 424.7 1144.1 431.1 1145.7 432.3 1147.4 419.6 1149.1 424.7 1150.7 432.7 1152.4 423.3 1154.1 434.6 1155.7 432.7 1157.4 412.8 1159.1 430.4 1160.8 423.8 1162.4 430.6 1164.1 431.0 1165.8 437.7 1167.4 437.9 1169.1 417.8 1170.8 409.8 1172.4 422.5 1174.1 423.4 1175.8 432.7 1177.4 428.7 1179.1 415.5 1180.8 406.3 1182.4 422.2 1184.1 424.7 1185.8 418.7 1187.4 426.8 1189.1 434.3 1190.8 435.4 1192.5 430.3 1194.1 431.4 1195.8 447.8 1197.5 443.1 1199.1 421.3 1200.8 419.9 1202.5 421.2 1204.1 429.9 1205.8 433.7 1207.5 428.4 1209.1 425.3 1210.8 432.1 1212.5 418.9 1214.1 433.8 1215.8 447.7 1217.5 422.3 1219.1 420.4 1220.8 429.5 1222.5 419.3 1224.2 418.0 1225.8 449.5 1227.5 424.5 1229.2 438.1 1230.8 422.2 1232.5 425.8 1234.2 420.9 1235.8 430.1 1237.5 433.0 1239.2 425.6 1240.8 407.5 1242.5 424.2 1244.2 436.6 1244.3 435.8 1245.5 254.0 1245.8 428.1 1246.7 429.1 1247.5 430.0 1249.2 417.1 1250.9 426.7 1252.5 430.4 1254.2 426.3 1255.9 433.8 1257.5 423.8 1259.2 437.0 1260.9 431.6 1262.5 426.0 1264.2 439.3 1265.9 439.0 1267.5 434.3 1269.2 415.5 1270.9 420.7 1272.5 427.2 1274.2 419.3 1275.9 420.4 1277.5 432.8 1279.2 436.9 1280.9 417.5 1282.6 433.2 1284.2 422.2 1285.9 440.7 1287.6 428.3 1289.2 438.1 1290.9 422.0 1292.6 421.2 1294.2 424.3 1295.9 421.0 1297.6 432.2 1299.2 424.2 1300.9 422.6 1302.6 434.9 1304.2 422.5 1305.9 425.3 1307.6 423.6 1309.2 429.6 1310.9 428.1 1312.6 423.6 1314.3 426.6 1315.9 422.8 1317.6 438.9 1319.3 419.6 1320.9 434.3 1322.6 418.8 1324.3 439.8 1325.9 432.9 1327.6 425.5 1329.3 424.3 1330.9 431.5 1332.6 435.3 1334.3 422.5 1335.9 419.0 1337.6 435.2 1339.3 437.8 1341.0 432.7 1342.6 428.8 1344.3 442.5 1346.0 436.3 1347.6 422.2 1349.3 434.4 1351.0 434.6 1352.6 415.0 1354.3 418.7 1356.0 413.7 1357.6 427.7 1359.3 428.9 1361.0 431.2 1362.6 440.0 1364.3 445.4 1366.0 428.4 1367.6 434.2 1369.3 422.4 1371.0 419.5 1372.7 440.4 1374.3 439.2 1376.0 425.8 1377.7 415.8 1379.3 414.4 1381.0 433.3 1382.7 427.0 1384.3 415.5 1386.0 433.8 1387.7 435.8 1389.3 416.2 1391.0 433.4 1392.7 437.5 1394.3 414.1 1396.0 431.0 1397.7 430.8 1399.3 422.4 1401.0 414.7 1402.7 420.6 1404.4 425.2 1406.0 423.6 1407.7 423.6 1409.4 424.7 1411.0 441.7 1412.7 424.6 1414.4 438.5 1416.0 433.4 1417.7 426.1 1419.4 428.1 1421.0 424.1 1422.7 427.4 1424.4 423.1 1426.0 411.8 1427.7 436.4 1429.4 418.0 1431.1 411.7 1432.7 430.8 1434.4 430.2 1436.1 428.1 1437.7 423.3 1439.4 433.1 1441.1 430.2 1442.7 427.5 1444.4 426.6 1446.1 415.3 1447.7 431.3 1449.4 420.2 1451.1 420.5 1452.7 425.5 1454.4 425.9 1456.1 433.9 1457.7 433.1 1459.4 424.0 1461.1 425.0 1462.8 429.2 1464.4 417.4 1466.1 425.9 1467.8 426.5 1469.4 428.3 1471.1 418.0 1472.8 422.3 1474.4 424.2 1476.1 437.2 1477.8 412.4 1479.4 437.8 1481.1 422.4 1482.8 435.1 1484.4 437.6 1486.1 450.5 1487.8 421.9 1489.4 419.6 1491.1 423.9 1492.8 423.5 1494.5 429.7 1496.1 417.6 1497.8 418.5 1499.5 427.8 1501.1 418.9 1502.8 417.6 1504.5 424.4 1506.1 406.5 1507.8 427.6 1509.5 401.6 1511.1 409.5 1512.8 424.3 1514.5 408.2 1516.1 413.6 1517.8 413.7 1519.5 423.5 1521.2 434.0 1522.8 444.1 1524.5 424.6 1526.2 428.3 1527.8 432.5 1529.5 410.5 1531.2 423.7 1532.8 440.4 1534.5 429.1" stroke="#000000" stroke-width="1.05" stroke-opacity="0.85" fill="none" stroke-linejoin="round"/>
<path d="M935.5 413.7 937.2 404.7 938.8 400.1 940.5 396.6 942.2 403.7 943.8 410.3 945.5 413.6 947.2 402.8 948.8 396.5 950.5 388.2 952.2 407.7 953.9 413.0 955.5 411.2 957.2 399.5 958.9 396.1 960.5 406.3 962.2 409.2 963.9 414.8 965.5 393.7 967.2 412.2 968.9 396.1 970.5 403.3 972.2 419.1 973.9 414.2 975.5 399.0 977.2 409.0 978.9 413.1 980.6 403.5 982.2 415.5 983.9 415.8 985.6 416.7 987.2 417.7 988.9 410.0 990.6 423.3 992.2 410.4 993.9 407.1 995.6 423.5 997.2 415.6 998.9 428.8 1000.6 418.9 1002.2 409.6 1003.9 411.9 1005.6 422.7 1007.2 414.9 1008.9 415.5 1010.6 418.5 1012.3 418.2 1013.9 403.8 1015.6 440.5 1017.3 424.3 1018.9 412.4 1020.6 420.5 1022.3 416.8 1023.9 417.1 1025.6 421.4 1027.3 419.4 1028.9 425.6 1030.6 419.7 1032.3 413.5 1033.9 411.5 1035.6 415.4 1037.3 421.6 1038.9 422.7 1040.6 433.3 1042.3 421.1 1044.0 427.3 1045.6 425.3 1047.3 422.5 1049.0 419.2 1050.6 418.6 1052.3 419.6 1054.0 428.7 1055.6 423.4 1057.3 414.3 1059.0 420.6 1060.6 416.5 1062.3 419.3 1064.0 407.8 1065.6 406.5 1067.3 399.1 1069.0 422.5 1070.7 413.1 1072.3 429.9 1074.0 413.8 1075.7 415.8 1077.3 422.5 1079.0 407.8 1080.7 418.1 1082.3 431.7 1084.0 407.5 1085.7 418.6 1087.3 412.9 1089.0 424.5 1090.7 425.4 1092.3 429.0 1094.0 427.9 1095.7 413.6 1097.3 415.0 1099.0 432.5 1100.7 419.4 1102.4 419.2 1104.0 425.6 1105.7 417.2 1107.4 425.9 1109.0 412.0 1110.7 422.1 1112.4 418.5 1114.0 447.6 1115.7 423.9 1117.4 420.1 1119.0 425.4 1120.7 422.2 1122.4 428.1 1124.0 413.7 1125.7 428.9 1127.4 423.2 1129.0 409.4 1130.7 411.6 1132.4 421.1 1134.1 431.0 1135.7 436.1 1137.4 417.6 1139.1 419.2 1140.7 423.3 1142.4 423.3 1144.1 404.1 1145.7 413.8 1147.4 420.8 1149.1 422.5 1150.7 423.6 1152.4 418.2 1154.1 422.8 1155.7 419.9 1157.4 424.2 1159.1 414.7 1160.8 418.8 1162.4 429.8 1164.1 397.5 1165.8 418.4 1167.4 424.3 1169.1 430.4 1170.8 419.9 1172.4 425.5 1174.1 407.0 1175.8 416.3 1177.4 425.3 1179.1 434.7 1180.8 414.1 1182.4 433.9 1184.1 416.6 1185.8 419.4 1187.4 442.6 1189.1 422.6 1190.8 407.3 1192.5 427.7 1194.1 438.6 1195.8 434.3 1197.5 421.3 1199.1 418.3 1200.8 413.9 1202.5 418.5 1204.1 428.3 1205.8 424.2 1207.5 422.5 1209.1 421.9 1210.8 430.8 1212.5 415.5 1214.1 411.9 1215.8 421.7 1217.5 419.4 1219.1 430.8 1220.8 418.9 1222.5 427.1 1224.2 427.8 1225.8 414.1 1227.5 419.5 1229.2 424.4 1230.8 433.9 1232.5 420.4 1234.2 407.3 1235.8 417.9 1237.5 418.6 1239.2 410.6 1240.8 403.3 1242.5 415.6 1244.2 411.9 1244.3 412.5 1245.5 250.7 1245.8 418.5 1246.7 417.2 1247.5 416.1 1249.2 416.4 1250.9 411.0 1252.5 423.8 1254.2 417.3 1255.9 417.4 1257.5 420.6 1259.2 424.7 1260.9 413.3 1262.5 422.9 1264.2 432.4 1265.9 413.9 1267.5 431.4 1269.2 413.4 1270.9 440.2 1272.5 419.7 1274.2 405.1 1275.9 421.4 1277.5 410.2 1279.2 422.9 1280.9 425.8 1282.6 421.9 1284.2 411.9 1285.9 409.1 1287.6 408.0 1289.2 412.4 1290.9 419.8 1292.6 436.0 1294.2 425.8 1295.9 407.4 1297.6 432.8 1299.2 415.8 1300.9 416.2 1302.6 433.5 1304.2 417.0 1305.9 423.1 1307.6 418.2 1309.2 420.7 1310.9 421.6 1312.6 427.5 1314.3 436.3 1315.9 405.5 1317.6 427.1 1319.3 422.1 1320.9 423.1 1322.6 422.4 1324.3 426.1 1325.9 415.4 1327.6 420.0 1329.3 424.0 1330.9 424.9 1332.6 415.8 1334.3 427.5 1335.9 415.6 1337.6 409.0 1339.3 411.1 1341.0 415.2 1342.6 433.4 1344.3 413.7 1346.0 417.5 1347.6 408.4 1349.3 424.1 1351.0 423.3 1352.6 407.5 1354.3 426.0 1356.0 410.0 1357.6 416.6 1359.3 439.7 1361.0 423.2 1362.6 423.3 1364.3 430.5 1366.0 435.1 1367.6 419.0 1369.3 428.1 1371.0 425.2 1372.7 427.5 1374.3 421.7 1376.0 415.6 1377.7 413.1 1379.3 415.5 1381.0 422.7 1382.7 421.1 1384.3 415.0 1386.0 409.5 1387.7 420.5 1389.3 430.3 1391.0 417.3 1392.7 414.5 1394.3 423.6 1396.0 409.9 1397.7 423.7 1399.3 419.7 1401.0 416.7 1402.7 406.5 1404.4 429.5 1406.0 415.3 1407.7 413.3 1409.4 420.7 1411.0 411.3 1412.7 425.1 1414.4 429.4 1416.0 430.0 1417.7 425.5 1419.4 428.7 1421.0 415.6 1422.7 419.7 1424.4 431.7 1426.0 406.7 1427.7 417.8 1429.4 433.5 1431.1 435.1 1432.7 419.3 1434.4 408.6 1436.1 422.4 1437.7 411.8 1439.4 406.3 1441.1 413.8 1442.7 422.5 1444.4 430.7 1446.1 425.3 1447.7 408.8 1449.4 419.6 1451.1 428.1 1452.7 423.2 1454.4 421.5 1456.1 410.4 1457.7 424.6 1459.4 404.2 1461.1 417.9 1462.8 416.8 1464.4 429.1 1466.1 416.4 1467.8 417.5 1469.4 413.7 1471.1 425.6 1472.8 417.8 1474.4 432.4 1476.1 427.8 1477.8 399.8 1479.4 422.8 1481.1 425.1 1482.8 410.7 1484.4 418.9 1486.1 394.7 1487.8 415.0 1489.4 408.5 1491.1 415.3 1492.8 402.2 1494.5 410.1 1496.1 386.3 1497.8 414.1 1499.5 403.5 1501.1 400.7 1502.8 416.2 1504.5 411.4 1506.1 414.1 1507.8 422.6 1509.5 407.1 1511.1 435.1 1512.8 423.3 1514.5 423.3 1516.1 412.7 1517.8 417.4 1519.5 408.4 1521.2 407.9 1522.8 417.2 1524.5 427.2 1526.2 413.5 1527.8 425.8 1529.5 422.6 1531.2 419.7 1532.8 407.6 1534.5 397.8" stroke="#1a1ae0" stroke-width="1.05" stroke-opacity="0.85" fill="none" stroke-linejoin="round"/>
<path d="M935.5 423.5 937.2 385.3 938.8 398.8 940.5 402.5 942.2 418.3 943.8 396.5 945.5 410.9 947.2 418.1 948.8 397.4 950.5 397.2 952.2 401.9 953.9 407.1 955.5 395.7 957.2 397.5 958.9 394.3 960.5 392.8 962.2 407.2 963.9 391.4 965.5 404.8 967.2 391.5 968.9 398.8 970.5 400.8 972.2 385.3 973.9 398.1 975.5 400.1 977.2 397.6 978.9 388.6 980.6 430.4 982.2 405.6 983.9 410.6 985.6 403.0 987.2 412.4 988.9 413.5 990.6 408.6 992.2 413.7 993.9 420.5 995.6 413.4 997.2 398.8 998.9 408.9 1000.6 431.9 1002.2 414.7 1003.9 421.4 1005.6 406.2 1007.2 422.7 1008.9 414.3 1010.6 409.6 1012.3 407.0 1013.9 418.6 1015.6 411.4 1017.3 395.6 1018.9 418.9 1020.6 413.3 1022.3 420.5 1023.9 415.1 1025.6 409.6 1027.3 413.1 1028.9 408.2 1030.6 423.8 1032.3 412.3 1033.9 416.0 1035.6 436.5 1037.3 404.6 1038.9 412.6 1040.6 418.2 1042.3 404.9 1044.0 409.1 1045.6 432.4 1047.3 409.7 1049.0 393.9 1050.6 410.9 1052.3 406.6 1054.0 426.9 1055.6 426.0 1057.3 425.0 1059.0 404.7 1060.6 405.9 1062.3 433.7 1064.0 406.1 1065.6 430.4 1067.3 424.9 1069.0 414.3 1070.7 419.1 1072.3 413.9 1074.0 411.8 1075.7 404.0 1077.3 417.4 1079.0 419.0 1080.7 419.3 1082.3 393.7 1084.0 403.8 1085.7 403.5 1087.3 408.7 1089.0 411.2 1090.7 401.5 1092.3 413.8 1094.0 425.7 1095.7 426.4 1097.3 392.6 1099.0 421.8 1100.7 418.9 1102.4 414.6 1104.0 404.6 1105.7 422.5 1107.4 415.1 1109.0 410.2 1110.7 423.9 1112.4 412.8 1114.0 404.3 1115.7 411.4 1117.4 412.6 1119.0 409.3 1120.7 414.0 1122.4 417.1 1124.0 417.8 1125.7 406.6 1127.4 427.0 1129.0 423.4 1130.7 407.0 1132.4 403.7 1134.1 412.7 1135.7 420.6 1137.4 426.9 1139.1 408.7 1140.7 412.2 1142.4 410.9 1144.1 410.3 1145.7 422.4 1147.4 420.2 1149.1 414.8 1150.7 415.5 1152.4 427.4 1154.1 424.3 1155.7 415.7 1157.4 402.6 1159.1 394.4 1160.8 412.0 1162.4 416.8 1164.1 411.7 1165.8 413.6 1167.4 421.3 1169.1 441.1 1170.8 412.7 1172.4 419.3 1174.1 414.7 1175.8 422.3 1177.4 416.9 1179.1 412.9 1180.8 425.2 1182.4 420.0 1184.1 408.9 1185.8 407.6 1187.4 428.7 1189.1 407.3 1190.8 403.1 1192.5 410.3 1194.1 410.0 1195.8 412.6 1197.5 410.4 1199.1 417.6 1200.8 403.0 1202.5 413.8 1204.1 425.6 1205.8 409.3 1207.5 406.2 1209.1 410.3 1210.8 421.9 1212.5 408.5 1214.1 437.6 1215.8 399.7 1217.5 409.1 1219.1 428.6 1220.8 430.9 1222.5 394.1 1224.2 411.8 1225.8 419.8 1227.5 411.0 1229.2 415.6 1230.8 415.4 1232.5 411.2 1234.2 411.4 1235.8 422.6 1237.5 411.3 1239.2 412.0 1240.8 421.9 1242.5 405.9 1244.2 409.4 1244.3 410.6 1245.5 208.7 1245.8 422.2 1246.7 409.9 1247.5 398.9 1249.2 409.1 1250.9 402.3 1252.5 419.8 1254.2 417.6 1255.9 412.5 1257.5 418.3 1259.2 415.3 1260.9 425.5 1262.5 396.7 1264.2 409.3 1265.9 402.7 1267.5 399.2 1269.2 414.0 1270.9 397.1 1272.5 433.0 1274.2 416.8 1275.9 418.2 1277.5 414.1 1279.2 423.3 1280.9 406.5 1282.6 397.4 1284.2 411.8 1285.9 408.8 1287.6 431.8 1289.2 419.9 1290.9 410.5 1292.6 419.4 1294.2 411.3 1295.9 417.1 1297.6 410.8 1299.2 425.2 1300.9 409.5 1302.6 401.8 1304.2 407.9 1305.9 396.1 1307.6 414.4 1309.2 406.3 1310.9 424.4 1312.6 405.6 1314.3 409.3 1315.9 415.6 1317.6 404.1 1319.3 423.0 1320.9 415.6 1322.6 410.9 1324.3 421.8 1325.9 421.6 1327.6 405.2 1329.3 416.4 1330.9 422.0 1332.6 417.4 1334.3 418.3 1335.9 419.8 1337.6 410.7 1339.3 422.3 1341.0 425.7 1342.6 413.1 1344.3 414.2 1346.0 403.5 1347.6 424.5 1349.3 418.3 1351.0 405.3 1352.6 410.8 1354.3 418.4 1356.0 420.5 1357.6 408.1 1359.3 414.1 1361.0 420.6 1362.6 417.5 1364.3 417.1 1366.0 406.1 1367.6 434.8 1369.3 418.6 1371.0 403.9 1372.7 427.8 1374.3 416.3 1376.0 407.1 1377.7 424.8 1379.3 418.5 1381.0 421.2 1382.7 412.7 1384.3 419.5 1386.0 422.8 1387.7 413.4 1389.3 412.4 1391.0 404.8 1392.7 417.4 1394.3 415.5 1396.0 418.9 1397.7 404.5 1399.3 404.3 1401.0 420.7 1402.7 431.6 1404.4 398.3 1406.0 429.4 1407.7 428.5 1409.4 418.7 1411.0 398.6 1412.7 405.0 1414.4 416.2 1416.0 408.4 1417.7 415.6 1419.4 405.0 1421.0 417.8 1422.7 401.1 1424.4 409.4 1426.0 418.8 1427.7 428.3 1429.4 404.8 1431.1 409.9 1432.7 422.2 1434.4 421.7 1436.1 418.3 1437.7 417.1 1439.4 415.8 1441.1 414.5 1442.7 414.3 1444.4 419.0 1446.1 397.5 1447.7 416.6 1449.4 419.7 1451.1 409.9 1452.7 421.5 1454.4 410.7 1456.1 413.2 1457.7 405.9 1459.4 422.2 1461.1 429.8 1462.8 404.7 1464.4 415.8 1466.1 400.0 1467.8 408.3 1469.4 417.9 1471.1 411.3 1472.8 423.7 1474.4 422.0 1476.1 413.7 1477.8 412.6 1479.4 427.0 1481.1 406.6 1482.8 408.1 1484.4 403.1 1486.1 422.6 1487.8 405.0 1489.4 413.6 1491.1 411.1 1492.8 397.3 1494.5 404.0 1496.1 398.5 1497.8 394.8 1499.5 392.1 1501.1 408.3 1502.8 408.3 1504.5 397.9 1506.1 396.9 1507.8 408.1 1509.5 400.0 1511.1 411.5 1512.8 408.1 1514.5 408.0 1516.1 406.5 1517.8 403.9 1519.5 412.9 1521.2 409.6 1522.8 418.2 1524.5 405.9 1526.2 407.5 1527.8 416.6 1529.5 396.9 1531.2 412.9 1532.8 414.5 1534.5 415.6" stroke="#e02020" stroke-width="1.05" stroke-opacity="0.85" fill="none" stroke-linejoin="round"/>
<path d="M935.5 399.1 937.2 388.1 938.8 393.9 940.5 401.9 942.2 392.4 943.8 388.7 945.5 401.6 947.2 411.7 948.8 407.5 950.5 397.0 952.2 404.8 953.9 394.8 955.5 385.9 957.2 392.1 958.9 375.4 960.5 392.8 962.2 400.7 963.9 389.1 965.5 382.7 967.2 401.8 968.9 387.8 970.5 379.3 972.2 392.0 973.9 380.9 975.5 409.1 977.2 394.8 978.9 414.7 980.6 417.3 982.2 416.9 983.9 398.3 985.6 405.3 987.2 397.3 988.9 415.7 990.6 422.6 992.2 402.5 993.9 415.0 995.6 421.6 997.2 403.5 998.9 401.3 1000.6 415.8 1002.2 408.4 1003.9 405.2 1005.6 417.1 1007.2 416.1 1008.9 407.4 1010.6 396.5 1012.3 417.3 1013.9 403.1 1015.6 404.8 1017.3 407.9 1018.9 411.0 1020.6 416.1 1022.3 404.0 1023.9 410.3 1025.6 429.4 1027.3 406.7 1028.9 415.8 1030.6 410.5 1032.3 393.0 1033.9 406.6 1035.6 426.1 1037.3 412.9 1038.9 418.6 1040.6 401.3 1042.3 436.2 1044.0 404.8 1045.6 409.0 1047.3 412.3 1049.0 406.0 1050.6 394.7 1052.3 424.4 1054.0 413.5 1055.6 409.5 1057.3 409.1 1059.0 411.3 1060.6 405.4 1062.3 408.1 1064.0 412.7 1065.6 424.3 1067.3 403.6 1069.0 397.1 1070.7 399.4 1072.3 405.5 1074.0 399.2 1075.7 420.9 1077.3 402.2 1079.0 405.9 1080.7 409.2 1082.3 399.3 1084.0 410.1 1085.7 411.8 1087.3 416.9 1089.0 423.6 1090.7 412.4 1092.3 394.4 1094.0 393.5 1095.7 413.6 1097.3 407.3 1099.0 396.1 1100.7 417.1 1102.4 412.4 1104.0 420.2 1105.7 395.5 1107.4 413.9 1109.0 411.7 1110.7 409.0 1112.4 415.8 1114.0 387.7 1115.7 399.1 1117.4 391.3 1119.0 425.5 1120.7 402.2 1122.4 409.9 1124.0 417.7 1125.7 407.8 1127.4 395.1 1129.0 398.7 1130.7 412.6 1132.4 379.7 1134.1 398.8 1135.7 414.9 1137.4 415.2 1139.1 413.4 1140.7 408.8 1142.4 412.4 1144.1 413.4 1145.7 400.1 1147.4 413.4 1149.1 406.8 1150.7 413.1 1152.4 409.9 1154.1 397.9 1155.7 407.5 1157.4 401.3 1159.1 408.3 1160.8 398.4 1162.4 407.9 1164.1 398.1 1165.8 418.3 1167.4 398.4 1169.1 403.9 1170.8 415.3 1172.4 413.3 1174.1 424.3 1175.8 410.0 1177.4 406.3 1179.1 412.3 1180.8 399.2 1182.4 426.0 1184.1 409.9 1185.8 418.5 1187.4 412.5 1189.1 401.1 1190.8 408.4 1192.5 396.0 1194.1 411.3 1195.8 413.8 1197.5 410.7 1199.1 420.7 1200.8 415.7 1202.5 409.1 1204.1 400.8 1205.8 417.0 1207.5 416.3 1209.1 422.0 1210.8 420.6 1212.5 409.5 1214.1 408.7 1215.8 406.5 1217.5 411.4 1219.1 400.5 1220.8 423.8 1222.5 409.6 1224.2 404.0 1225.8 412.0 1227.5 405.7 1229.2 411.1 1230.8 412.4 1232.5 407.9 1234.2 414.6 1235.8 409.5 1237.5 404.2 1239.2 418.3 1240.8 403.5 1242.5 399.4 1244.2 395.5 1244.3 397.0 1245.5 177.0 1245.8 411.8 1246.7 405.3 1247.5 399.6 1249.2 424.4 1250.9 420.5 1252.5 408.6 1254.2 418.4 1255.9 416.9 1257.5 417.6 1259.2 411.9 1260.9 414.7 1262.5 417.2 1264.2 409.7 1265.9 413.7 1267.5 409.4 1269.2 406.8 1270.9 404.8 1272.5 411.2 1274.2 412.9 1275.9 412.8 1277.5 418.3 1279.2 405.6 1280.9 409.9 1282.6 400.8 1284.2 407.0 1285.9 413.5 1287.6 402.4 1289.2 411.8 1290.9 410.0 1292.6 405.7 1294.2 407.5 1295.9 415.7 1297.6 403.8 1299.2 406.3 1300.9 409.6 1302.6 411.1 1304.2 407.5 1305.9 421.7 1307.6 398.8 1309.2 429.7 1310.9 417.7 1312.6 417.5 1314.3 406.4 1315.9 409.3 1317.6 406.7 1319.3 419.5 1320.9 399.9 1322.6 402.4 1324.3 426.6 1325.9 408.1 1327.6 425.5 1329.3 414.3 1330.9 405.3 1332.6 409.6 1334.3 420.4 1335.9 414.9 1337.6 401.1 1339.3 408.5 1341.0 404.0 1342.6 423.6 1344.3 405.6 1346.0 408.3 1347.6 417.5 1349.3 398.5 1351.0 410.2 1352.6 402.7 1354.3 413.9 1356.0 406.5 1357.6 405.5 1359.3 410.7 1361.0 408.9 1362.6 407.2 1364.3 410.4 1366.0 419.8 1367.6 407.0 1369.3 410.6 1371.0 407.6 1372.7 416.2 1374.3 397.4 1376.0 402.3 1377.7 398.5 1379.3 394.5 1381.0 401.6 1382.7 411.9 1384.3 419.7 1386.0 400.4 1387.7 407.3 1389.3 402.8 1391.0 398.8 1392.7 410.8 1394.3 416.9 1396.0 406.2 1397.7 413.0 1399.3 416.2 1401.0 406.4 1402.7 411.5 1404.4 405.4 1406.0 418.2 1407.7 410.4 1409.4 411.5 1411.0 409.7 1412.7 414.3 1414.4 404.2 1416.0 421.0 1417.7 405.9 1419.4 400.8 1421.0 409.6 1422.7 408.9 1424.4 415.6 1426.0 407.4 1427.7 406.0 1429.4 408.1 1431.1 406.5 1432.7 405.1 1434.4 407.7 1436.1 424.0 1437.7 418.4 1439.4 410.3 1441.1 392.4 1442.7 401.0 1444.4 409.6 1446.1 411.0 1447.7 412.9 1449.4 404.8 1451.1 411.9 1452.7 409.0 1454.4 416.4 1456.1 412.9 1457.7 417.3 1459.4 415.7 1461.1 412.2 1462.8 400.2 1464.4 406.7 1466.1 401.2 1467.8 413.1 1469.4 407.3 1471.1 414.2 1472.8 410.8 1474.4 410.5 1476.1 421.9 1477.8 408.6 1479.4 418.1 1481.1 404.4 1482.8 412.7 1484.4 419.4 1486.1 415.5 1487.8 412.2 1489.4 392.8 1491.1 412.7 1492.8 404.5 1494.5 398.8 1496.1 400.3 1497.8 398.3 1499.5 391.6 1501.1 402.0 1502.8 382.7 1504.5 385.9 1506.1 395.6 1507.8 387.4 1509.5 398.3 1511.1 403.8 1512.8 411.2 1514.5 408.5 1516.1 400.0 1517.8 403.0 1519.5 394.1 1521.2 395.1 1522.8 401.0 1524.5 407.5 1526.2 394.9 1527.8 409.4 1529.5 428.1 1531.2 411.5 1532.8 405.9 1534.5 405.1" stroke="#30d030" stroke-width="1.05" stroke-opacity="0.85" fill="none" stroke-linejoin="round"/>
<path d="M935.5 375.1 937.2 394.8 938.8 394.9 940.5 391.6 942.2 403.6 943.8 401.0 945.5 395.5 947.2 399.0 948.8 383.8 950.5 395.5 952.2 372.3 953.9 387.6 955.5 394.9 957.2 386.6 958.9 381.2 960.5 386.0 962.2 381.7 963.9 386.8 965.5 391.3 967.2 386.0 968.9 371.6 970.5 390.2 972.2 388.8 973.9 402.5 975.5 397.2 977.2 391.3 978.9 399.0 980.6 388.7 982.2 392.1 983.9 405.2 985.6 403.4 987.2 397.8 988.9 400.8 990.6 406.5 992.2 419.2 993.9 393.1 995.6 404.2 997.2 403.0 998.9 410.2 1000.6 392.3 1002.2 405.3 1003.9 403.0 1005.6 421.0 1007.2 408.3 1008.9 405.0 1010.6 401.4 1012.3 399.0 1013.9 406.2 1015.6 396.3 1017.3 405.7 1018.9 406.1 1020.6 404.8 1022.3 418.4 1023.9 422.9 1025.6 389.9 1027.3 419.1 1028.9 409.9 1030.6 400.2 1032.3 410.4 1033.9 395.9 1035.6 421.0 1037.3 404.0 1038.9 400.0 1040.6 387.2 1042.3 393.0 1044.0 411.0 1045.6 398.0 1047.3 402.8 1049.0 415.0 1050.6 409.3 1052.3 396.6 1054.0 407.6 1055.6 413.0 1057.3 410.3 1059.0 415.5 1060.6 418.1 1062.3 402.3 1064.0 401.6 1065.6 396.8 1067.3 418.0 1069.0 414.6 1070.7 402.0 1072.3 404.3 1074.0 406.9 1075.7 415.2 1077.3 408.1 1079.0 417.1 1080.7 393.1 1082.3 399.9 1084.0 413.6 1085.7 395.5 1087.3 414.0 1089.0 400.9 1090.7 404.3 1092.3 408.9 1094.0 394.7 1095.7 419.2 1097.3 408.4 1099.0 408.4 1100.7 420.3 1102.4 418.1 1104.0 404.8 1105.7 403.7 1107.4 413.9 1109.0 401.2 1110.7 402.0 1112.4 399.5 1114.0 407.7 1115.7 406.5 1117.4 400.8 1119.0 410.3 1120.7 412.5 1122.4 415.5 1124.0 401.5 1125.7 395.4 1127.4 420.6 1129.0 407.8 1130.7 399.5 1132.4 393.3 1134.1 403.1 1135.7 411.8 1137.4 399.3 1139.1 386.3 1140.7 401.8 1142.4 399.1 1144.1 390.7 1145.7 416.6 1147.4 398.0 1149.1 392.5 1150.7 396.3 1152.4 402.8 1154.1 407.1 1155.7 408.7 1157.4 414.7 1159.1 408.3 1160.8 413.7 1162.4 405.0 1164.1 406.0 1165.8 409.0 1167.4 407.6 1169.1 403.8 1170.8 414.2 1172.4 399.3 1174.1 402.9 1175.8 399.6 1177.4 407.0 1179.1 405.9 1180.8 403.2 1182.4 403.4 1184.1 407.4 1185.8 406.9 1187.4 408.5 1189.1 407.2 1190.8 410.2 1192.5 410.6 1194.1 412.2 1195.8 393.3 1197.5 409.6 1199.1 405.1 1200.8 412.1 1202.5 403.1 1204.1 394.5 1205.8 410.0 1207.5 403.0 1209.1 404.8 1210.8 397.4 1212.5 404.9 1214.1 405.0 1215.8 406.1 1217.5 419.7 1219.1 396.3 1220.8 391.1 1222.5 410.7 1224.2 397.3 1225.8 404.1 1227.5 392.6 1229.2 408.2 1230.8 400.5 1232.5 393.5 1234.2 399.5 1235.8 402.2 1237.5 404.1 1239.2 408.6 1240.8 402.6 1242.5 411.3 1244.2 390.6 1244.3 391.4 1245.5 235.1 1245.8 399.2 1246.7 402.1 1247.5 404.7 1249.2 415.4 1250.9 395.2 1252.5 392.9 1254.2 399.9 1255.9 396.4 1257.5 396.4 1259.2 403.6 1260.9 405.4 1262.5 402.3 1264.2 393.5 1265.9 407.7 1267.5 415.6 1269.2 402.3 1270.9 402.4 1272.5 404.0 1274.2 401.9 1275.9 412.5 1277.5 410.0 1279.2 406.4 1280.9 403.9 1282.6 399.4 1284.2 397.7 1285.9 401.9 1287.6 404.5 1289.2 411.1 1290.9 407.2 1292.6 415.7 1294.2 409.2 1295.9 400.4 1297.6 399.3 1299.2 411.6 1300.9 394.6 1302.6 422.0 1304.2 399.7 1305.9 403.8 1307.6 405.1 1309.2 400.7 1310.9 407.1 1312.6 386.4 1314.3 407.5 1315.9 406.5 1317.6 401.5 1319.3 419.2 1320.9 405.0 1322.6 414.9 1324.3 393.4 1325.9 407.8 1327.6 405.0 1329.3 417.8 1330.9 390.0 1332.6 417.5 1334.3 415.5 1335.9 409.9 1337.6 421.8 1339.3 414.6 1341.0 407.5 1342.6 396.0 1344.3 395.7 1346.0 413.4 1347.6 408.8 1349.3 399.2 1351.0 395.2 1352.6 411.0 1354.3 406.5 1356.0 404.5 1357.6 403.4 1359.3 406.4 1361.0 390.5 1362.6 406.2 1364.3 395.1 1366.0 400.2 1367.6 376.7 1369.3 392.7 1371.0 419.3 1372.7 399.2 1374.3 420.3 1376.0 393.6 1377.7 406.6 1379.3 420.9 1381.0 412.1 1382.7 407.1 1384.3 393.0 1386.0 403.6 1387.7 400.6 1389.3 409.7 1391.0 408.3 1392.7 416.3 1394.3 407.8 1396.0 406.9 1397.7 405.4 1399.3 411.5 1401.0 406.7 1402.7 408.6 1404.4 403.2 1406.0 410.3 1407.7 410.0 1409.4 412.4 1411.0 410.9 1412.7 407.7 1414.4 413.6 1416.0 395.7 1417.7 397.4 1419.4 402.7 1421.0 399.5 1422.7 415.3 1424.4 410.6 1426.0 409.3 1427.7 403.7 1429.4 399.2 1431.1 398.8 1432.7 417.1 1434.4 406.0 1436.1 396.7 1437.7 407.6 1439.4 401.9 1441.1 418.9 1442.7 405.2 1444.4 407.6 1446.1 421.4 1447.7 399.2 1449.4 394.7 1451.1 399.0 1452.7 408.2 1454.4 406.6 1456.1 410.7 1457.7 400.7 1459.4 401.8 1461.1 394.1 1462.8 405.5 1464.4 398.0 1466.1 407.2 1467.8 411.0 1469.4 405.5 1471.1 412.1 1472.8 412.1 1474.4 399.3 1476.1 399.5 1477.8 411.1 1479.4 411.8 1481.1 405.8 1482.8 409.7 1484.4 397.5 1486.1 404.9 1487.8 411.7 1489.4 406.9 1491.1 395.5 1492.8 381.2 1494.5 392.1 1496.1 405.8 1497.8 401.1 1499.5 391.8 1501.1 393.9 1502.8 391.3 1504.5 376.8 1506.1 401.6 1507.8 402.0 1509.5 395.8 1511.1 396.4 1512.8 396.3 1514.5 392.8 1516.1 400.7 1517.8 393.3 1519.5 401.2 1521.2 400.4 1522.8 417.7 1524.5 411.4 1526.2 408.0 1527.8 400.0 1529.5 410.4 1531.2 413.1 1532.8 411.5 1534.5 392.0" stroke="#000000" stroke-width="1.05" stroke-opacity="0.85" fill="none" stroke-linejoin="round"/>
<path d="M935.5 391.8 937.2 385.6 938.8 380.4 940.5 378.6 942.2 386.4 943.8 383.4 945.5 386.4 947.2 386.6 948.8 385.4 950.5 380.6 952.2 394.7 953.9 383.1 955.5 390.3 957.2 380.7 958.9 382.0 960.5 377.5 962.2 380.4 963.9 379.2 965.5 389.4 967.2 366.6 968.9 390.2 970.5 395.6 972.2 378.4 973.9 378.0 975.5 385.5 977.2 389.6 978.9 398.5 980.6 375.7 982.2 407.0 983.9 374.9 985.6 408.4 987.2 404.5 988.9 398.5 990.6 400.5 992.2 392.9 993.9 404.1 995.6 400.0 997.2 410.3 998.9 387.3 1000.6 399.6 1002.2 403.4 1003.9 396.9 1005.6 389.5 1007.2 394.0 1008.9 402.9 1010.6 395.6 1012.3 394.0 1013.9 393.3 1015.6 399.3 1017.3 391.1 1018.9 405.9 1020.6 395.6 1022.3 403.4 1023.9 396.1 1025.6 401.4 1027.3 390.9 1028.9 399.8 1030.6 386.6 1032.3 404.2 1033.9 388.0 1035.6 403.5 1037.3 417.0 1038.9 404.7 1040.6 389.2 1042.3 394.8 1044.0 392.4 1045.6 399.7 1047.3 393.6 1049.0 404.7 1050.6 382.1 1052.3 383.2 1054.0 392.6 1055.6 401.1 1057.3 401.7 1059.0 391.1 1060.6 393.2 1062.3 403.6 1064.0 390.0 1065.6 388.9 1067.3 391.4 1069.0 392.7 1070.7 394.0 1072.3 395.9 1074.0 398.4 1075.7 400.9 1077.3 385.6 1079.0 408.6 1080.7 394.8 1082.3 388.7 1084.0 376.8 1085.7 398.6 1087.3 384.4 1089.0 385.1 1090.7 387.8 1092.3 380.3 1094.0 409.2 1095.7 387.3 1097.3 396.2 1099.0 391.7 1100.7 396.4 1102.4 402.2 1104.0 410.7 1105.7 391.8 1107.4 397.3 1109.0 406.3 1110.7 396.4 1112.4 404.5 1114.0 402.6 1115.7 394.0 1117.4 389.0 1119.0 411.6 1120.7 396.3 1122.4 390.7 1124.0 406.1 1125.7 398.3 1127.4 393.1 1129.0 388.0 1130.7 405.3 1132.4 409.3 1134.1 401.0 1135.7 400.1 1137.4 396.2 1139.1 395.6 1140.7 412.0 1142.4 390.1 1144.1 409.8 1145.7 393.2 1147.4 391.9 1149.1 392.6 1150.7 393.6 1152.4 393.1 1154.1 402.6 1155.7 403.0 1157.4 378.5 1159.1 383.0 1160.8 384.9 1162.4 389.2 1164.1 409.2 1165.8 380.5 1167.4 397.9 1169.1 396.3 1170.8 389.7 1172.4 401.6 1174.1 385.2 1175.8 416.2 1177.4 385.9 1179.1 391.8 1180.8 403.2 1182.4 389.1 1184.1 386.4 1185.8 389.5 1187.4 388.3 1189.1 398.2 1190.8 387.4 1192.5 387.4 1194.1 385.5 1195.8 390.6 1197.5 410.1 1199.1 391.8 1200.8 407.2 1202.5 402.7 1204.1 397.4 1205.8 395.0 1207.5 398.9 1209.1 393.8 1210.8 392.3 1212.5 395.1 1214.1 396.0 1215.8 393.8 1217.5 391.0 1219.1 404.5 1220.8 409.3 1222.5 388.0 1224.2 395.8 1225.8 416.3 1227.5 387.7 1229.2 387.5 1230.8 412.3 1232.5 406.9 1234.2 401.4 1235.8 407.3 1237.5 402.4 1239.2 397.6 1240.8 388.8 1242.5 417.8 1244.2 396.3 1244.3 395.5 1245.5 225.3 1245.8 387.9 1246.7 403.5 1247.5 417.4 1249.2 394.4 1250.9 397.6 1252.5 401.7 1254.2 390.6 1255.9 385.8 1257.5 387.7 1259.2 379.7 1260.9 402.8 1262.5 414.1 1264.2 401.3 1265.9 395.4 1267.5 387.0 1269.2 392.2 1270.9 401.8 1272.5 385.2 1274.2 392.9 1275.9 394.7 1277.5 398.3 1279.2 393.2 1280.9 391.8 1282.6 396.4 1284.2 416.7 1285.9 404.0 1287.6 392.9 1289.2 383.4 1290.9 386.6 1292.6 387.2 1294.2 381.9 1295.9 390.7 1297.6 385.3 1299.2 387.8 1300.9 394.3 1302.6 403.8 1304.2 410.0 1305.9 392.5 1307.6 406.6 1309.2 397.1 1310.9 390.0 1312.6 402.1 1314.3 388.5 1315.9 395.5 1317.6 403.6 1319.3 391.2 1320.9 390.0 1322.6 400.1 1324.3 391.8 1325.9 405.5 1327.6 395.0 1329.3 393.4 1330.9 404.6 1332.6 395.1 1334.3 383.7 1335.9 401.3 1337.6 405.5 1339.3 407.9 1341.0 402.4 1342.6 405.2 1344.3 409.8 1346.0 395.0 1347.6 393.0 1349.3 404.0 1351.0 395.2 1352.6 387.9 1354.3 392.7 1356.0 394.1 1357.6 389.9 1359.3 401.2 1361.0 388.1 1362.6 379.9 1364.3 401.1 1366.0 411.5 1367.6 401.7 1369.3 404.0 1371.0 393.7 1372.7 385.3 1374.3 390.7 1376.0 381.0 1377.7 391.6 1379.3 394.7 1381.0 411.8 1382.7 392.1 1384.3 400.7 1386.0 399.9 1387.7 397.6 1389.3 381.8 1391.0 388.1 1392.7 395.2 1394.3 407.4 1396.0 398.9 1397.7 397.6 1399.3 388.0 1401.0 390.8 1402.7 390.9 1404.4 403.3 1406.0 387.4 1407.7 372.7 1409.4 407.2 1411.0 404.1 1412.7 394.9 1414.4 387.3 1416.0 393.3 1417.7 394.7 1419.4 383.1 1421.0 404.6 1422.7 412.9 1424.4 408.5 1426.0 388.9 1427.7 387.7 1429.4 399.0 1431.1 407.9 1432.7 403.2 1434.4 392.7 1436.1 387.8 1437.7 401.3 1439.4 403.0 1441.1 403.9 1442.7 401.3 1444.4 390.6 1446.1 394.7 1447.7 393.2 1449.4 395.4 1451.1 394.6 1452.7 407.3 1454.4 405.2 1456.1 393.4 1457.7 392.9 1459.4 387.2 1461.1 396.9 1462.8 403.6 1464.4 397.9 1466.1 398.2 1467.8 391.7 1469.4 397.5 1471.1 391.7 1472.8 391.3 1474.4 391.2 1476.1 390.6 1477.8 403.7 1479.4 385.4 1481.1 380.5 1482.8 386.8 1484.4 379.5 1486.1 388.4 1487.8 395.4 1489.4 385.1 1491.1 388.6 1492.8 387.9 1494.5 372.0 1496.1 391.6 1497.8 373.6 1499.5 386.9 1501.1 396.2 1502.8 375.4 1504.5 380.8 1506.1 380.4 1507.8 380.9 1509.5 375.0 1511.1 382.3 1512.8 388.7 1514.5 388.6 1516.1 385.3 1517.8 394.8 1519.5 387.8 1521.2 408.8 1522.8 393.5 1524.5 393.1 1526.2 387.5 1527.8 402.6 1529.5 395.5 1531.2 390.2 1532.8 370.5 1534.5 392.5" stroke="#1a1ae0" stroke-width="1.05" stroke-opacity="0.85" fill="none" stroke-linejoin="round"/>
<path d="M935.5 386.5 937.2 386.1 938.8 383.5 940.5 377.3 942.2 389.1 943.8 385.4 945.5 385.1 947.2 375.6 948.8 388.0 950.5 373.8 952.2 366.8 953.9 384.0 955.5 369.2 957.2 375.5 958.9 379.6 960.5 361.2 962.2 366.9 963.9 379.4 965.5 372.0 967.2 382.6 968.9 389.2 970.5 369.7 972.2 379.8 973.9 367.6 975.5 382.0 977.2 383.0 978.9 388.4 980.6 388.1 982.2 397.9 983.9 394.7 985.6 408.4 987.2 409.7 988.9 406.4 990.6 400.5 992.2 396.2 993.9 397.1 995.6 385.8 997.2 375.0 998.9 416.1 1000.6 383.6 1002.2 387.9 1003.9 400.6 1005.6 394.5 1007.2 412.2 1008.9 397.8 1010.6 382.6 1012.3 405.9 1013.9 400.9 1015.6 395.1 1017.3 390.3 1018.9 395.6 1020.6 400.4 1022.3 390.5 1023.9 400.9 1025.6 375.8 1027.3 385.5 1028.9 395.1 1030.6 402.8 1032.3 400.8 1033.9 402.2 1035.6 398.8 1037.3 392.5 1038.9 406.9 1040.6 394.7 1042.3 396.0 1044.0 404.1 1045.6 385.3 1047.3 392.1 1049.0 393.4 1050.6 400.9 1052.3 402.3 1054.0 395.8 1055.6 408.4 1057.3 393.2 1059.0 405.7 1060.6 396.4 1062.3 390.7 1064.0 398.5 1065.6 401.7 1067.3 402.6 1069.0 395.1 1070.7 405.6 1072.3 396.8 1074.0 388.3 1075.7 412.2 1077.3 403.0 1079.0 394.2 1080.7 405.7 1082.3 405.2 1084.0 406.8 1085.7 389.4 1087.3 414.4 1089.0 397.7 1090.7 398.4 1092.3 396.6 1094.0 403.3 1095.7 396.1 1097.3 401.1 1099.0 404.0 1100.7 375.3 1102.4 388.4 1104.0 405.9 1105.7 402.8 1107.4 393.3 1109.0 384.9 1110.7 398.5 1112.4 391.0 1114.0 395.2 1115.7 387.1 1117.4 401.3 1119.0 403.2 1120.7 394.5 1122.4 394.6 1124.0 396.4 1125.7 386.6 1127.4 391.0 1129.0 395.9 1130.7 406.5 1132.4 391.1 1134.1 389.6 1135.7 402.1 1137.4 397.4 1139.1 405.9 1140.7 395.7 1142.4 398.5 1144.1 411.5 1145.7 396.7 1147.4 399.4 1149.1 399.5 1150.7 388.1 1152.4 392.7 1154.1 389.4 1155.7 399.3 1157.4 385.4 1159.1 403.0 1160.8 390.5 1162.4 409.0 1164.1 394.8 1165.8 405.0 1167.4 408.6 1169.1 391.0 1170.8 395.0 1172.4 392.4 1174.1 396.3 1175.8 394.4 1177.4 396.9 1179.1 397.9 1180.8 395.6 1182.4 377.5 1184.1 404.9 1185.8 408.9 1187.4 404.1 1189.1 402.0 1190.8 392.0 1192.5 387.3 1194.1 386.9 1195.8 398.1 1197.5 390.3 1199.1 380.9 1200.8 390.9 1202.5 385.3 1204.1 404.1 1205.8 388.7 1207.5 389.4 1209.1 406.2 1210.8 395.7 1212.5 390.9 1214.1 403.4 1215.8 388.6 1217.5 388.0 1219.1 393.6 1220.8 397.0 1222.5 397.7 1224.2 393.0 1225.8 386.8 1227.5 407.4 1229.2 394.5 1230.8 394.1 1232.5 403.4 1234.2 406.9 1235.8 398.0 1237.5 410.2 1239.2 394.4 1240.8 398.6 1242.5 405.5 1244.2 396.3 1244.3 396.9 1245.5 266.1 1245.8 403.5 1246.7 402.9 1247.5 402.4 1249.2 386.6 1250.9 402.9 1252.5 417.7 1254.2 394.0 1255.9 405.2 1257.5 404.0 1259.2 383.7 1260.9 397.1 1262.5 389.7 1264.2 408.1 1265.9 405.3 1267.5 403.6 1269.2 390.6 1270.9 402.2 1272.5 412.7 1274.2 390.4 1275.9 401.1 1277.5 396.0 1279.2 390.4 1280.9 378.7 1282.6 397.0 1284.2 383.5 1285.9 408.2 1287.6 395.3 1289.2 394.2 1290.9 415.2 1292.6 404.9 1294.2 402.8 1295.9 392.6 1297.6 400.8 1299.2 400.2 1300.9 402.4 1302.6 392.9 1304.2 397.2 1305.9 397.4 1307.6 398.7 1309.2 391.0 1310.9 402.6 1312.6 396.8 1314.3 396.5 1315.9 393.4 1317.6 388.1 1319.3 393.6 1320.9 407.5 1322.6 388.1 1324.3 386.3 1325.9 385.7 1327.6 389.0 1329.3 409.1 1330.9 397.2 1332.6 389.5 1334.3 389.3 1335.9 396.8 1337.6 394.9 1339.3 405.0 1341.0 392.6 1342.6 413.1 1344.3 397.7 1346.0 387.9 1347.6 405.8 1349.3 385.3 1351.0 379.6 1352.6 391.5 1354.3 400.1 1356.0 399.8 1357.6 405.8 1359.3 389.7 1361.0 405.0 1362.6 394.2 1364.3 404.8 1366.0 391.3 1367.6 407.2 1369.3 396.8 1371.0 401.7 1372.7 387.3 1374.3 399.1 1376.0 397.1 1377.7 386.4 1379.3 405.0 1381.0 406.1 1382.7 396.4 1384.3 404.3 1386.0 382.0 1387.7 394.8 1389.3 393.8 1391.0 398.7 1392.7 422.0 1394.3 385.5 1396.0 397.0 1397.7 412.8 1399.3 405.0 1401.0 396.3 1402.7 385.8 1404.4 393.3 1406.0 393.1 1407.7 393.4 1409.4 403.5 1411.0 401.6 1412.7 396.0 1414.4 407.2 1416.0 395.8 1417.7 390.6 1419.4 415.7 1421.0 398.0 1422.7 398.4 1424.4 395.4 1426.0 381.6 1427.7 407.6 1429.4 380.1 1431.1 390.5 1432.7 375.6 1434.4 399.3 1436.1 393.1 1437.7 397.2 1439.4 392.0 1441.1 403.6 1442.7 402.7 1444.4 397.6 1446.1 390.9 1447.7 407.0 1449.4 399.0 1451.1 401.4 1452.7 393.8 1454.4 389.4 1456.1 408.6 1457.7 404.6 1459.4 399.2 1461.1 404.7 1462.8 384.5 1464.4 382.3 1466.1 390.1 1467.8 392.0 1469.4 405.5 1471.1 404.3 1472.8 392.7 1474.4 383.8 1476.1 399.0 1477.8 393.5 1479.4 382.2 1481.1 380.7 1482.8 403.0 1484.4 391.7 1486.1 386.9 1487.8 405.8 1489.4 394.9 1491.1 388.1 1492.8 392.8 1494.5 382.7 1496.1 389.0 1497.8 399.0 1499.5 394.4 1501.1 401.3 1502.8 394.5 1504.5 378.9 1506.1 382.0 1507.8 381.1 1509.5 375.7 1511.1 397.3 1512.8 393.2 1514.5 389.4 1516.1 377.8 1517.8 390.5 1519.5 394.9 1521.2 392.1 1522.8 402.8 1524.5 412.1 1526.2 392.2 1527.8 400.0 1529.5 392.9 1531.2 406.6 1532.8 404.3 1534.5 390.5" stroke="#e02020" stroke-width="1.05" stroke-opacity="0.85" fill="none" stroke-linejoin="round"/>
<path d="M935.5 374.0 937.2 389.1 938.8 383.6 940.5 367.1 942.2 381.8 943.8 383.9 945.5 373.1 947.2 364.1 948.8 375.5 950.5 376.7 952.2 374.0 953.9 369.3 955.5 384.9 957.2 367.9 958.9 366.4 960.5 360.2 962.2 359.2 963.9 362.3 965.5 350.9 967.2 367.6 968.9 369.3 970.5 355.9 972.2 369.7 973.9 377.1 975.5 378.6 977.2 376.3 978.9 389.5 980.6 372.2 982.2 379.6 983.9 373.0 985.6 393.0 987.2 388.2 988.9 391.1 990.6 381.7 992.2 383.0 993.9 380.1 995.6 380.6 997.2 395.3 998.9 384.1 1000.6 385.7 1002.2 386.6 1003.9 382.3 1005.6 402.0 1007.2 392.2 1008.9 388.8 1010.6 393.5 1012.3 396.1 1013.9 379.0 1015.6 379.5 1017.3 372.7 1018.9 394.4 1020.6 405.8 1022.3 381.4 1023.9 389.7 1025.6 395.8 1027.3 382.8 1028.9 387.8 1030.6 401.3 1032.3 386.5 1033.9 400.8 1035.6 383.0 1037.3 397.7 1038.9 399.9 1040.6 381.6 1042.3 379.8 1044.0 389.6 1045.6 396.9 1047.3 382.6 1049.0 386.5 1050.6 385.6 1052.3 390.8 1054.0 399.8 1055.6 391.5 1057.3 375.9 1059.0 393.0 1060.6 388.5 1062.3 388.0 1064.0 379.9 1065.6 385.3 1067.3 391.0 1069.0 372.2 1070.7 386.1 1072.3 385.0 1074.0 393.0 1075.7 400.0 1077.3 383.9 1079.0 390.4 1080.7 384.9 1082.3 405.8 1084.0 373.8 1085.7 387.2 1087.3 380.9 1089.0 396.3 1090.7 386.7 1092.3 386.2 1094.0 378.4 1095.7 381.1 1097.3 404.2 1099.0 385.7 1100.7 386.4 1102.4 390.1 1104.0 385.7 1105.7 382.7 1107.4 379.6 1109.0 396.8 1110.7 394.4 1112.4 387.1 1114.0 382.0 1115.7 395.3 1117.4 387.4 1119.0 397.8 1120.7 387.1 1122.4 388.9 1124.0 383.3 1125.7 376.1 1127.4 393.7 1129.0 383.9 1130.7 400.2 1132.4 384.8 1134.1 372.9 1135.7 399.9 1137.4 391.5 1139.1 413.3 1140.7 383.9 1142.4 369.5 1144.1 394.9 1145.7 384.6 1147.4 375.9 1149.1 393.6 1150.7 385.6 1152.4 393.5 1154.1 391.1 1155.7 387.0 1157.4 380.0 1159.1 385.3 1160.8 387.5 1162.4 388.6 1164.1 378.3 1165.8 383.0 1167.4 383.7 1169.1 402.3 1170.8 388.9 1172.4 395.9 1174.1 372.8 1175.8 381.6 1177.4 375.1 1179.1 393.9 1180.8 399.6 1182.4 393.6 1184.1 381.8 1185.8 392.6 1187.4 381.1 1189.1 375.8 1190.8 389.7 1192.5 378.8 1194.1 405.0 1195.8 397.1 1197.5 392.0 1199.1 389.7 1200.8 398.7 1202.5 390.0 1204.1 378.3 1205.8 380.0 1207.5 383.4 1209.1 394.4 1210.8 375.2 1212.5 381.5 1214.1 395.2 1215.8 378.8 1217.5 389.7 1219.1 382.4 1220.8 383.7 1222.5 382.0 1224.2 374.4 1225.8 366.0 1227.5 383.4 1229.2 385.6 1230.8 386.9 1232.5 382.8 1234.2 381.6 1235.8 397.2 1237.5 385.6 1239.2 367.5 1240.8 380.0 1242.5 377.4 1244.2 386.7 1244.3 385.0 1245.5 206.3 1245.8 368.5 1246.7 375.4 1247.5 381.4 1249.2 388.9 1250.9 392.4 1252.5 382.4 1254.2 371.7 1255.9 391.7 1257.5 394.4 1259.2 405.4 1260.9 380.5 1262.5 395.3 1264.2 392.5 1265.9 395.2 1267.5 393.8 1269.2 380.1 1270.9 392.9 1272.5 385.2 1274.2 392.6 1275.9 389.7 1277.5 381.2 1279.2 381.3 1280.9 396.3 1282.6 386.5 1284.2 394.5 1285.9 380.9 1287.6 391.9 1289.2 394.5 1290.9 380.0 1292.6 391.5 1294.2 385.8 1295.9 381.0 1297.6 391.3 1299.2 389.5 1300.9 381.9 1302.6 368.2 1304.2 382.0 1305.9 380.8 1307.6 386.6 1309.2 387.2 1310.9 374.6 1312.6 393.0 1314.3 392.7 1315.9 374.7 1317.6 393.3 1319.3 397.2 1320.9 382.9 1322.6 378.6 1324.3 372.3 1325.9 368.6 1327.6 405.5 1329.3 388.5 1330.9 389.5 1332.6 383.8 1334.3 393.9 1335.9 386.5 1337.6 384.5 1339.3 385.2 1341.0 393.9 1342.6 384.8 1344.3 394.1 1346.0 393.9 1347.6 389.0 1349.3 380.2 1351.0 403.5 1352.6 387.4 1354.3 375.4 1356.0 385.6 1357.6 391.3 1359.3 384.8 1361.0 373.7 1362.6 388.3 1364.3 392.7 1366.0 380.5 1367.6 389.1 1369.3 392.7 1371.0 380.1 1372.7 393.9 1374.3 389.5 1376.0 375.8 1377.7 385.7 1379.3 376.4 1381.0 401.8 1382.7 399.5 1384.3 393.5 1386.0 388.1 1387.7 403.0 1389.3 385.2 1391.0 391.6 1392.7 391.4 1394.3 386.8 1396.0 389.2 1397.7 397.1 1399.3 389.1 1401.0 397.1 1402.7 376.2 1404.4 391.0 1406.0 389.3 1407.7 392.6 1409.4 386.9 1411.0 385.2 1412.7 388.3 1414.4 395.9 1416.0 377.9 1417.7 387.4 1419.4 402.8 1421.0 405.9 1422.7 396.6 1424.4 397.0 1426.0 401.1 1427.7 395.3 1429.4 384.5 1431.1 376.9 1432.7 385.4 1434.4 384.5 1436.1 377.7 1437.7 369.1 1439.4 377.7 1441.1 382.2 1442.7 388.4 1444.4 395.6 1446.1 383.7 1447.7 377.3 1449.4 384.7 1451.1 391.8 1452.7 382.4 1454.4 388.0 1456.1 392.2 1457.7 403.8 1459.4 382.7 1461.1 392.8 1462.8 377.6 1464.4 392.5 1466.1 386.5 1467.8 391.9 1469.4 372.5 1471.1 375.8 1472.8 387.2 1474.4 375.1 1476.1 397.2 1477.8 381.2 1479.4 391.0 1481.1 387.1 1482.8 389.2 1484.4 379.7 1486.1 398.8 1487.8 386.7 1489.4 370.2 1491.1 399.3 1492.8 380.8 1494.5 388.8 1496.1 398.7 1497.8 372.0 1499.5 378.5 1501.1 363.4 1502.8 389.5 1504.5 371.0 1506.1 361.4 1507.8 391.0 1509.5 371.3 1511.1 372.2 1512.8 377.6 1514.5 368.9 1516.1 376.2 1517.8 388.9 1519.5 390.3 1521.2 385.8 1522.8 371.6 1524.5 386.9 1526.2 378.7 1527.8 387.6 1529.5 381.3 1531.2 382.2 1532.8 376.5 1534.5 371.4" stroke="#30d030" stroke-width="1.05" stroke-opacity="0.85" fill="none" stroke-linejoin="round"/>
<path d="M935.5 369.2 937.2 378.0 938.8 374.6 940.5 381.9 942.2 373.4 943.8 379.1 945.5 369.0 947.2 371.4 948.8 360.9 950.5 367.6 952.2 374.4 953.9 378.1 955.5 368.2 957.2 362.8 958.9 355.0 960.5 371.6 962.2 377.3 963.9 381.1 965.5 374.1 967.2 367.8 968.9 369.1 970.5 370.5 972.2 369.6 973.9 368.1 975.5 386.7 977.2 374.5 978.9 378.4 980.6 380.6 982.2 384.5 983.9 397.9 985.6 379.5 987.2 388.1 988.9 385.5 990.6 382.3 992.2 384.7 993.9 381.7 995.6 381.6 997.2 392.9 998.9 394.7 1000.6 378.5 1002.2 391.7 1003.9 367.3 1005.6 394.4 1007.2 383.9 1008.9 385.9 1010.6 383.1 1012.3 393.1 1013.9 382.6 1015.6 368.8 1017.3 389.9 1018.9 403.6 1020.6 380.1 1022.3 381.9 1023.9 379.8 1025.6 392.1 1027.3 382.0 1028.9 378.0 1030.6 389.4 1032.3 385.0 1033.9 381.1 1035.6 379.2 1037.3 387.3 1038.9 383.8 1040.6 368.9 1042.3 368.6 1044.0 394.0 1045.6 367.4 1047.3 388.5 1049.0 376.6 1050.6 395.6 1052.3 387.0 1054.0 390.8 1055.6 378.7 1057.3 383.7 1059.0 381.8 1060.6 382.2 1062.3 383.8 1064.0 377.9 1065.6 384.5 1067.3 386.2 1069.0 390.7 1070.7 393.0 1072.3 389.9 1074.0 382.5 1075.7 377.1 1077.3 386.6 1079.0 369.1 1080.7 375.3 1082.3 385.2 1084.0 382.6 1085.7 385.7 1087.3 400.7 1089.0 378.8 1090.7 383.8 1092.3 399.4 1094.0 378.3 1095.7 390.2 1097.3 387.5 1099.0 399.7 1100.7 385.9 1102.4 382.1 1104.0 389.1 1105.7 385.7 1107.4 401.2 1109.0 381.3 1110.7 386.1 1112.4 386.1 1114.0 380.2 1115.7 377.2 1117.4 386.4 1119.0 378.3 1120.7 370.6 1122.4 394.7 1124.0 385.0 1125.7 399.2 1127.4 382.9 1129.0 374.5 1130.7 386.9 1132.4 395.3 1134.1 390.3 1135.7 382.4 1137.4 398.2 1139.1 397.5 1140.7 382.0 1142.4 397.1 1144.1 385.2 1145.7 394.7 1147.4 399.1 1149.1 379.1 1150.7 376.5 1152.4 392.3 1154.1 366.7 1155.7 384.4 1157.4 381.3 1159.1 384.2 1160.8 394.6 1162.4 377.0 1164.1 384.4 1165.8 381.3 1167.4 384.2 1169.1 388.7 1170.8 365.9 1172.4 381.7 1174.1 387.3 1175.8 379.8 1177.4 395.4 1179.1 382.3 1180.8 362.9 1182.4 390.9 1184.1 381.2 1185.8 395.1 1187.4 385.1 1189.1 376.1 1190.8 393.8 1192.5 393.1 1194.1 375.7 1195.8 383.1 1197.5 379.8 1199.1 380.9 1200.8 396.0 1202.5 399.5 1204.1 401.0 1205.8 381.2 1207.5 397.2 1209.1 400.1 1210.8 390.0 1212.5 386.6 1214.1 383.2 1215.8 400.5 1217.5 374.4 1219.1 393.3 1220.8 384.2 1222.5 385.8 1224.2 393.7 1225.8 382.1 1227.5 382.6 1229.2 376.0 1230.8 369.4 1232.5 367.5 1234.2 377.4 1235.8 379.6 1237.5 388.3 1239.2 397.8 1240.8 381.7 1242.5 390.1 1244.2 387.5 1244.3 387.6 1245.5 240.8 1245.8 389.2 1246.7 385.3 1247.5 381.7 1249.2 388.6 1250.9 365.3 1252.5 377.9 1254.2 389.4 1255.9 382.1 1257.5 373.4 1259.2 395.1 1260.9 383.3 1262.5 389.5 1264.2 384.6 1265.9 389.2 1267.5 383.6 1269.2 381.2 1270.9 379.8 1272.5 397.5 1274.2 379.1 1275.9 384.8 1277.5 390.3 1279.2 385.5 1280.9 371.5 1282.6 386.3 1284.2 392.3 1285.9 379.0 1287.6 386.6 1289.2 379.0 1290.9 382.6 1292.6 373.4 1294.2 389.9 1295.9 388.0 1297.6 375.6 1299.2 370.5 1300.9 383.0 1302.6 374.6 1304.2 380.7 1305.9 384.6 1307.6 398.6 1309.2 367.0 1310.9 374.9 1312.6 403.8 1314.3 378.1 1315.9 389.7 1317.6 393.3 1319.3 389.5 1320.9 378.6 1322.6 385.3 1324.3 386.6 1325.9 386.2 1327.6 388.0 1329.3 380.4 1330.9 402.0 1332.6 396.0 1334.3 386.2 1335.9 394.7 1337.6 383.5 1339.3 388.0 1341.0 381.6 1342.6 386.3 1344.3 379.8 1346.0 384.8 1347.6 378.6 1349.3 387.7 1351.0 399.4 1352.6 384.5 1354.3 384.4 1356.0 388.7 1357.6 376.1 1359.3 380.1 1361.0 371.4 1362.6 387.5 1364.3 387.6 1366.0 380.0 1367.6 371.7 1369.3 390.0 1371.0 380.0 1372.7 384.4 1374.3 386.7 1376.0 376.5 1377.7 376.7 1379.3 378.1 1381.0 389.5 1382.7 384.0 1384.3 398.0 1386.0 379.5 1387.7 394.8 1389.3 386.3 1391.0 376.9 1392.7 386.0 1394.3 382.7 1396.0 389.5 1397.7 362.1 1399.3 394.1 1401.0 388.7 1402.7 385.0 1404.4 361.8 1406.0 388.5 1407.7 383.2 1409.4 376.9 1411.0 401.3 1412.7 376.0 1414.4 380.4 1416.0 370.7 1417.7 370.5 1419.4 379.0 1421.0 373.9 1422.7 388.6 1424.4 392.7 1426.0 385.0 1427.7 381.4 1429.4 385.6 1431.1 379.4 1432.7 377.6 1434.4 368.3 1436.1 384.2 1437.7 386.8 1439.4 378.9 1441.1 380.9 1442.7 377.9 1444.4 368.5 1446.1 389.6 1447.7 376.5 1449.4 371.3 1451.1 371.9 1452.7 395.0 1454.4 385.2 1456.1 371.9 1457.7 382.6 1459.4 379.0 1461.1 383.6 1462.8 371.9 1464.4 380.6 1466.1 385.1 1467.8 381.8 1469.4 371.0 1471.1 379.3 1472.8 396.2 1474.4 400.0 1476.1 376.9 1477.8 396.5 1479.4 381.2 1481.1 388.0 1482.8 379.8 1484.4 387.1 1486.1 400.0 1487.8 367.7 1489.4 378.6 1491.1 378.5 1492.8 362.7 1494.5 368.7 1496.1 364.0 1497.8 373.9 1499.5 370.3 1501.1 367.1 1502.8 375.8 1504.5 364.2 1506.1 368.0 1507.8 375.1 1509.5 377.0 1511.1 367.8 1512.8 377.7 1514.5 374.3 1516.1 376.5 1517.8 381.7 1519.5 407.7 1521.2 378.9 1522.8 375.8 1524.5 388.2 1526.2 388.8 1527.8 376.3 1529.5 393.7 1531.2 373.6 1532.8 379.2 1534.5 372.5" stroke="#000000" stroke-width="1.05" stroke-opacity="0.85" fill="none" stroke-linejoin="round"/>
<path d="M935.5 364.9 937.2 355.7 938.8 358.2 940.5 378.3 942.2 361.9 943.8 374.9 945.5 382.4 947.2 378.8 948.8 357.7 950.5 370.1 952.2 376.8 953.9 363.0 955.5 362.2 957.2 366.4 958.9 358.8 960.5 365.0 962.2 351.0 963.9 354.4 965.5 361.2 967.2 358.0 968.9 354.2 970.5 363.5 972.2 359.6 973.9 366.6 975.5 370.2 977.2 385.4 978.9 382.1 980.6 382.2 982.2 375.3 983.9 355.5 985.6 386.0 987.2 382.6 988.9 390.1 990.6 383.0 992.2 381.9 993.9 374.4 995.6 391.7 997.2 376.1 998.9 378.2 1000.6 382.8 1002.2 390.6 1003.9 389.1 1005.6 382.0 1007.2 375.6 1008.9 381.2 1010.6 386.6 1012.3 378.0 1013.9 389.0 1015.6 373.8 1017.3 356.0 1018.9 385.1 1020.6 371.7 1022.3 388.3 1023.9 379.5 1025.6 375.8 1027.3 370.2 1028.9 380.0 1030.6 369.0 1032.3 390.7 1033.9 381.9 1035.6 380.2 1037.3 379.4 1038.9 381.2 1040.6 364.8 1042.3 383.3 1044.0 371.7 1045.6 376.6 1047.3 363.0 1049.0 381.9 1050.6 374.0 1052.3 375.2 1054.0 406.7 1055.6 376.6 1057.3 371.3 1059.0 367.1 1060.6 388.7 1062.3 381.5 1064.0 369.6 1065.6 389.1 1067.3 386.5 1069.0 374.8 1070.7 374.0 1072.3 368.6 1074.0 370.3 1075.7 377.9 1077.3 388.4 1079.0 385.0 1080.7 379.7 1082.3 376.5 1084.0 379.2 1085.7 372.9 1087.3 385.8 1089.0 383.1 1090.7 390.3 1092.3 362.8 1094.0 380.8 1095.7 371.3 1097.3 368.9 1099.0 376.5 1100.7 380.9 1102.4 383.6 1104.0 381.6 1105.7 393.8 1107.4 383.9 1109.0 373.0 1110.7 377.0 1112.4 372.4 1114.0 372.7 1115.7 373.5 1117.4 378.4 1119.0 377.8 1120.7 371.7 1122.4 382.4 1124.0 390.6 1125.7 372.4 1127.4 379.1 1129.0 370.4 1130.7 384.9 1132.4 393.2 1134.1 380.9 1135.7 384.8 1137.4 387.5 1139.1 366.7 1140.7 377.2 1142.4 389.3 1144.1 392.8 1145.7 380.4 1147.4 374.6 1149.1 377.2 1150.7 369.8 1152.4 376.8 1154.1 375.5 1155.7 395.3 1157.4 368.8 1159.1 384.1 1160.8 371.7 1162.4 392.4 1164.1 387.0 1165.8 369.6 1167.4 389.8 1169.1 378.0 1170.8 382.7 1172.4 365.0 1174.1 376.2 1175.8 368.7 1177.4 379.7 1179.1 393.5 1180.8 362.5 1182.4 384.2 1184.1 379.0 1185.8 379.7 1187.4 392.5 1189.1 373.5 1190.8 382.6 1192.5 394.1 1194.1 391.9 1195.8 398.5 1197.5 386.1 1199.1 381.3 1200.8 387.6 1202.5 380.0 1204.1 382.7 1205.8 375.5 1207.5 379.8 1209.1 381.3 1210.8 386.6 1212.5 389.8 1214.1 387.5 1215.8 376.8 1217.5 384.0 1219.1 367.8 1220.8 373.1 1222.5 391.3 1224.2 376.3 1225.8 369.6 1227.5 385.4 1229.2 369.7 1230.8 386.1 1232.5 366.8 1234.2 375.5 1235.8 381.9 1237.5 393.9 1239.2 380.9 1240.8 386.3 1242.5 376.9 1244.2 387.4 1244.3 386.3 1245.5 227.4 1245.8 376.0 1246.7 380.3 1247.5 384.0 1249.2 375.1 1250.9 373.1 1252.5 378.5 1254.2 375.8 1255.9 370.8 1257.5 387.9 1259.2 374.9 1260.9 377.9 1262.5 366.6 1264.2 381.4 1265.9 371.8 1267.5 394.1 1269.2 369.5 1270.9 376.4 1272.5 376.7 1274.2 372.4 1275.9 390.4 1277.5 381.8 1279.2 379.2 1280.9 382.5 1282.6 384.3 1284.2 371.9 1285.9 379.7 1287.6 382.0 1289.2 379.6 1290.9 368.9 1292.6 364.4 1294.2 370.9 1295.9 375.8 1297.6 391.1 1299.2 384.7 1300.9 387.7 1302.6 387.8 1304.2 370.0 1305.9 385.0 1307.6 368.5 1309.2 379.0 1310.9 381.1 1312.6 381.7 1314.3 391.8 1315.9 383.4 1317.6 372.9 1319.3 374.2 1320.9 378.7 1322.6 374.3 1324.3 378.6 1325.9 376.6 1327.6 359.9 1329.3 378.8 1330.9 394.4 1332.6 397.5 1334.3 386.0 1335.9 378.2 1337.6 371.7 1339.3 380.1 1341.0 378.8 1342.6 374.9 1344.3 388.0 1346.0 380.3 1347.6 377.1 1349.3 383.2 1351.0 386.8 1352.6 375.5 1354.3 370.8 1356.0 379.3 1357.6 399.5 1359.3 386.5 1361.0 383.5 1362.6 376.4 1364.3 384.0 1366.0 383.6 1367.6 371.9 1369.3 369.6 1371.0 379.4 1372.7 389.3 1374.3 390.3 1376.0 374.8 1377.7 386.7 1379.3 380.4 1381.0 381.8 1382.7 379.0 1384.3 377.5 1386.0 388.8 1387.7 385.7 1389.3 378.8 1391.0 380.1 1392.7 391.6 1394.3 364.5 1396.0 391.9 1397.7 371.7 1399.3 393.9 1401.0 372.4 1402.7 395.1 1404.4 372.8 1406.0 379.0 1407.7 373.8 1409.4 386.7 1411.0 378.3 1412.7 378.4 1414.4 379.1 1416.0 385.1 1417.7 369.2 1419.4 395.5 1421.0 393.3 1422.7 392.7 1424.4 368.7 1426.0 387.8 1427.7 386.6 1429.4 386.6 1431.1 383.1 1432.7 382.7 1434.4 384.6 1436.1 393.1 1437.7 377.0 1439.4 380.5 1441.1 367.9 1442.7 377.0 1444.4 381.1 1446.1 392.4 1447.7 379.8 1449.4 375.5 1451.1 366.6 1452.7 377.1 1454.4 373.8 1456.1 375.4 1457.7 366.8 1459.4 370.9 1461.1 379.9 1462.8 392.4 1464.4 366.8 1466.1 379.6 1467.8 387.0 1469.4 392.3 1471.1 395.0 1472.8 378.1 1474.4 381.5 1476.1 377.4 1477.8 369.7 1479.4 384.6 1481.1 376.7 1482.8 383.0 1484.4 385.2 1486.1 395.7 1487.8 382.6 1489.4 365.8 1491.1 377.9 1492.8 369.7 1494.5 369.9 1496.1 352.7 1497.8 356.3 1499.5 373.1 1501.1 370.8 1502.8 357.5 1504.5 365.3 1506.1 366.9 1507.8 358.9 1509.5 365.1 1511.1 369.8 1512.8 347.0 1514.5 370.3 1516.1 386.1 1517.8 373.3 1519.5 374.8 1521.2 363.6 1522.8 375.7 1524.5 384.2 1526.2 376.2 1527.8 389.8 1529.5 382.8 1531.2 376.9 1532.8 387.1 1534.5 396.9" stroke="#1a1ae0" stroke-width="1.05" stroke-opacity="0.85" fill="none" stroke-linejoin="round"/>
<path d="M935.5 367.7 937.2 370.7 938.8 371.3 940.5 363.6 942.2 351.3 943.8 370.6 945.5 362.3 947.2 354.1 948.8 361.6 950.5 360.4 952.2 366.5 953.9 355.2 955.5 360.6 957.2 360.5 958.9 357.0 960.5 349.6 962.2 343.8 963.9 361.2 965.5 347.3 967.2 361.0 968.9 368.1 970.5 359.0 972.2 354.3 973.9 356.8 975.5 355.1 977.2 377.2 978.9 350.7 980.6 357.5 982.2 360.6 983.9 381.0 985.6 364.8 987.2 373.5 988.9 373.8 990.6 369.9 992.2 383.6 993.9 361.2 995.6 361.8 997.2 363.6 998.9 358.6 1000.6 384.5 1002.2 372.8 1003.9 373.2 1005.6 380.7 1007.2 363.5 1008.9 348.9 1010.6 379.1 1012.3 365.4 1013.9 369.6 1015.6 368.9 1017.3 369.3 1018.9 364.4 1020.6 375.4 1022.3 373.5 1023.9 356.3 1025.6 370.0 1027.3 370.2 1028.9 384.8 1030.6 366.2 1032.3 365.0 1033.9 367.9 1035.6 357.0 1037.3 386.7 1038.9 362.8 1040.6 383.8 1042.3 379.0 1044.0 386.9 1045.6 363.5 1047.3 371.4 1049.0 374.1 1050.6 370.2 1052.3 388.0 1054.0 375.7 1055.6 368.9 1057.3 375.6 1059.0 371.2 1060.6 383.8 1062.3 369.3 1064.0 373.2 1065.6 368.9 1067.3 357.8 1069.0 370.1 1070.7 375.8 1072.3 367.6 1074.0 380.1 1075.7 357.2 1077.3 370.8 1079.0 370.8 1080.7 366.8 1082.3 381.4 1084.0 371.1 1085.7 372.9 1087.3 353.2 1089.0 359.0 1090.7 355.8 1092.3 370.7 1094.0 369.8 1095.7 362.3 1097.3 376.7 1099.0 378.7 1100.7 358.1 1102.4 367.1 1104.0 367.1 1105.7 385.3 1107.4 374.7 1109.0 375.0 1110.7 377.0 1112.4 368.4 1114.0 378.8 1115.7 380.9 1117.4 354.9 1119.0 367.1 1120.7 379.6 1122.4 353.4 1124.0 366.3 1125.7 368.0 1127.4 393.3 1129.0 358.4 1130.7 369.3 1132.4 360.4 1134.1 356.3 1135.7 381.2 1137.4 355.0 1139.1 363.5 1140.7 369.4 1142.4 389.4 1144.1 353.9 1145.7 367.5 1147.4 365.1 1149.1 380.0 1150.7 365.1 1152.4 365.4 1154.1 357.7 1155.7 377.8 1157.4 388.2 1159.1 375.3 1160.8 378.5 1162.4 368.0 1164.1 371.6 1165.8 368.5 1167.4 359.6 1169.1 356.2 1170.8 369.8 1172.4 383.4 1174.1 370.4 1175.8 372.0 1177.4 371.1 1179.1 371.6 1180.8 370.7 1182.4 388.7 1184.1 366.0 1185.8 366.4 1187.4 367.8 1189.1 371.6 1190.8 363.3 1192.5 384.7 1194.1 371.6 1195.8 366.0 1197.5 374.6 1199.1 371.4 1200.8 362.5 1202.5 372.3 1204.1 378.2 1205.8 374.9 1207.5 367.9 1209.1 379.6 1210.8 370.8 1212.5 374.3 1214.1 370.5 1215.8 364.7 1217.5 364.9 1219.1 370.4 1220.8 369.1 1222.5 364.5 1224.2 377.3 1225.8 369.6 1227.5 380.3 1229.2 360.7 1230.8 370.0 1232.5 381.4 1234.2 374.8 1235.8 364.7 1237.5 368.5 1239.2 384.4 1240.8 356.4 1242.5 368.9 1244.2 367.6 1244.3 368.2 1245.5 267.3 1245.8 373.2 1246.7 375.4 1247.5 377.3 1249.2 383.0 1250.9 369.4 1252.5 370.8 1254.2 372.7 1255.9 364.4 1257.5 368.0 1259.2 379.0 1260.9 374.0 1262.5 361.4 1264.2 381.9 1265.9 353.1 1267.5 375.0 1269.2 349.5 1270.9 366.9 1272.5 383.6 1274.2 366.8 1275.9 369.7 1277.5 373.9 1279.2 370.0 1280.9 369.9 1282.6 397.0 1284.2 364.4 1285.9 372.8 1287.6 370.2 1289.2 364.5 1290.9 370.4 1292.6 380.4 1294.2 363.7 1295.9 373.0 1297.6 368.4 1299.2 376.2 1300.9 371.6 1302.6 378.4 1304.2 357.4 1305.9 379.0 1307.6 362.4 1309.2 385.7 1310.9 368.2 1312.6 372.6 1314.3 362.2 1315.9 368.4 1317.6 351.6 1319.3 346.2 1320.9 374.7 1322.6 364.5 1324.3 378.0 1325.9 378.2 1327.6 370.7 1329.3 362.9 1330.9 364.8 1332.6 371.6 1334.3 360.9 1335.9 379.8 1337.6 377.5 1339.3 370.7 1341.0 385.0 1342.6 359.0 1344.3 371.2 1346.0 372.8 1347.6 366.4 1349.3 381.0 1351.0 370.9 1352.6 384.0 1354.3 371.3 1356.0 368.9 1357.6 356.8 1359.3 369.9 1361.0 358.8 1362.6 370.0 1364.3 383.2 1366.0 363.7 1367.6 369.3 1369.3 374.7 1371.0 362.3 1372.7 378.6 1374.3 373.1 1376.0 364.1 1377.7 363.0 1379.3 375.3 1381.0 367.5 1382.7 369.3 1384.3 364.8 1386.0 371.8 1387.7 387.4 1389.3 373.0 1391.0 357.5 1392.7 376.9 1394.3 371.6 1396.0 363.1 1397.7 371.8 1399.3 378.9 1401.0 370.2 1402.7 371.6 1404.4 377.1 1406.0 371.3 1407.7 381.4 1409.4 382.9 1411.0 379.3 1412.7 371.5 1414.4 369.9 1416.0 374.9 1417.7 361.0 1419.4 365.0 1421.0 369.5 1422.7 360.6 1424.4 357.6 1426.0 364.1 1427.7 374.5 1429.4 362.9 1431.1 360.1 1432.7 366.4 1434.4 370.7 1436.1 367.5 1437.7 367.0 1439.4 384.8 1441.1 356.7 1442.7 369.3 1444.4 353.4 1446.1 369.2 1447.7 376.4 1449.4 362.9 1451.1 369.0 1452.7 362.4 1454.4 373.3 1456.1 373.5 1457.7 375.3 1459.4 375.4 1461.1 366.3 1462.8 380.2 1464.4 368.3 1466.1 360.8 1467.8 377.7 1469.4 371.6 1471.1 376.2 1472.8 372.9 1474.4 368.5 1476.1 363.8 1477.8 362.1 1479.4 374.6 1481.1 363.1 1482.8 373.3 1484.4 377.0 1486.1 374.6 1487.8 381.7 1489.4 364.2 1491.1 378.4 1492.8 360.3 1494.5 338.8 1496.1 367.0 1497.8 375.5 1499.5 354.4 1501.1 365.6 1502.8 357.2 1504.5 357.1 1506.1 355.8 1507.8 339.7 1509.5 357.1 1511.1 358.7 1512.8 363.0 1514.5 369.6 1516.1 369.9 1517.8 374.6 1519.5 359.7 1521.2 368.9 1522.8 362.7 1524.5 366.0 1526.2 350.6 1527.8 370.0 1529.5 364.3 1531.2 374.5 1532.8 360.0 1534.5 371.1" stroke="#e02020" stroke-width="1.05" stroke-opacity="0.85" fill="none" stroke-linejoin="round"/>
<path d="M935.5 360.5 937.2 356.3 938.8 347.9 940.5 351.7 942.2 359.6 943.8 361.5 945.5 368.2 947.2 350.0 948.8 354.4 950.5 349.7 952.2 347.7 953.9 348.6 955.5 352.9 957.2 353.5 958.9 358.3 960.5 354.4 962.2 345.0 963.9 329.6 965.5 351.3 967.2 346.3 968.9 322.7 970.5 349.2 972.2 354.1 973.9 352.9 975.5 356.9 977.2 372.8 978.9 352.3 980.6 375.8 982.2 367.7 983.9 368.1 985.6 362.0 987.2 368.3 988.9 370.9 990.6 374.4 992.2 365.7 993.9 370.6 995.6 373.8 997.2 379.0 998.9 375.2 1000.6 367.0 1002.2 381.1 1003.9 367.2 1005.6 367.6 1007.2 358.9 1008.9 374.0 1010.6 376.5 1012.3 369.3 1013.9 371.7 1015.6 390.0 1017.3 358.9 1018.9 366.7 1020.6 367.5 1022.3 375.3 1023.9 365.7 1025.6 371.0 1027.3 355.7 1028.9 363.0 1030.6 357.0 1032.3 378.8 1033.9 375.9 1035.6 372.1 1037.3 373.8 1038.9 355.5 1040.6 365.7 1042.3 377.5 1044.0 370.9 1045.6 353.7 1047.3 371.2 1049.0 363.6 1050.6 382.8 1052.3 373.3 1054.0 370.0 1055.6 370.8 1057.3 368.7 1059.0 365.8 1060.6 359.3 1062.3 383.0 1064.0 368.2 1065.6 362.9 1067.3 366.8 1069.0 359.3 1070.7 369.7 1072.3 372.2 1074.0 375.5 1075.7 361.2 1077.3 379.2 1079.0 372.2 1080.7 369.1 1082.3 363.7 1084.0 371.1 1085.7 376.5 1087.3 364.0 1089.0 378.2 1090.7 374.8 1092.3 385.3 1094.0 367.4 1095.7 367.8 1097.3 383.2 1099.0 370.9 1100.7 364.4 1102.4 374.5 1104.0 382.8 1105.7 369.9 1107.4 364.1 1109.0 384.4 1110.7 362.1 1112.4 369.7 1114.0 361.6 1115.7 377.7 1117.4 361.5 1119.0 366.5 1120.7 362.7 1122.4 368.5 1124.0 361.1 1125.7 370.5 1127.4 372.7 1129.0 377.6 1130.7 381.9 1132.4 368.5 1134.1 371.9 1135.7 370.0 1137.4 371.4 1139.1 366.3 1140.7 368.7 1142.4 374.0 1144.1 362.9 1145.7 351.8 1147.4 376.3 1149.1 372.7 1150.7 364.5 1152.4 375.0 1154.1 360.6 1155.7 374.6 1157.4 378.8 1159.1 376.7 1160.8 360.3 1162.4 385.5 1164.1 367.8 1165.8 386.4 1167.4 362.8 1169.1 365.5 1170.8 363.3 1172.4 351.1 1174.1 369.1 1175.8 358.9 1177.4 363.4 1179.1 359.6 1180.8 374.3 1182.4 358.8 1184.1 370.5 1185.8 355.7 1187.4 360.0 1189.1 367.1 1190.8 362.7 1192.5 363.1 1194.1 365.6 1195.8 345.4 1197.5 374.2 1199.1 378.5 1200.8 378.2 1202.5 369.3 1204.1 367.6 1205.8 361.6 1207.5 359.0 1209.1 365.1 1210.8 365.8 1212.5 374.7 1214.1 358.8 1215.8 355.7 1217.5 367.9 1219.1 361.0 1220.8 372.1 1222.5 367.1 1224.2 366.1 1225.8 359.8 1227.5 378.9 1229.2 366.4 1230.8 359.6 1232.5 364.1 1234.2 361.5 1235.8 387.5 1237.5 374.1 1239.2 370.6 1240.8 373.4 1242.5 386.5 1244.2 358.5 1244.3 359.1 1245.5 198.0 1245.8 365.3 1246.7 374.9 1247.5 383.4 1249.2 371.4 1250.9 367.2 1252.5 359.6 1254.2 362.0 1255.9 375.9 1257.5 373.0 1259.2 365.8 1260.9 359.5 1262.5 371.4 1264.2 372.9 1265.9 363.0 1267.5 366.6 1269.2 356.5 1270.9 363.8 1272.5 359.5 1274.2 384.1 1275.9 379.1 1277.5 380.5 1279.2 373.6 1280.9 365.1 1282.6 370.3 1284.2 363.9 1285.9 374.4 1287.6 360.0 1289.2 361.1 1290.9 382.5 1292.6 377.1 1294.2 373.4 1295.9 361.5 1297.6 361.8 1299.2 353.4 1300.9 380.8 1302.6 366.5 1304.2 368.5 1305.9 370.7 1307.6 369.6 1309.2 385.7 1310.9 366.1 1312.6 372.0 1314.3 379.0 1315.9 356.8 1317.6 374.3 1319.3 366.6 1320.9 374.3 1322.6 381.5 1324.3 372.4 1325.9 366.0 1327.6 377.0 1329.3 364.4 1330.9 354.4 1332.6 358.6 1334.3 371.1 1335.9 375.1 1337.6 360.8 1339.3 380.1 1341.0 377.1 1342.6 354.0 1344.3 365.1 1346.0 364.2 1347.6 370.6 1349.3 344.4 1351.0 341.9 1352.6 369.2 1354.3 361.0 1356.0 370.3 1357.6 364.0 1359.3 356.6 1361.0 357.0 1362.6 369.7 1364.3 364.3 1366.0 343.8 1367.6 359.5 1369.3 355.5 1371.0 362.7 1372.7 368.3 1374.3 376.7 1376.0 375.7 1377.7 381.5 1379.3 376.7 1381.0 374.9 1382.7 361.4 1384.3 381.5 1386.0 364.0 1387.7 384.1 1389.3 345.6 1391.0 372.4 1392.7 366.3 1394.3 352.7 1396.0 369.2 1397.7 366.7 1399.3 366.3 1401.0 362.8 1402.7 371.8 1404.4 352.8 1406.0 357.9 1407.7 366.3 1409.4 357.2 1411.0 368.4 1412.7 372.0 1414.4 368.4 1416.0 363.6 1417.7 380.6 1419.4 370.3 1421.0 363.7 1422.7 376.9 1424.4 364.8 1426.0 376.9 1427.7 365.9 1429.4 368.2 1431.1 364.7 1432.7 373.8 1434.4 384.4 1436.1 389.7 1437.7 336.1 1439.4 380.2 1441.1 375.1 1442.7 381.8 1444.4 356.0 1446.1 361.7 1447.7 360.6 1449.4 377.5 1451.1 359.2 1452.7 374.3 1454.4 357.3 1456.1 368.6 1457.7 387.4 1459.4 368.8 1461.1 375.4 1462.8 347.3 1464.4 379.2 1466.1 370.5 1467.8 370.4 1469.4 375.1 1471.1 374.2 1472.8 368.4 1474.4 364.9 1476.1 371.4 1477.8 369.8 1479.4 367.3 1481.1 375.0 1482.8 368.4 1484.4 365.4 1486.1 356.1 1487.8 358.0 1489.4 358.4 1491.1 353.6 1492.8 366.7 1494.5 349.1 1496.1 360.6 1497.8 357.6 1499.5 359.1 1501.1 349.5 1502.8 360.5 1504.5 350.3 1506.1 358.8 1507.8 361.1 1509.5 354.6 1511.1 366.5 1512.8 350.5 1514.5 368.1 1516.1 367.3 1517.8 354.3 1519.5 377.9 1521.2 358.6 1522.8 366.3 1524.5 366.6 1526.2 366.1 1527.8 375.7 1529.5 354.3 1531.2 363.8 1532.8 362.9 1534.5 361.7" stroke="#30d030" stroke-width="1.05" stroke-opacity="0.85" fill="none" stroke-linejoin="round"/>
<path d="M935.5 345.7 937.2 359.8 938.8 341.5 940.5 343.0 942.2 349.3 943.8 353.8 945.5 351.1 947.2 360.8 948.8 349.9 950.5 349.9 952.2 352.9 953.9 347.1 955.5 356.7 957.2 333.0 958.9 342.7 960.5 350.4 962.2 333.3 963.9 334.7 965.5 343.4 967.2 350.5 968.9 340.7 970.5 337.3 972.2 337.2 973.9 336.4 975.5 338.9 977.2 360.4 978.9 349.2 980.6 367.8 982.2 345.9 983.9 352.1 985.6 348.5 987.2 356.8 988.9 357.7 990.6 362.4 992.2 381.2 993.9 359.9 995.6 336.8 997.2 347.6 998.9 360.1 1000.6 355.6 1002.2 354.6 1003.9 363.1 1005.6 358.3 1007.2 355.4 1008.9 362.4 1010.6 354.4 1012.3 348.0 1013.9 351.3 1015.6 355.9 1017.3 359.6 1018.9 352.2 1020.6 362.6 1022.3 363.5 1023.9 347.6 1025.6 361.2 1027.3 369.4 1028.9 351.1 1030.6 352.1 1032.3 348.8 1033.9 358.9 1035.6 348.6 1037.3 359.2 1038.9 366.5 1040.6 359.5 1042.3 355.9 1044.0 367.1 1045.6 359.5 1047.3 355.9 1049.0 361.5 1050.6 357.3 1052.3 358.2 1054.0 364.6 1055.6 355.2 1057.3 353.2 1059.0 374.6 1060.6 363.5 1062.3 351.1 1064.0 354.1 1065.6 373.5 1067.3 355.9 1069.0 346.2 1070.7 350.5 1072.3 351.4 1074.0 358.6 1075.7 357.0 1077.3 367.2 1079.0 357.5 1080.7 338.6 1082.3 357.8 1084.0 365.2 1085.7 353.3 1087.3 374.4 1089.0 338.8 1090.7 352.4 1092.3 359.7 1094.0 360.6 1095.7 365.0 1097.3 356.5 1099.0 357.2 1100.7 370.3 1102.4 349.2 1104.0 360.4 1105.7 366.5 1107.4 349.7 1109.0 351.3 1110.7 362.2 1112.4 362.8 1114.0 348.3 1115.7 360.7 1117.4 355.7 1119.0 346.0 1120.7 367.4 1122.4 369.8 1124.0 364.3 1125.7 362.1 1127.4 357.1 1129.0 349.2 1130.7 360.8 1132.4 343.2 1134.1 355.4 1135.7 373.6 1137.4 357.5 1139.1 351.3 1140.7 348.1 1142.4 363.1 1144.1 358.0 1145.7 338.7 1147.4 355.9 1149.1 364.7 1150.7 369.7 1152.4 360.7 1154.1 354.0 1155.7 366.2 1157.4 345.8 1159.1 363.3 1160.8 372.8 1162.4 351.7 1164.1 356.7 1165.8 358.9 1167.4 346.5 1169.1 362.0 1170.8 351.2 1172.4 361.4 1174.1 343.4 1175.8 356.9 1177.4 356.7 1179.1 352.0 1180.8 357.6 1182.4 353.2 1184.1 358.9 1185.8 351.8 1187.4 356.4 1189.1 361.4 1190.8 352.2 1192.5 353.0 1194.1 365.7 1195.8 359.4 1197.5 370.7 1199.1 356.0 1200.8 350.0 1202.5 336.9 1204.1 354.5 1205.8 348.2 1207.5 344.7 1209.1 350.8 1210.8 372.2 1212.5 360.7 1214.1 354.0 1215.8 354.4 1217.5 355.8 1219.1 364.3 1220.8 372.2 1222.5 353.8 1224.2 347.3 1225.8 360.8 1227.5 352.3 1229.2 361.2 1230.8 358.0 1232.5 361.6 1234.2 350.0 1235.8 364.4 1237.5 355.6 1239.2 349.4 1240.8 357.0 1242.5 366.9 1244.2 353.6 1244.3 354.1 1245.5 224.9 1245.8 358.3 1246.7 363.1 1247.5 367.4 1249.2 358.3 1250.9 359.3 1252.5 351.8 1254.2 360.8 1255.9 356.0 1257.5 351.9 1259.2 372.5 1260.9 348.8 1262.5 356.7 1264.2 365.1 1265.9 355.8 1267.5 348.4 1269.2 362.5 1270.9 361.4 1272.5 345.7 1274.2 344.0 1275.9 340.6 1277.5 356.5 1279.2 364.6 1280.9 364.7 1282.6 359.5 1284.2 365.0 1285.9 353.3 1287.6 346.5 1289.2 365.6 1290.9 344.7 1292.6 364.3 1294.2 362.6 1295.9 368.2 1297.6 350.9 1299.2 357.6 1300.9 356.7 1302.6 380.6 1304.2 361.7 1305.9 354.4 1307.6 379.5 1309.2 340.8 1310.9 354.2 1312.6 347.9 1314.3 359.3 1315.9 349.3 1317.6 346.3 1319.3 335.7 1320.9 365.2 1322.6 339.6 1324.3 365.5 1325.9 355.3 1327.6 359.8 1329.3 357.9 1330.9 372.4 1332.6 358.9 1334.3 366.3 1335.9 358.1 1337.6 354.3 1339.3 355.9 1341.0 357.2 1342.6 344.9 1344.3 353.6 1346.0 351.4 1347.6 345.3 1349.3 356.8 1351.0 355.4 1352.6 350.8 1354.3 358.5 1356.0 346.0 1357.6 361.5 1359.3 358.0 1361.0 357.4 1362.6 358.9 1364.3 356.4 1366.0 360.2 1367.6 375.9 1369.3 346.9 1371.0 359.9 1372.7 350.3 1374.3 365.2 1376.0 351.6 1377.7 367.1 1379.3 344.5 1381.0 357.6 1382.7 360.1 1384.3 380.1 1386.0 375.2 1387.7 360.7 1389.3 361.9 1391.0 361.9 1392.7 361.0 1394.3 348.9 1396.0 360.1 1397.7 360.1 1399.3 363.0 1401.0 365.7 1402.7 353.8 1404.4 360.4 1406.0 360.0 1407.7 354.5 1409.4 356.4 1411.0 350.4 1412.7 350.8 1414.4 367.5 1416.0 363.4 1417.7 349.0 1419.4 360.0 1421.0 351.7 1422.7 364.1 1424.4 376.9 1426.0 374.9 1427.7 362.6 1429.4 360.4 1431.1 337.5 1432.7 350.6 1434.4 351.0 1436.1 349.2 1437.7 369.9 1439.4 356.2 1441.1 357.6 1442.7 340.5 1444.4 362.4 1446.1 368.7 1447.7 356.0 1449.4 358.2 1451.1 355.8 1452.7 354.6 1454.4 355.2 1456.1 361.7 1457.7 360.1 1459.4 337.4 1461.1 361.6 1462.8 352.3 1464.4 364.7 1466.1 370.5 1467.8 348.9 1469.4 354.6 1471.1 345.2 1472.8 347.3 1474.4 353.8 1476.1 361.8 1477.8 339.4 1479.4 354.4 1481.1 336.8 1482.8 348.0 1484.4 345.5 1486.1 347.0 1487.8 347.2 1489.4 351.5 1491.1 329.2 1492.8 354.4 1494.5 358.1 1496.1 342.0 1497.8 348.7 1499.5 334.5 1501.1 343.5 1502.8 332.1 1504.5 341.3 1506.1 349.1 1507.8 346.3 1509.5 339.0 1511.1 351.1 1512.8 354.3 1514.5 350.3 1516.1 347.5 1517.8 341.1 1519.5 348.7 1521.2 345.9 1522.8 355.2 1524.5 339.0 1526.2 336.6 1527.8 360.1 1529.5 353.0 1531.2 356.1 1532.8 352.5 1534.5 357.7" stroke="#000000" stroke-width="1.05" stroke-opacity="0.85" fill="none" stroke-linejoin="round"/>
<path d="M935.5 344.4 937.2 346.6 938.8 355.6 940.5 351.0 942.2 338.9 943.8 339.3 945.5 359.3 947.2 337.6 948.8 337.1 950.5 335.0 952.2 347.9 953.9 349.5 955.5 342.9 957.2 346.5 958.9 342.1 960.5 344.1 962.2 340.7 963.9 342.0 965.5 337.5 967.2 336.7 968.9 340.9 970.5 344.3 972.2 327.6 973.9 334.8 975.5 340.4 977.2 353.9 978.9 343.4 980.6 352.1 982.2 347.6 983.9 352.0 985.6 333.9 987.2 355.5 988.9 364.6 990.6 347.4 992.2 347.0 993.9 345.5 995.6 378.6 997.2 364.7 998.9 363.7 1000.6 370.7 1002.2 355.9 1003.9 351.5 1005.6 348.0 1007.2 349.4 1008.9 356.9 1010.6 344.1 1012.3 355.0 1013.9 380.7 1015.6 359.9 1017.3 363.6 1018.9 354.5 1020.6 360.9 1022.3 360.1 1023.9 345.9 1025.6 363.8 1027.3 369.0 1028.9 355.4 1030.6 352.1 1032.3 358.5 1033.9 357.6 1035.6 362.5 1037.3 368.7 1038.9 364.0 1040.6 366.6 1042.3 347.4 1044.0 359.8 1045.6 345.9 1047.3 358.8 1049.0 365.4 1050.6 356.1 1052.3 356.0 1054.0 346.6 1055.6 374.8 1057.3 361.3 1059.0 354.3 1060.6 364.1 1062.3 356.7 1064.0 360.2 1065.6 345.7 1067.3 347.2 1069.0 375.0 1070.7 370.7 1072.3 364.4 1074.0 358.3 1075.7 359.0 1077.3 362.0 1079.0 352.6 1080.7 350.4 1082.3 356.8 1084.0 360.2 1085.7 357.3 1087.3 364.6 1089.0 350.7 1090.7 350.6 1092.3 365.4 1094.0 345.4 1095.7 358.0 1097.3 350.7 1099.0 357.6 1100.7 359.1 1102.4 351.6 1104.0 365.8 1105.7 359.7 1107.4 367.6 1109.0 353.5 1110.7 359.5 1112.4 360.3 1114.0 362.0 1115.7 352.2 1117.4 355.4 1119.0 359.4 1120.7 361.5 1122.4 342.6 1124.0 345.0 1125.7 367.0 1127.4 347.4 1129.0 353.1 1130.7 355.0 1132.4 354.0 1134.1 369.0 1135.7 336.9 1137.4 340.3 1139.1 357.2 1140.7 357.4 1142.4 356.2 1144.1 363.1 1145.7 353.0 1147.4 357.8 1149.1 366.6 1150.7 361.7 1152.4 363.1 1154.1 362.7 1155.7 360.5 1157.4 352.4 1159.1 361.2 1160.8 371.3 1162.4 345.7 1164.1 362.7 1165.8 345.7 1167.4 355.7 1169.1 353.2 1170.8 364.8 1172.4 357.0 1174.1 361.0 1175.8 358.3 1177.4 353.8 1179.1 361.0 1180.8 350.8 1182.4 369.6 1184.1 366.8 1185.8 354.1 1187.4 353.4 1189.1 348.8 1190.8 344.2 1192.5 354.0 1194.1 351.4 1195.8 355.5 1197.5 356.4 1199.1 358.4 1200.8 356.6 1202.5 362.3 1204.1 358.9 1205.8 350.9 1207.5 353.4 1209.1 348.0 1210.8 361.5 1212.5 360.5 1214.1 354.0 1215.8 364.7 1217.5 365.0 1219.1 352.4 1220.8 360.1 1222.5 350.5 1224.2 356.9 1225.8 361.3 1227.5 366.4 1229.2 347.8 1230.8 358.4 1232.5 365.2 1234.2 370.3 1235.8 368.2 1237.5 361.2 1239.2 347.6 1240.8 365.6 1242.5 355.5 1244.2 356.1 1244.3 358.9 1245.5 260.8 1245.8 385.7 1246.7 376.7 1247.5 368.7 1249.2 351.3 1250.9 375.2 1252.5 348.8 1254.2 358.1 1255.9 372.2 1257.5 342.7 1259.2 359.3 1260.9 345.1 1262.5 356.5 1264.2 364.6 1265.9 348.9 1267.5 343.3 1269.2 347.6 1270.9 368.2 1272.5 353.1 1274.2 368.1 1275.9 363.3 1277.5 347.1 1279.2 370.3 1280.9 337.5 1282.6 371.3 1284.2 369.2 1285.9 352.1 1287.6 360.1 1289.2 359.6 1290.9 366.2 1292.6 352.2 1294.2 356.5 1295.9 359.1 1297.6 365.2 1299.2 371.0 1300.9 358.5 1302.6 376.7 1304.2 363.9 1305.9 353.1 1307.6 352.6 1309.2 361.9 1310.9 380.1 1312.6 353.8 1314.3 351.0 1315.9 357.9 1317.6 347.6 1319.3 349.7 1320.9 372.5 1322.6 360.3 1324.3 362.5 1325.9 345.2 1327.6 349.3 1329.3 357.4 1330.9 353.6 1332.6 350.9 1334.3 364.3 1335.9 359.9 1337.6 359.2 1339.3 361.9 1341.0 361.1 1342.6 356.4 1344.3 369.3 1346.0 368.0 1347.6 351.8 1349.3 345.5 1351.0 342.6 1352.6 373.2 1354.3 355.2 1356.0 365.4 1357.6 362.9 1359.3 360.3 1361.0 355.1 1362.6 353.7 1364.3 378.8 1366.0 363.5 1367.6 349.3 1369.3 357.4 1371.0 372.1 1372.7 366.7 1374.3 365.2 1376.0 350.0 1377.7 343.7 1379.3 367.7 1381.0 354.2 1382.7 360.9 1384.3 353.7 1386.0 360.5 1387.7 368.0 1389.3 364.0 1391.0 364.1 1392.7 346.3 1394.3 365.0 1396.0 353.9 1397.7 365.7 1399.3 364.3 1401.0 356.7 1402.7 363.4 1404.4 342.1 1406.0 347.6 1407.7 368.2 1409.4 354.3 1411.0 346.0 1412.7 368.8 1414.4 362.1 1416.0 346.2 1417.7 365.6 1419.4 353.3 1421.0 359.3 1422.7 357.2 1424.4 367.4 1426.0 359.3 1427.7 362.3 1429.4 343.9 1431.1 353.3 1432.7 357.7 1434.4 358.8 1436.1 352.9 1437.7 372.2 1439.4 367.1 1441.1 366.4 1442.7 365.4 1444.4 372.6 1446.1 354.4 1447.7 362.7 1449.4 348.2 1451.1 359.7 1452.7 361.9 1454.4 355.0 1456.1 355.1 1457.7 361.1 1459.4 353.9 1461.1 348.2 1462.8 362.5 1464.4 347.9 1466.1 360.4 1467.8 351.4 1469.4 359.1 1471.1 361.9 1472.8 356.1 1474.4 367.9 1476.1 371.8 1477.8 358.5 1479.4 359.9 1481.1 366.9 1482.8 339.2 1484.4 352.8 1486.1 361.5 1487.8 350.1 1489.4 348.7 1491.1 355.2 1492.8 352.6 1494.5 364.8 1496.1 346.1 1497.8 331.1 1499.5 336.5 1501.1 336.9 1502.8 350.4 1504.5 354.8 1506.1 338.9 1507.8 344.7 1509.5 350.0 1511.1 352.3 1512.8 343.1 1514.5 347.1 1516.1 357.5 1517.8 355.7 1519.5 369.7 1521.2 366.3 1522.8 352.4 1524.5 361.5 1526.2 365.2 1527.8 356.0 1529.5 347.8 1531.2 365.6 1532.8 361.3 1534.5 360.8" stroke="#1a1ae0" stroke-width="1.05" stroke-opacity="0.85" fill="none" stroke-linejoin="round"/>
<path d="M935.5 344.3 937.2 341.3 938.8 343.9 940.5 322.8 942.2 351.2 943.8 332.9 945.5 334.1 947.2 325.3 948.8 333.2 950.5 343.5 952.2 329.9 953.9 347.8 955.5 323.6 957.2 332.2 958.9 336.5 960.5 333.6 962.2 323.8 963.9 342.2 965.5 313.9 967.2 334.3 968.9 316.4 970.5 328.6 972.2 315.3 973.9 343.2 975.5 327.5 977.2 337.4 978.9 344.4 980.6 334.1 982.2 344.9 983.9 350.5 985.6 347.2 987.2 352.6 988.9 348.4 990.6 347.2 992.2 337.9 993.9 347.9 995.6 353.6 997.2 340.8 998.9 350.3 1000.6 355.4 1002.2 357.4 1003.9 332.5 1005.6 348.2 1007.2 333.7 1008.9 355.5 1010.6 356.2 1012.3 332.9 1013.9 349.4 1015.6 348.9 1017.3 349.2 1018.9 356.0 1020.6 338.7 1022.3 357.5 1023.9 340.9 1025.6 356.3 1027.3 325.3 1028.9 341.3 1030.6 338.0 1032.3 361.6 1033.9 344.4 1035.6 352.6 1037.3 354.6 1038.9 354.4 1040.6 340.4 1042.3 347.0 1044.0 351.5 1045.6 352.4 1047.3 352.7 1049.0 351.9 1050.6 349.7 1052.3 357.0 1054.0 355.0 1055.6 366.0 1057.3 347.6 1059.0 342.5 1060.6 351.5 1062.3 335.7 1064.0 353.8 1065.6 347.1 1067.3 337.6 1069.0 345.3 1070.7 354.0 1072.3 344.3 1074.0 350.7 1075.7 337.9 1077.3 340.9 1079.0 349.1 1080.7 342.9 1082.3 332.7 1084.0 337.8 1085.7 340.0 1087.3 348.8 1089.0 352.2 1090.7 353.5 1092.3 338.6 1094.0 356.3 1095.7 343.8 1097.3 333.9 1099.0 360.5 1100.7 344.3 1102.4 355.5 1104.0 348.3 1105.7 342.9 1107.4 355.5 1109.0 358.3 1110.7 350.6 1112.4 345.5 1114.0 350.5 1115.7 355.2 1117.4 341.5 1119.0 356.6 1120.7 359.3 1122.4 346.4 1124.0 329.2 1125.7 351.4 1127.4 348.0 1129.0 355.8 1130.7 352.3 1132.4 356.7 1134.1 344.9 1135.7 352.9 1137.4 353.8 1139.1 339.4 1140.7 359.4 1142.4 339.5 1144.1 348.8 1145.7 354.9 1147.4 347.5 1149.1 349.5 1150.7 344.6 1152.4 349.0 1154.1 331.5 1155.7 338.4 1157.4 337.8 1159.1 357.3 1160.8 350.1 1162.4 337.2 1164.1 342.2 1165.8 347.0 1167.4 347.8 1169.1 338.4 1170.8 363.1 1172.4 354.3 1174.1 358.7 1175.8 337.5 1177.4 358.6 1179.1 349.3 1180.8 335.8 1182.4 349.6 1184.1 344.7 1185.8 346.8 1187.4 341.4 1189.1 328.6 1190.8 356.8 1192.5 347.5 1194.1 333.2 1195.8 327.2 1197.5 348.8 1199.1 335.4 1200.8 341.4 1202.5 341.7 1204.1 358.9 1205.8 360.6 1207.5 345.8 1209.1 348.0 1210.8 347.8 1212.5 356.9 1214.1 334.9 1215.8 348.5 1217.5 324.3 1219.1 348.9 1220.8 343.8 1222.5 340.6 1224.2 349.8 1225.8 355.4 1227.5 351.7 1229.2 346.8 1230.8 351.1 1232.5 330.3 1234.2 351.3 1235.8 340.4 1237.5 340.1 1239.2 345.3 1240.8 355.8 1242.5 342.6 1244.2 339.0 1244.3 339.6 1245.5 247.2 1245.8 345.4 1246.7 346.1 1247.5 346.7 1249.2 364.9 1250.9 356.0 1252.5 348.4 1254.2 345.3 1255.9 340.6 1257.5 349.4 1259.2 345.4 1260.9 355.4 1262.5 341.6 1264.2 340.8 1265.9 347.8 1267.5 338.8 1269.2 349.3 1270.9 350.9 1272.5 349.3 1274.2 330.2 1275.9 360.4 1277.5 345.2 1279.2 349.8 1280.9 345.9 1282.6 359.1 1284.2 340.7 1285.9 341.3 1287.6 349.0 1289.2 350.4 1290.9 346.3 1292.6 338.8 1294.2 359.5 1295.9 335.1 1297.6 349.4 1299.2 339.8 1300.9 353.6 1302.6 330.4 1304.2 344.5 1305.9 331.9 1307.6 351.7 1309.2 352.0 1310.9 337.2 1312.6 340.6 1314.3 343.7 1315.9 336.2 1317.6 342.9 1319.3 349.3 1320.9 362.3 1322.6 365.6 1324.3 341.1 1325.9 341.7 1327.6 354.0 1329.3 341.9 1330.9 348.1 1332.6 346.1 1334.3 338.3 1335.9 359.5 1337.6 343.4 1339.3 342.0 1341.0 348.0 1342.6 345.0 1344.3 355.9 1346.0 345.1 1347.6 341.1 1349.3 339.9 1351.0 352.1 1352.6 339.6 1354.3 343.8 1356.0 340.8 1357.6 346.7 1359.3 341.1 1361.0 344.7 1362.6 326.1 1364.3 348.9 1366.0 336.9 1367.6 346.6 1369.3 358.9 1371.0 342.5 1372.7 336.2 1374.3 340.1 1376.0 339.9 1377.7 353.2 1379.3 343.9 1381.0 358.0 1382.7 331.6 1384.3 333.5 1386.0 355.1 1387.7 349.7 1389.3 356.7 1391.0 352.7 1392.7 350.1 1394.3 356.2 1396.0 350.3 1397.7 341.1 1399.3 348.8 1401.0 340.5 1402.7 347.9 1404.4 345.6 1406.0 357.0 1407.7 338.7 1409.4 356.0 1411.0 349.5 1412.7 357.2 1414.4 342.3 1416.0 355.3 1417.7 341.7 1419.4 330.4 1421.0 343.6 1422.7 365.3 1424.4 338.2 1426.0 345.0 1427.7 341.3 1429.4 343.0 1431.1 336.7 1432.7 337.9 1434.4 346.9 1436.1 356.8 1437.7 347.1 1439.4 339.9 1441.1 362.0 1442.7 345.1 1444.4 361.4 1446.1 337.0 1447.7 330.8 1449.4 339.0 1451.1 349.8 1452.7 339.7 1454.4 335.1 1456.1 332.3 1457.7 334.4 1459.4 337.1 1461.1 354.5 1462.8 347.1 1464.4 342.3 1466.1 345.8 1467.8 362.6 1469.4 347.6 1471.1 352.1 1472.8 344.4 1474.4 343.2 1476.1 357.9 1477.8 352.1 1479.4 344.1 1481.1 353.8 1482.8 344.8 1484.4 350.9 1486.1 349.0 1487.8 334.7 1489.4 342.0 1491.1 344.2 1492.8 325.4 1494.5 339.6 1496.1 335.9 1497.8 334.4 1499.5 308.5 1501.1 328.0 1502.8 325.9 1504.5 336.5 1506.1 326.9 1507.8 325.5 1509.5 345.8 1511.1 333.7 1512.8 324.9 1514.5 324.7 1516.1 339.2 1517.8 323.0 1519.5 349.0 1521.2 335.3 1522.8 340.2 1524.5 353.9 1526.2 337.1 1527.8 356.4 1529.5 351.4 1531.2 346.8 1532.8 356.2 1534.5 336.4" stroke="#e02020" stroke-width="1.05" stroke-opacity="0.85" fill="none" stroke-linejoin="round"/>
<path d="M935.5 329.3 937.2 334.8 938.8 329.6 940.5 343.0 942.2 343.7 943.8 341.6 945.5 327.6 947.2 319.1 948.8 333.6 950.5 334.0 952.2 331.1 953.9 312.8 955.5 325.0 957.2 324.9 958.9 329.3 960.5 319.6 962.2 312.2 963.9 320.9 965.5 329.1 967.2 311.8 968.9 323.5 970.5 309.6 972.2 334.3 973.9 328.5 975.5 326.9 977.2 345.6 978.9 332.5 980.6 330.3 982.2 338.2 983.9 334.9 985.6 338.1 987.2 347.3 988.9 334.8 990.6 347.3 992.2 343.8 993.9 347.5 995.6 336.2 997.2 345.4 998.9 345.4 1000.6 359.2 1002.2 343.9 1003.9 333.4 1005.6 358.8 1007.2 338.6 1008.9 341.9 1010.6 355.9 1012.3 345.1 1013.9 333.8 1015.6 341.7 1017.3 338.7 1018.9 332.5 1020.6 344.3 1022.3 334.5 1023.9 351.9 1025.6 348.7 1027.3 329.7 1028.9 330.5 1030.6 333.9 1032.3 353.9 1033.9 343.4 1035.6 348.9 1037.3 325.8 1038.9 352.6 1040.6 352.0 1042.3 346.4 1044.0 338.8 1045.6 346.3 1047.3 344.0 1049.0 339.0 1050.6 341.2 1052.3 356.9 1054.0 351.7 1055.6 328.0 1057.3 341.0 1059.0 326.5 1060.6 329.4 1062.3 332.3 1064.0 340.8 1065.6 328.7 1067.3 345.0 1069.0 323.0 1070.7 336.4 1072.3 336.3 1074.0 344.4 1075.7 345.8 1077.3 343.1 1079.0 345.3 1080.7 348.1 1082.3 349.8 1084.0 339.4 1085.7 331.2 1087.3 324.9 1089.0 334.6 1090.7 341.7 1092.3 335.8 1094.0 326.8 1095.7 339.7 1097.3 332.5 1099.0 337.5 1100.7 339.6 1102.4 345.3 1104.0 334.8 1105.7 347.4 1107.4 348.9 1109.0 337.9 1110.7 332.7 1112.4 333.1 1114.0 333.8 1115.7 343.2 1117.4 341.7 1119.0 331.5 1120.7 323.8 1122.4 362.7 1124.0 330.8 1125.7 338.9 1127.4 341.1 1129.0 346.8 1130.7 345.9 1132.4 350.6 1134.1 338.6 1135.7 348.8 1137.4 342.3 1139.1 353.1 1140.7 331.1 1142.4 335.3 1144.1 350.4 1145.7 337.1 1147.4 344.1 1149.1 348.0 1150.7 340.3 1152.4 334.0 1154.1 328.6 1155.7 338.7 1157.4 331.4 1159.1 335.4 1160.8 335.4 1162.4 332.9 1164.1 352.1 1165.8 344.2 1167.4 328.7 1169.1 352.0 1170.8 347.9 1172.4 325.6 1174.1 349.4 1175.8 340.0 1177.4 338.9 1179.1 343.5 1180.8 333.5 1182.4 334.0 1184.1 346.9 1185.8 326.8 1187.4 347.9 1189.1 344.9 1190.8 342.4 1192.5 339.6 1194.1 350.4 1195.8 339.4 1197.5 359.4 1199.1 345.5 1200.8 348.9 1202.5 347.4 1204.1 342.3 1205.8 339.7 1207.5 347.9 1209.1 341.6 1210.8 354.1 1212.5 345.0 1214.1 334.3 1215.8 347.6 1217.5 344.5 1219.1 342.2 1220.8 335.4 1222.5 339.0 1224.2 343.4 1225.8 350.2 1227.5 340.1 1229.2 365.5 1230.8 338.6 1232.5 348.2 1234.2 336.9 1235.8 342.6 1237.5 331.1 1239.2 347.3 1240.8 358.2 1242.5 341.9 1244.2 346.1 1244.3 345.8 1245.5 208.7 1245.8 342.9 1246.7 337.4 1247.5 332.5 1249.2 349.5 1250.9 336.7 1252.5 335.0 1254.2 333.5 1255.9 358.4 1257.5 341.0 1259.2 347.8 1260.9 344.1 1262.5 348.8 1264.2 344.8 1265.9 334.5 1267.5 328.2 1269.2 336.5 1270.9 352.1 1272.5 332.0 1274.2 352.2 1275.9 345.2 1277.5 333.0 1279.2 346.9 1280.9 336.3 1282.6 344.3 1284.2 351.5 1285.9 340.4 1287.6 346.5 1289.2 327.9 1290.9 327.2 1292.6 329.4 1294.2 350.4 1295.9 326.7 1297.6 339.6 1299.2 338.0 1300.9 340.5 1302.6 346.5 1304.2 341.0 1305.9 334.9 1307.6 329.5 1309.2 337.4 1310.9 341.9 1312.6 345.9 1314.3 344.6 1315.9 328.8 1317.6 336.5 1319.3 340.2 1320.9 355.4 1322.6 356.4 1324.3 336.5 1325.9 336.9 1327.6 333.0 1329.3 340.4 1330.9 347.4 1332.6 356.0 1334.3 349.5 1335.9 360.9 1337.6 339.6 1339.3 338.2 1341.0 330.8 1342.6 357.0 1344.3 353.6 1346.0 337.1 1347.6 339.4 1349.3 358.5 1351.0 347.9 1352.6 341.3 1354.3 345.3 1356.0 339.1 1357.6 341.9 1359.3 346.7 1361.0 339.0 1362.6 342.8 1364.3 332.7 1366.0 354.0 1367.6 344.1 1369.3 347.7 1371.0 344.2 1372.7 338.9 1374.3 336.9 1376.0 359.7 1377.7 332.7 1379.3 337.8 1381.0 337.9 1382.7 341.6 1384.3 334.4 1386.0 338.8 1387.7 356.9 1389.3 347.7 1391.0 344.3 1392.7 345.2 1394.3 345.9 1396.0 337.2 1397.7 351.4 1399.3 348.4 1401.0 350.4 1402.7 342.5 1404.4 338.6 1406.0 349.7 1407.7 339.0 1409.4 346.7 1411.0 330.6 1412.7 360.6 1414.4 342.3 1416.0 332.8 1417.7 345.2 1419.4 351.3 1421.0 349.4 1422.7 337.7 1424.4 346.7 1426.0 333.5 1427.7 341.8 1429.4 346.7 1431.1 345.8 1432.7 338.2 1434.4 333.8 1436.1 348.8 1437.7 351.9 1439.4 351.7 1441.1 338.2 1442.7 327.1 1444.4 346.4 1446.1 336.5 1447.7 345.3 1449.4 334.4 1451.1 354.2 1452.7 337.1 1454.4 352.8 1456.1 349.0 1457.7 339.3 1459.4 344.0 1461.1 342.6 1462.8 337.6 1464.4 340.3 1466.1 329.7 1467.8 335.7 1469.4 349.0 1471.1 342.5 1472.8 346.4 1474.4 345.1 1476.1 326.9 1477.8 347.8 1479.4 330.6 1481.1 328.2 1482.8 317.6 1484.4 339.4 1486.1 336.4 1487.8 335.1 1489.4 339.4 1491.1 320.4 1492.8 317.5 1494.5 351.4 1496.1 333.8 1497.8 320.2 1499.5 337.8 1501.1 334.5 1502.8 328.4 1504.5 329.0 1506.1 331.0 1507.8 331.6 1509.5 316.5 1511.1 352.1 1512.8 338.4 1514.5 345.0 1516.1 334.8 1517.8 341.6 1519.5 334.9 1521.2 339.6 1522.8 321.2 1524.5 351.8 1526.2 345.2 1527.8 334.2 1529.5 344.8 1531.2 340.5 1532.8 354.6 1534.5 336.0" stroke="#30d030" stroke-width="1.05" stroke-opacity="0.85" fill="none" stroke-linejoin="round"/>
<path d="M935.5 324.7 937.2 317.5 938.8 313.2 940.5 313.9 942.2 339.9 943.8 329.4 945.5 334.8 947.2 330.1 948.8 324.6 950.5 304.7 952.2 327.2 953.9 323.4 955.5 321.3 957.2 306.1 958.9 322.6 960.5 313.0 962.2 309.2 963.9 310.9 965.5 332.9 967.2 327.1 968.9 310.9 970.5 332.8 972.2 321.0 973.9 333.6 975.5 319.2 977.2 325.1 978.9 340.1 980.6 331.1 982.2 339.8 983.9 336.9 985.6 322.6 987.2 331.5 988.9 331.5 990.6 321.6 992.2 333.9 993.9 323.8 995.6 331.6 997.2 332.8 998.9 338.1 1000.6 342.1 1002.2 343.8 1003.9 343.0 1005.6 330.7 1007.2 331.6 1008.9 342.2 1010.6 324.7 1012.3 340.5 1013.9 338.4 1015.6 346.7 1017.3 342.1 1018.9 327.7 1020.6 331.3 1022.3 340.4 1023.9 324.6 1025.6 335.6 1027.3 334.4 1028.9 326.1 1030.6 331.1 1032.3 337.8 1033.9 343.9 1035.6 324.1 1037.3 354.9 1038.9 340.2 1040.6 349.7 1042.3 340.0 1044.0 327.9 1045.6 337.8 1047.3 338.6 1049.0 335.4 1050.6 318.5 1052.3 323.4 1054.0 333.1 1055.6 340.4 1057.3 338.3 1059.0 332.1 1060.6 337.0 1062.3 336.0 1064.0 343.7 1065.6 346.4 1067.3 344.2 1069.0 333.0 1070.7 342.7 1072.3 313.6 1074.0 330.2 1075.7 329.3 1077.3 326.4 1079.0 343.5 1080.7 344.6 1082.3 336.6 1084.0 329.7 1085.7 330.0 1087.3 320.8 1089.0 322.8 1090.7 325.6 1092.3 324.8 1094.0 332.0 1095.7 327.0 1097.3 336.5 1099.0 337.6 1100.7 326.1 1102.4 347.8 1104.0 322.2 1105.7 318.3 1107.4 337.8 1109.0 327.4 1110.7 332.2 1112.4 341.8 1114.0 330.5 1115.7 329.1 1117.4 325.0 1119.0 336.2 1120.7 332.3 1122.4 338.5 1124.0 325.0 1125.7 334.2 1127.4 326.2 1129.0 339.0 1130.7 332.4 1132.4 340.9 1134.1 339.6 1135.7 324.1 1137.4 334.9 1139.1 334.1 1140.7 327.3 1142.4 340.2 1144.1 317.2 1145.7 339.9 1147.4 336.7 1149.1 315.2 1150.7 347.7 1152.4 318.7 1154.1 330.2 1155.7 329.1 1157.4 342.2 1159.1 332.0 1160.8 344.0 1162.4 325.1 1164.1 335.5 1165.8 338.9 1167.4 337.6 1169.1 334.8 1170.8 325.4 1172.4 330.5 1174.1 340.0 1175.8 340.9 1177.4 342.2 1179.1 327.0 1180.8 329.7 1182.4 342.9 1184.1 347.2 1185.8 334.2 1187.4 338.5 1189.1 329.4 1190.8 334.8 1192.5 330.7 1194.1 327.1 1195.8 325.1 1197.5 335.6 1199.1 327.9 1200.8 338.6 1202.5 343.9 1204.1 332.0 1205.8 323.9 1207.5 322.1 1209.1 334.4 1210.8 348.2 1212.5 331.3 1214.1 335.7 1215.8 328.8 1217.5 325.1 1219.1 337.6 1220.8 339.9 1222.5 337.3 1224.2 339.7 1225.8 342.3 1227.5 332.3 1229.2 340.2 1230.8 336.4 1232.5 336.9 1234.2 339.2 1235.8 329.1 1237.5 338.0 1239.2 334.9 1240.8 327.6 1242.5 335.4 1244.2 346.2 1244.3 345.5 1245.5 265.2 1245.8 338.1 1246.7 338.1 1247.5 338.1 1249.2 329.0 1250.9 320.5 1252.5 332.6 1254.2 335.3 1255.9 322.2 1257.5 340.0 1259.2 331.8 1260.9 330.3 1262.5 334.7 1264.2 335.8 1265.9 332.8 1267.5 321.8 1269.2 329.6 1270.9 339.2 1272.5 331.9 1274.2 326.4 1275.9 319.6 1277.5 327.7 1279.2 332.7 1280.9 322.9 1282.6 327.0 1284.2 333.1 1285.9 339.8 1287.6 333.6 1289.2 326.5 1290.9 343.1 1292.6 347.4 1294.2 330.1 1295.9 346.9 1297.6 345.0 1299.2 336.0 1300.9 336.3 1302.6 333.9 1304.2 333.0 1305.9 330.1 1307.6 335.3 1309.2 341.2 1310.9 357.7 1312.6 324.3 1314.3 328.0 1315.9 329.4 1317.6 334.7 1319.3 341.8 1320.9 330.6 1322.6 335.2 1324.3 345.7 1325.9 326.2 1327.6 346.3 1329.3 338.2 1330.9 320.2 1332.6 341.3 1334.3 333.2 1335.9 326.0 1337.6 334.6 1339.3 346.3 1341.0 338.7 1342.6 335.1 1344.3 347.0 1346.0 323.0 1347.6 332.1 1349.3 328.9 1351.0 332.6 1352.6 331.7 1354.3 337.7 1356.0 346.9 1357.6 329.3 1359.3 334.5 1361.0 321.9 1362.6 344.4 1364.3 333.5 1366.0 317.0 1367.6 345.9 1369.3 344.6 1371.0 333.0 1372.7 320.9 1374.3 344.7 1376.0 334.4 1377.7 336.4 1379.3 339.5 1381.0 337.0 1382.7 324.9 1384.3 333.8 1386.0 345.8 1387.7 340.1 1389.3 334.2 1391.0 346.6 1392.7 340.7 1394.3 338.4 1396.0 352.4 1397.7 319.8 1399.3 348.4 1401.0 334.6 1402.7 336.5 1404.4 340.1 1406.0 325.1 1407.7 334.6 1409.4 342.0 1411.0 325.4 1412.7 330.6 1414.4 343.6 1416.0 347.7 1417.7 327.8 1419.4 336.2 1421.0 347.2 1422.7 330.6 1424.4 347.0 1426.0 340.8 1427.7 341.9 1429.4 351.4 1431.1 329.4 1432.7 306.2 1434.4 329.8 1436.1 331.7 1437.7 337.2 1439.4 335.6 1441.1 332.8 1442.7 329.9 1444.4 339.2 1446.1 334.7 1447.7 336.7 1449.4 330.3 1451.1 327.1 1452.7 325.8 1454.4 338.5 1456.1 338.8 1457.7 329.1 1459.4 336.9 1461.1 336.5 1462.8 330.8 1464.4 331.5 1466.1 323.6 1467.8 344.6 1469.4 325.2 1471.1 338.3 1472.8 328.8 1474.4 344.9 1476.1 335.2 1477.8 339.0 1479.4 318.9 1481.1 341.0 1482.8 323.2 1484.4 338.6 1486.1 340.3 1487.8 327.5 1489.4 320.1 1491.1 328.0 1492.8 321.2 1494.5 322.9 1496.1 324.0 1497.8 311.0 1499.5 321.6 1501.1 313.9 1502.8 330.5 1504.5 322.8 1506.1 314.0 1507.8 326.5 1509.5 341.5 1511.1 318.9 1512.8 321.6 1514.5 330.1 1516.1 328.1 1517.8 332.9 1519.5 327.8 1521.2 322.7 1522.8 329.9 1524.5 333.7 1526.2 337.3 1527.8 334.9 1529.5 337.9 1531.2 325.8 1532.8 342.7 1534.5 338.8" stroke="#000000" stroke-width="1.05" stroke-opacity="0.85" fill="none" stroke-linejoin="round"/>
<path d="M935.5 325.6 937.2 320.4 938.8 331.8 940.5 316.9 942.2 321.8 943.8 323.0 945.5 319.7 947.2 315.8 948.8 316.9 950.5 328.2 952.2 306.9 953.9 316.7 955.5 313.2 957.2 314.9 958.9 321.6 960.5 310.8 962.2 315.5 963.9 318.8 965.5 310.7 967.2 305.8 968.9 307.7 970.5 312.1 972.2 320.0 973.9 319.3 975.5 319.6 977.2 332.2 978.9 316.1 980.6 324.0 982.2 337.0 983.9 315.7 985.6 313.1 987.2 340.2 988.9 331.5 990.6 337.2 992.2 324.3 993.9 341.9 995.6 326.7 997.2 327.6 998.9 321.7 1000.6 346.3 1002.2 337.1 1003.9 332.5 1005.6 323.0 1007.2 330.1 1008.9 324.7 1010.6 327.1 1012.3 338.2 1013.9 331.8 1015.6 334.1 1017.3 333.4 1018.9 338.3 1020.6 324.7 1022.3 328.4 1023.9 346.4 1025.6 324.9 1027.3 335.5 1028.9 343.0 1030.6 321.0 1032.3 331.1 1033.9 328.0 1035.6 332.0 1037.3 331.2 1038.9 345.7 1040.6 324.7 1042.3 336.9 1044.0 330.8 1045.6 331.6 1047.3 338.8 1049.0 341.2 1050.6 332.2 1052.3 320.5 1054.0 336.3 1055.6 335.8 1057.3 330.1 1059.0 335.7 1060.6 320.2 1062.3 327.1 1064.0 310.4 1065.6 329.1 1067.3 312.7 1069.0 335.7 1070.7 328.9 1072.3 339.5 1074.0 334.0 1075.7 333.3 1077.3 325.7 1079.0 319.6 1080.7 332.8 1082.3 342.5 1084.0 330.7 1085.7 332.1 1087.3 334.7 1089.0 323.6 1090.7 321.3 1092.3 336.3 1094.0 336.4 1095.7 351.8 1097.3 335.7 1099.0 323.6 1100.7 338.0 1102.4 323.0 1104.0 324.9 1105.7 325.4 1107.4 325.2 1109.0 331.0 1110.7 322.0 1112.4 321.6 1114.0 327.5 1115.7 330.6 1117.4 319.6 1119.0 318.0 1120.7 335.5 1122.4 323.4 1124.0 329.8 1125.7 311.0 1127.4 332.9 1129.0 335.3 1130.7 337.8 1132.4 322.7 1134.1 338.9 1135.7 324.9 1137.4 334.4 1139.1 319.2 1140.7 317.3 1142.4 320.8 1144.1 346.2 1145.7 342.2 1147.4 352.4 1149.1 308.5 1150.7 335.1 1152.4 333.6 1154.1 329.8 1155.7 325.2 1157.4 332.9 1159.1 329.7 1160.8 330.3 1162.4 340.9 1164.1 315.3 1165.8 315.9 1167.4 330.0 1169.1 331.3 1170.8 314.7 1172.4 310.0 1174.1 329.7 1175.8 325.2 1177.4 333.5 1179.1 327.4 1180.8 351.2 1182.4 348.6 1184.1 326.4 1185.8 331.7 1187.4 326.8 1189.1 329.4 1190.8 325.1 1192.5 327.9 1194.1 331.5 1195.8 326.6 1197.5 335.5 1199.1 318.4 1200.8 338.0 1202.5 333.3 1204.1 322.5 1205.8 333.0 1207.5 322.0 1209.1 317.9 1210.8 323.4 1212.5 333.5 1214.1 314.1 1215.8 326.1 1217.5 337.8 1219.1 313.2 1220.8 328.3 1222.5 324.7 1224.2 322.4 1225.8 334.1 1227.5 322.4 1229.2 340.1 1230.8 337.9 1232.5 333.0 1234.2 311.7 1235.8 324.8 1237.5 320.1 1239.2 333.3 1240.8 325.3 1242.5 347.2 1244.2 331.8 1244.3 331.3 1245.5 121.0 1245.8 326.1 1246.7 330.5 1247.5 334.4 1249.2 346.1 1250.9 343.2 1252.5 324.4 1254.2 318.6 1255.9 332.8 1257.5 316.5 1259.2 340.5 1260.9 324.6 1262.5 327.3 1264.2 321.1 1265.9 342.2 1267.5 321.5 1269.2 328.9 1270.9 337.0 1272.5 333.6 1274.2 331.7 1275.9 327.6 1277.5 337.0 1279.2 337.1 1280.9 329.2 1282.6 330.3 1284.2 325.9 1285.9 322.5 1287.6 345.4 1289.2 330.9 1290.9 328.2 1292.6 329.8 1294.2 339.1 1295.9 324.3 1297.6 316.0 1299.2 331.7 1300.9 336.9 1302.6 323.9 1304.2 330.2 1305.9 329.4 1307.6 328.5 1309.2 334.2 1310.9 330.5 1312.6 336.4 1314.3 346.7 1315.9 321.8 1317.6 328.0 1319.3 331.0 1320.9 319.2 1322.6 331.7 1324.3 321.1 1325.9 323.6 1327.6 332.9 1329.3 340.9 1330.9 326.5 1332.6 328.6 1334.3 322.1 1335.9 343.3 1337.6 331.5 1339.3 328.5 1341.0 327.6 1342.6 329.5 1344.3 327.9 1346.0 349.8 1347.6 333.1 1349.3 336.1 1351.0 343.3 1352.6 329.6 1354.3 333.8 1356.0 340.1 1357.6 342.1 1359.3 327.8 1361.0 351.6 1362.6 331.3 1364.3 339.8 1366.0 329.4 1367.6 314.6 1369.3 322.0 1371.0 331.0 1372.7 318.0 1374.3 314.8 1376.0 322.2 1377.7 315.0 1379.3 328.7 1381.0 325.1 1382.7 331.1 1384.3 333.6 1386.0 330.2 1387.7 336.9 1389.3 331.2 1391.0 312.0 1392.7 324.4 1394.3 332.0 1396.0 316.0 1397.7 318.3 1399.3 339.3 1401.0 336.2 1402.7 315.9 1404.4 329.6 1406.0 328.8 1407.7 334.8 1409.4 339.6 1411.0 320.8 1412.7 337.1 1414.4 325.8 1416.0 314.8 1417.7 325.9 1419.4 332.1 1421.0 325.1 1422.7 325.7 1424.4 334.2 1426.0 328.1 1427.7 340.5 1429.4 345.0 1431.1 335.0 1432.7 345.1 1434.4 335.7 1436.1 331.5 1437.7 328.9 1439.4 314.9 1441.1 338.2 1442.7 334.3 1444.4 334.4 1446.1 339.0 1447.7 313.5 1449.4 337.0 1451.1 332.5 1452.7 332.0 1454.4 310.1 1456.1 333.2 1457.7 337.0 1459.4 320.2 1461.1 336.1 1462.8 348.3 1464.4 321.1 1466.1 322.8 1467.8 342.6 1469.4 341.0 1471.1 330.9 1472.8 338.7 1474.4 343.3 1476.1 340.4 1477.8 315.1 1479.4 320.8 1481.1 338.5 1482.8 330.3 1484.4 327.5 1486.1 330.4 1487.8 326.8 1489.4 310.6 1491.1 329.5 1492.8 329.3 1494.5 321.8 1496.1 325.9 1497.8 322.9 1499.5 322.1 1501.1 326.3 1502.8 307.5 1504.5 323.6 1506.1 307.4 1507.8 326.7 1509.5 328.4 1511.1 319.8 1512.8 325.5 1514.5 317.5 1516.1 320.2 1517.8 307.4 1519.5 353.0 1521.2 337.6 1522.8 329.8 1524.5 331.7 1526.2 330.8 1527.8 308.6 1529.5 349.9 1531.2 325.1 1532.8 332.9 1534.5 330.9" stroke="#1a1ae0" stroke-width="1.05" stroke-opacity="0.85" fill="none" stroke-linejoin="round"/>
<path d="M935.5 321.7 937.2 316.4 938.8 327.8 940.5 325.5 942.2 316.2 943.8 317.7 945.5 314.8 947.2 299.3 948.8 309.2 950.5 305.5 952.2 310.7 953.9 314.2 955.5 318.7 957.2 326.4 958.9 321.7 960.5 328.4 962.2 317.7 963.9 321.1 965.5 315.9 967.2 308.4 968.9 312.2 970.5 302.6 972.2 303.8 973.9 304.5 975.5 307.6 977.2 314.6 978.9 323.1 980.6 317.2 982.2 324.7 983.9 325.8 985.6 321.8 987.2 334.8 988.9 339.6 990.6 323.9 992.2 312.2 993.9 317.7 995.6 296.1 997.2 338.4 998.9 332.2 1000.6 345.8 1002.2 334.0 1003.9 311.5 1005.6 313.8 1007.2 335.3 1008.9 329.6 1010.6 333.7 1012.3 338.0 1013.9 329.0 1015.6 329.7 1017.3 326.2 1018.9 324.8 1020.6 321.3 1022.3 315.7 1023.9 327.6 1025.6 328.7 1027.3 326.9 1028.9 323.3 1030.6 328.0 1032.3 335.0 1033.9 331.2 1035.6 320.9 1037.3 335.4 1038.9 320.3 1040.6 338.4 1042.3 322.0 1044.0 322.1 1045.6 328.7 1047.3 327.2 1049.0 328.9 1050.6 313.2 1052.3 330.5 1054.0 332.9 1055.6 323.9 1057.3 317.9 1059.0 324.2 1060.6 328.2 1062.3 318.6 1064.0 333.2 1065.6 333.3 1067.3 337.1 1069.0 317.1 1070.7 345.0 1072.3 337.5 1074.0 324.9 1075.7 323.6 1077.3 312.8 1079.0 323.5 1080.7 331.0 1082.3 315.7 1084.0 318.3 1085.7 317.5 1087.3 318.2 1089.0 322.8 1090.7 338.8 1092.3 335.6 1094.0 310.9 1095.7 326.6 1097.3 342.0 1099.0 326.5 1100.7 319.1 1102.4 323.7 1104.0 326.9 1105.7 345.9 1107.4 326.5 1109.0 328.1 1110.7 313.3 1112.4 326.9 1114.0 327.4 1115.7 330.6 1117.4 328.0 1119.0 324.8 1120.7 331.2 1122.4 334.2 1124.0 337.1 1125.7 326.0 1127.4 329.9 1129.0 329.6 1130.7 339.4 1132.4 333.6 1134.1 342.5 1135.7 319.2 1137.4 317.4 1139.1 323.7 1140.7 328.0 1142.4 323.2 1144.1 339.2 1145.7 337.9 1147.4 317.5 1149.1 335.5 1150.7 327.5 1152.4 332.5 1154.1 347.0 1155.7 332.6 1157.4 320.3 1159.1 316.4 1160.8 347.7 1162.4 339.9 1164.1 331.8 1165.8 318.9 1167.4 317.1 1169.1 314.1 1170.8 313.3 1172.4 330.5 1174.1 335.1 1175.8 319.5 1177.4 329.1 1179.1 326.8 1180.8 330.0 1182.4 330.3 1184.1 319.6 1185.8 335.3 1187.4 341.4 1189.1 332.8 1190.8 326.3 1192.5 329.6 1194.1 328.3 1195.8 343.4 1197.5 334.3 1199.1 318.3 1200.8 328.5 1202.5 332.7 1204.1 317.9 1205.8 331.8 1207.5 321.0 1209.1 325.4 1210.8 323.9 1212.5 318.7 1214.1 308.8 1215.8 316.8 1217.5 334.2 1219.1 336.4 1220.8 329.9 1222.5 328.7 1224.2 321.6 1225.8 327.0 1227.5 325.6 1229.2 341.3 1230.8 327.7 1232.5 323.0 1234.2 313.3 1235.8 320.8 1237.5 326.5 1239.2 337.0 1240.8 327.4 1242.5 327.3 1244.2 328.5 1244.3 328.3 1245.5 200.1 1245.8 326.0 1246.7 324.5 1247.5 323.2 1249.2 323.7 1250.9 309.0 1252.5 335.4 1254.2 340.2 1255.9 324.1 1257.5 337.5 1259.2 329.1 1260.9 328.0 1262.5 334.0 1264.2 320.9 1265.9 322.1 1267.5 326.2 1269.2 322.4 1270.9 320.3 1272.5 329.9 1274.2 322.5 1275.9 326.3 1277.5 327.4 1279.2 331.2 1280.9 313.1 1282.6 324.7 1284.2 339.1 1285.9 323.4 1287.6 348.4 1289.2 325.2 1290.9 321.2 1292.6 315.8 1294.2 325.8 1295.9 333.2 1297.6 311.5 1299.2 319.0 1300.9 316.8 1302.6 329.5 1304.2 322.3 1305.9 342.0 1307.6 323.6 1309.2 344.8 1310.9 335.9 1312.6 339.6 1314.3 318.1 1315.9 319.9 1317.6 332.3 1319.3 317.3 1320.9 326.9 1322.6 343.8 1324.3 330.7 1325.9 341.7 1327.6 326.9 1329.3 324.6 1330.9 333.6 1332.6 320.9 1334.3 318.9 1335.9 334.9 1337.6 322.8 1339.3 328.3 1341.0 329.8 1342.6 313.6 1344.3 333.3 1346.0 330.4 1347.6 328.0 1349.3 322.8 1351.0 321.1 1352.6 335.2 1354.3 316.2 1356.0 312.4 1357.6 310.9 1359.3 326.1 1361.0 331.6 1362.6 336.3 1364.3 324.6 1366.0 328.1 1367.6 327.9 1369.3 332.6 1371.0 345.7 1372.7 329.8 1374.3 328.9 1376.0 330.5 1377.7 339.1 1379.3 329.7 1381.0 328.7 1382.7 336.7 1384.3 322.1 1386.0 327.7 1387.7 326.3 1389.3 324.1 1391.0 329.5 1392.7 328.0 1394.3 323.0 1396.0 321.1 1397.7 320.0 1399.3 328.9 1401.0 321.0 1402.7 317.9 1404.4 338.9 1406.0 330.7 1407.7 327.6 1409.4 327.3 1411.0 312.5 1412.7 317.5 1414.4 328.4 1416.0 328.3 1417.7 338.8 1419.4 335.4 1421.0 316.2 1422.7 341.5 1424.4 322.1 1426.0 333.1 1427.7 329.8 1429.4 328.1 1431.1 312.1 1432.7 324.4 1434.4 323.0 1436.1 318.8 1437.7 345.5 1439.4 311.8 1441.1 341.0 1442.7 333.1 1444.4 321.5 1446.1 337.3 1447.7 341.6 1449.4 317.5 1451.1 329.7 1452.7 319.4 1454.4 323.1 1456.1 328.7 1457.7 313.1 1459.4 329.2 1461.1 310.4 1462.8 334.4 1464.4 335.3 1466.1 332.7 1467.8 325.1 1469.4 336.4 1471.1 332.7 1472.8 315.0 1474.4 325.2 1476.1 317.1 1477.8 323.4 1479.4 330.9 1481.1 332.0 1482.8 323.6 1484.4 323.9 1486.1 327.9 1487.8 327.2 1489.4 309.5 1491.1 311.5 1492.8 316.3 1494.5 320.2 1496.1 319.6 1497.8 298.6 1499.5 319.2 1501.1 294.7 1502.8 319.1 1504.5 326.1 1506.1 297.8 1507.8 316.3 1509.5 303.9 1511.1 314.2 1512.8 321.1 1514.5 312.7 1516.1 324.2 1517.8 319.3 1519.5 325.0 1521.2 339.2 1522.8 322.1 1524.5 330.2 1526.2 327.4 1527.8 323.1 1529.5 338.3 1531.2 322.3 1532.8 322.1 1534.5 311.0" stroke="#e02020" stroke-width="1.05" stroke-opacity="0.85" fill="none" stroke-linejoin="round"/>
<path d="M935.5 315.0 937.2 312.9 938.8 316.0 940.5 298.7 942.2 302.0 943.8 322.8 945.5 296.9 947.2 311.0 948.8 310.5 950.5 311.1 952.2 301.7 953.9 302.2 955.5 311.4 957.2 305.6 958.9 315.8 960.5 288.8 962.2 310.4 963.9 310.3 965.5 308.7 967.2 301.9 968.9 297.5 970.5 307.7 972.2 305.8 973.9 310.5 975.5 298.8 977.2 309.7 978.9 327.7 980.6 303.5 982.2 314.7 983.9 303.0 985.6 325.0 987.2 324.7 988.9 322.5 990.6 333.0 992.2 324.6 993.9 311.2 995.6 315.9 997.2 341.6 998.9 311.1 1000.6 318.8 1002.2 315.0 1003.9 321.4 1005.6 320.2 1007.2 321.3 1008.9 321.3 1010.6 330.3 1012.3 313.1 1013.9 319.9 1015.6 318.6 1017.3 318.9 1018.9 324.3 1020.6 322.2 1022.3 332.8 1023.9 319.6 1025.6 319.4 1027.3 323.7 1028.9 335.9 1030.6 310.7 1032.3 323.2 1033.9 321.9 1035.6 324.3 1037.3 326.7 1038.9 325.1 1040.6 330.9 1042.3 326.6 1044.0 304.7 1045.6 312.0 1047.3 305.2 1049.0 326.9 1050.6 337.4 1052.3 333.0 1054.0 343.5 1055.6 312.8 1057.3 311.6 1059.0 320.8 1060.6 318.6 1062.3 318.7 1064.0 322.7 1065.6 315.7 1067.3 330.1 1069.0 325.4 1070.7 323.0 1072.3 335.8 1074.0 330.1 1075.7 318.1 1077.3 318.9 1079.0 342.1 1080.7 314.2 1082.3 318.8 1084.0 315.4 1085.7 322.3 1087.3 316.9 1089.0 332.4 1090.7 323.5 1092.3 330.5 1094.0 326.0 1095.7 312.0 1097.3 308.3 1099.0 321.5 1100.7 325.4 1102.4 315.3 1104.0 317.9 1105.7 305.9 1107.4 316.5 1109.0 341.1 1110.7 321.2 1112.4 324.4 1114.0 328.4 1115.7 320.6 1117.4 321.3 1119.0 324.7 1120.7 309.3 1122.4 318.7 1124.0 318.4 1125.7 320.4 1127.4 311.7 1129.0 330.9 1130.7 311.8 1132.4 323.7 1134.1 309.5 1135.7 310.0 1137.4 317.6 1139.1 325.5 1140.7 319.4 1142.4 318.8 1144.1 333.8 1145.7 324.4 1147.4 327.5 1149.1 310.4 1150.7 307.7 1152.4 327.7 1154.1 326.1 1155.7 332.6 1157.4 319.6 1159.1 315.1 1160.8 307.0 1162.4 332.3 1164.1 314.1 1165.8 323.0 1167.4 327.7 1169.1 324.6 1170.8 328.1 1172.4 318.1 1174.1 321.8 1175.8 312.0 1177.4 326.1 1179.1 337.2 1180.8 329.9 1182.4 319.0 1184.1 333.9 1185.8 328.0 1187.4 317.4 1189.1 333.1 1190.8 314.9 1192.5 319.0 1194.1 326.6 1195.8 322.2 1197.5 325.9 1199.1 325.1 1200.8 324.5 1202.5 321.7 1204.1 322.6 1205.8 328.0 1207.5 329.9 1209.1 304.8 1210.8 330.9 1212.5 323.1 1214.1 312.0 1215.8 313.7 1217.5 327.8 1219.1 305.3 1220.8 307.3 1222.5 324.4 1224.2 332.0 1225.8 316.7 1227.5 323.3 1229.2 324.3 1230.8 328.5 1232.5 326.8 1234.2 320.5 1235.8 314.4 1237.5 338.9 1239.2 341.4 1240.8 313.9 1242.5 328.8 1244.2 316.2 1244.3 316.6 1245.5 178.2 1245.8 321.0 1246.7 316.0 1247.5 311.6 1249.2 314.4 1250.9 324.1 1252.5 323.2 1254.2 319.2 1255.9 315.7 1257.5 327.0 1259.2 334.3 1260.9 321.0 1262.5 322.2 1264.2 323.1 1265.9 330.1 1267.5 316.9 1269.2 336.1 1270.9 325.8 1272.5 311.2 1274.2 331.0 1275.9 318.4 1277.5 318.1 1279.2 318.3 1280.9 335.6 1282.6 313.5 1284.2 320.6 1285.9 317.8 1287.6 319.3 1289.2 321.3 1290.9 311.8 1292.6 310.0 1294.2 337.1 1295.9 328.2 1297.6 323.2 1299.2 339.7 1300.9 309.7 1302.6 328.2 1304.2 317.2 1305.9 320.0 1307.6 323.6 1309.2 330.1 1310.9 324.8 1312.6 321.0 1314.3 315.3 1315.9 323.5 1317.6 325.0 1319.3 323.8 1320.9 311.0 1322.6 319.4 1324.3 327.3 1325.9 332.1 1327.6 325.1 1329.3 329.3 1330.9 325.2 1332.6 310.6 1334.3 316.1 1335.9 319.9 1337.6 318.4 1339.3 307.6 1341.0 331.1 1342.6 318.1 1344.3 323.4 1346.0 320.6 1347.6 321.2 1349.3 324.4 1351.0 317.3 1352.6 339.6 1354.3 319.4 1356.0 316.2 1357.6 329.6 1359.3 329.8 1361.0 306.0 1362.6 329.1 1364.3 324.9 1366.0 328.1 1367.6 326.8 1369.3 327.3 1371.0 339.1 1372.7 302.2 1374.3 327.7 1376.0 318.6 1377.7 322.4 1379.3 310.7 1381.0 316.1 1382.7 312.5 1384.3 312.2 1386.0 314.9 1387.7 321.5 1389.3 314.3 1391.0 334.9 1392.7 314.5 1394.3 316.0 1396.0 319.3 1397.7 332.7 1399.3 310.8 1401.0 327.3 1402.7 316.6 1404.4 337.0 1406.0 323.3 1407.7 327.1 1409.4 328.2 1411.0 327.3 1412.7 307.2 1414.4 322.1 1416.0 319.0 1417.7 304.3 1419.4 333.6 1421.0 309.2 1422.7 324.9 1424.4 327.0 1426.0 325.2 1427.7 336.7 1429.4 334.4 1431.1 331.1 1432.7 326.4 1434.4 316.0 1436.1 312.9 1437.7 324.9 1439.4 318.8 1441.1 318.3 1442.7 323.7 1444.4 320.0 1446.1 326.7 1447.7 317.3 1449.4 323.7 1451.1 321.5 1452.7 319.8 1454.4 320.7 1456.1 327.7 1457.7 332.9 1459.4 322.4 1461.1 326.5 1462.8 326.2 1464.4 322.7 1466.1 327.7 1467.8 318.2 1469.4 318.5 1471.1 329.2 1472.8 318.7 1474.4 329.5 1476.1 315.6 1477.8 316.2 1479.4 321.1 1481.1 313.3 1482.8 311.7 1484.4 315.8 1486.1 333.6 1487.8 316.5 1489.4 314.8 1491.1 308.5 1492.8 321.9 1494.5 306.6 1496.1 308.3 1497.8 306.8 1499.5 319.5 1501.1 315.9 1502.8 299.4 1504.5 302.1 1506.1 310.2 1507.8 301.5 1509.5 309.4 1511.1 316.3 1512.8 327.2 1514.5 307.2 1516.1 318.0 1517.8 316.0 1519.5 333.7 1521.2 324.2 1522.8 317.9 1524.5 322.9 1526.2 327.3 1527.8 330.6 1529.5 320.0 1531.2 324.8 1532.8 324.7 1534.5 324.3" stroke="#30d030" stroke-width="1.05" stroke-opacity="0.85" fill="none" stroke-linejoin="round"/>
<path d="M935.5 281.6 937.2 303.6 938.8 307.6 940.5 310.7 942.2 295.5 943.8 301.5 945.5 308.1 947.2 308.5 948.8 300.9 950.5 308.9 952.2 282.4 953.9 300.5 955.5 299.4 957.2 297.7 958.9 310.9 960.5 307.0 962.2 297.2 963.9 294.0 965.5 304.0 967.2 279.9 968.9 290.8 970.5 284.9 972.2 287.2 973.9 300.4 975.5 280.2 977.2 301.4 978.9 320.2 980.6 326.0 982.2 308.4 983.9 302.6 985.6 310.3 987.2 297.2 988.9 314.5 990.6 307.6 992.2 306.4 993.9 321.1 995.6 310.1 997.2 309.6 998.9 303.6 1000.6 302.7 1002.2 304.5 1003.9 319.0 1005.6 306.6 1007.2 303.8 1008.9 312.4 1010.6 306.5 1012.3 306.4 1013.9 302.9 1015.6 312.1 1017.3 308.8 1018.9 311.1 1020.6 312.2 1022.3 317.9 1023.9 315.5 1025.6 322.1 1027.3 314.4 1028.9 307.1 1030.6 307.7 1032.3 306.6 1033.9 313.7 1035.6 301.3 1037.3 316.6 1038.9 306.5 1040.6 309.4 1042.3 319.0 1044.0 318.6 1045.6 306.6 1047.3 312.5 1049.0 310.6 1050.6 287.4 1052.3 308.1 1054.0 311.8 1055.6 306.7 1057.3 317.8 1059.0 314.2 1060.6 309.1 1062.3 319.5 1064.0 313.0 1065.6 314.3 1067.3 311.9 1069.0 327.4 1070.7 298.1 1072.3 313.5 1074.0 308.2 1075.7 321.3 1077.3 323.5 1079.0 312.5 1080.7 315.4 1082.3 307.4 1084.0 320.4 1085.7 320.9 1087.3 310.0 1089.0 307.0 1090.7 305.1 1092.3 313.0 1094.0 310.6 1095.7 319.3 1097.3 301.9 1099.0 303.3 1100.7 303.6 1102.4 326.0 1104.0 305.5 1105.7 318.8 1107.4 308.7 1109.0 309.2 1110.7 302.7 1112.4 314.4 1114.0 315.6 1115.7 321.1 1117.4 322.6 1119.0 308.0 1120.7 320.3 1122.4 307.3 1124.0 316.0 1125.7 317.5 1127.4 304.9 1129.0 305.8 1130.7 321.0 1132.4 314.3 1134.1 313.0 1135.7 307.4 1137.4 319.0 1139.1 316.4 1140.7 313.9 1142.4 307.2 1144.1 305.6 1145.7 317.4 1147.4 298.5 1149.1 309.4 1150.7 319.5 1152.4 325.7 1154.1 317.1 1155.7 332.6 1157.4 311.4 1159.1 308.4 1160.8 302.5 1162.4 308.9 1164.1 327.1 1165.8 315.3 1167.4 307.2 1169.1 330.9 1170.8 319.8 1172.4 307.8 1174.1 312.5 1175.8 329.6 1177.4 317.2 1179.1 312.8 1180.8 295.9 1182.4 316.6 1184.1 320.5 1185.8 311.0 1187.4 310.2 1189.1 308.3 1190.8 301.1 1192.5 313.5 1194.1 324.3 1195.8 312.6 1197.5 312.8 1199.1 305.0 1200.8 306.0 1202.5 319.0 1204.1 306.6 1205.8 304.7 1207.5 314.5 1209.1 305.1 1210.8 311.6 1212.5 311.5 1214.1 314.2 1215.8 306.3 1217.5 289.2 1219.1 311.1 1220.8 322.5 1222.5 314.8 1224.2 317.7 1225.8 310.3 1227.5 314.1 1229.2 292.0 1230.8 306.8 1232.5 297.6 1234.2 318.8 1235.8 314.7 1237.5 296.0 1239.2 326.8 1240.8 311.8 1242.5 325.7 1244.2 300.3 1244.3 302.5 1245.5 247.7 1245.8 324.6 1246.7 319.8 1247.5 315.5 1249.2 314.4 1250.9 326.9 1252.5 292.6 1254.2 314.4 1255.9 299.4 1257.5 318.7 1259.2 325.1 1260.9 311.2 1262.5 311.4 1264.2 288.9 1265.9 321.7 1267.5 325.9 1269.2 318.8 1270.9 310.5 1272.5 308.4 1274.2 319.2 1275.9 315.9 1277.5 308.5 1279.2 304.0 1280.9 318.0 1282.6 312.0 1284.2 335.9 1285.9 321.1 1287.6 309.5 1289.2 313.2 1290.9 314.6 1292.6 299.8 1294.2 315.5 1295.9 322.1 1297.6 311.3 1299.2 311.4 1300.9 322.5 1302.6 304.8 1304.2 299.0 1305.9 318.0 1307.6 320.3 1309.2 313.8 1310.9 302.8 1312.6 317.7 1314.3 319.1 1315.9 318.0 1317.6 311.1 1319.3 311.3 1320.9 314.5 1322.6 303.1 1324.3 294.5 1325.9 317.8 1327.6 304.5 1329.3 310.8 1330.9 288.3 1332.6 320.3 1334.3 315.9 1335.9 312.2 1337.6 324.8 1339.3 314.8 1341.0 307.2 1342.6 325.0 1344.3 312.0 1346.0 298.3 1347.6 318.0 1349.3 320.5 1351.0 334.0 1352.6 314.0 1354.3 326.5 1356.0 308.5 1357.6 299.5 1359.3 308.5 1361.0 319.6 1362.6 307.7 1364.3 317.0 1366.0 322.4 1367.6 317.2 1369.3 311.1 1371.0 316.1 1372.7 308.7 1374.3 295.4 1376.0 308.0 1377.7 306.8 1379.3 318.6 1381.0 302.1 1382.7 310.2 1384.3 304.8 1386.0 319.5 1387.7 311.2 1389.3 332.6 1391.0 316.1 1392.7 320.1 1394.3 321.5 1396.0 298.8 1397.7 325.8 1399.3 314.4 1401.0 314.3 1402.7 308.8 1404.4 304.8 1406.0 326.4 1407.7 317.7 1409.4 319.0 1411.0 307.4 1412.7 305.5 1414.4 316.6 1416.0 317.7 1417.7 321.6 1419.4 310.2 1421.0 299.5 1422.7 310.1 1424.4 319.1 1426.0 320.1 1427.7 319.1 1429.4 326.9 1431.1 298.9 1432.7 312.7 1434.4 316.0 1436.1 294.8 1437.7 311.5 1439.4 301.0 1441.1 311.0 1442.7 304.2 1444.4 312.7 1446.1 316.3 1447.7 309.9 1449.4 307.4 1451.1 304.3 1452.7 311.6 1454.4 315.4 1456.1 316.4 1457.7 310.8 1459.4 317.3 1461.1 316.0 1462.8 308.8 1464.4 308.5 1466.1 309.1 1467.8 319.5 1469.4 325.2 1471.1 311.0 1472.8 312.2 1474.4 316.2 1476.1 311.2 1477.8 305.7 1479.4 314.1 1481.1 308.8 1482.8 319.6 1484.4 312.7 1486.1 316.9 1487.8 320.9 1489.4 304.2 1491.1 330.0 1492.8 305.7 1494.5 297.4 1496.1 299.3 1497.8 314.3 1499.5 298.7 1501.1 315.3 1502.8 307.4 1504.5 288.5 1506.1 299.6 1507.8 292.1 1509.5 312.0 1511.1 321.4 1512.8 311.8 1514.5 296.4 1516.1 300.6 1517.8 300.5 1519.5 311.5 1521.2 311.8 1522.8 313.4 1524.5 288.3 1526.2 311.9 1527.8 298.2 1529.5 314.5 1531.2 301.7 1532.8 322.2 1534.5 317.4" stroke="#000000" stroke-width="1.05" stroke-opacity="0.85" fill="none" stroke-linejoin="round"/>
<path d="M935.5 302.5 937.2 295.8 938.8 290.1 940.5 298.5 942.2 300.1 943.8 296.0 945.5 295.1 947.2 298.0 948.8 289.4 950.5 284.9 952.2 284.7 953.9 284.3 955.5 279.1 957.2 299.2 958.9 287.9 960.5 284.4 962.2 280.9 963.9 298.1 965.5 269.2 967.2 292.3 968.9 283.4 970.5 280.5 972.2 279.0 973.9 295.2 975.5 295.9 977.2 290.4 978.9 290.8 980.6 290.1 982.2 299.9 983.9 306.6 985.6 312.9 987.2 288.2 988.9 314.4 990.6 297.5 992.2 301.2 993.9 297.3 995.6 295.8 997.2 292.5 998.9 304.2 1000.6 300.4 1002.2 319.9 1003.9 303.3 1005.6 311.2 1007.2 305.0 1008.9 293.5 1010.6 302.8 1012.3 294.7 1013.9 305.4 1015.6 300.4 1017.3 307.1 1018.9 324.7 1020.6 309.6 1022.3 305.9 1023.9 302.4 1025.6 303.7 1027.3 304.7 1028.9 295.9 1030.6 298.5 1032.3 307.0 1033.9 296.5 1035.6 320.1 1037.3 306.0 1038.9 304.9 1040.6 292.9 1042.3 308.1 1044.0 315.8 1045.6 302.2 1047.3 289.7 1049.0 305.4 1050.6 304.5 1052.3 305.4 1054.0 303.2 1055.6 292.9 1057.3 287.4 1059.0 299.8 1060.6 304.5 1062.3 288.3 1064.0 302.8 1065.6 303.1 1067.3 306.6 1069.0 306.2 1070.7 301.6 1072.3 306.0 1074.0 300.2 1075.7 302.9 1077.3 299.0 1079.0 306.8 1080.7 305.3 1082.3 301.6 1084.0 303.0 1085.7 302.8 1087.3 293.9 1089.0 312.5 1090.7 319.6 1092.3 297.6 1094.0 305.6 1095.7 292.5 1097.3 304.3 1099.0 313.3 1100.7 285.5 1102.4 300.3 1104.0 307.3 1105.7 309.8 1107.4 299.0 1109.0 309.2 1110.7 300.4 1112.4 294.0 1114.0 315.1 1115.7 306.6 1117.4 299.7 1119.0 289.9 1120.7 296.0 1122.4 307.4 1124.0 291.6 1125.7 306.6 1127.4 305.0 1129.0 300.5 1130.7 312.7 1132.4 278.3 1134.1 293.8 1135.7 301.8 1137.4 308.4 1139.1 313.2 1140.7 300.6 1142.4 297.9 1144.1 307.0 1145.7 305.3 1147.4 299.1 1149.1 304.2 1150.7 319.0 1152.4 298.2 1154.1 301.7 1155.7 297.6 1157.4 309.9 1159.1 321.2 1160.8 314.0 1162.4 301.2 1164.1 286.5 1165.8 284.3 1167.4 301.2 1169.1 315.7 1170.8 306.5 1172.4 300.0 1174.1 300.1 1175.8 302.9 1177.4 292.6 1179.1 311.1 1180.8 321.6 1182.4 310.9 1184.1 313.3 1185.8 285.3 1187.4 305.2 1189.1 315.5 1190.8 298.6 1192.5 295.4 1194.1 303.3 1195.8 302.1 1197.5 295.2 1199.1 299.5 1200.8 309.5 1202.5 298.8 1204.1 296.0 1205.8 300.9 1207.5 296.5 1209.1 298.9 1210.8 305.7 1212.5 304.9 1214.1 298.6 1215.8 308.3 1217.5 294.2 1219.1 293.6 1220.8 320.5 1222.5 304.3 1224.2 309.9 1225.8 309.0 1227.5 302.5 1229.2 305.1 1230.8 299.1 1232.5 301.1 1234.2 300.7 1235.8 310.2 1237.5 306.6 1239.2 291.7 1240.8 324.2 1242.5 289.5 1244.2 308.4 1244.3 307.0 1245.5 121.0 1245.8 294.0 1246.7 310.5 1247.5 325.2 1249.2 307.2 1250.9 296.7 1252.5 302.5 1254.2 295.3 1255.9 311.0 1257.5 308.4 1259.2 309.1 1260.9 299.5 1262.5 299.9 1264.2 304.7 1265.9 305.9 1267.5 306.1 1269.2 303.0 1270.9 311.6 1272.5 304.2 1274.2 304.9 1275.9 308.2 1277.5 308.4 1279.2 291.5 1280.9 308.8 1282.6 300.3 1284.2 292.4 1285.9 297.6 1287.6 303.6 1289.2 295.4 1290.9 315.5 1292.6 313.9 1294.2 307.0 1295.9 305.6 1297.6 304.5 1299.2 288.2 1300.9 289.8 1302.6 304.0 1304.2 301.6 1305.9 311.2 1307.6 301.1 1309.2 314.8 1310.9 292.2 1312.6 308.0 1314.3 299.1 1315.9 314.5 1317.6 292.2 1319.3 298.7 1320.9 287.6 1322.6 303.2 1324.3 317.1 1325.9 310.2 1327.6 314.1 1329.3 290.7 1330.9 308.9 1332.6 310.0 1334.3 298.8 1335.9 301.5 1337.6 299.7 1339.3 307.9 1341.0 320.2 1342.6 315.0 1344.3 321.9 1346.0 293.2 1347.6 296.2 1349.3 306.8 1351.0 298.6 1352.6 298.2 1354.3 298.5 1356.0 299.3 1357.6 296.4 1359.3 303.1 1361.0 322.1 1362.6 326.6 1364.3 293.3 1366.0 298.8 1367.6 324.5 1369.3 302.3 1371.0 311.0 1372.7 308.3 1374.3 325.2 1376.0 297.4 1377.7 304.4 1379.3 297.0 1381.0 294.7 1382.7 293.1 1384.3 290.1 1386.0 301.3 1387.7 301.9 1389.3 309.0 1391.0 299.4 1392.7 305.7 1394.3 313.5 1396.0 293.8 1397.7 297.8 1399.3 325.9 1401.0 319.1 1402.7 305.5 1404.4 314.8 1406.0 293.5 1407.7 302.2 1409.4 299.0 1411.0 295.9 1412.7 292.5 1414.4 305.9 1416.0 298.4 1417.7 301.5 1419.4 297.0 1421.0 299.0 1422.7 291.8 1424.4 299.1 1426.0 307.6 1427.7 302.6 1429.4 313.0 1431.1 300.9 1432.7 291.0 1434.4 308.6 1436.1 317.3 1437.7 304.3 1439.4 307.8 1441.1 303.6 1442.7 308.5 1444.4 302.9 1446.1 312.1 1447.7 290.7 1449.4 305.5 1451.1 299.3 1452.7 297.3 1454.4 304.9 1456.1 299.8 1457.7 305.6 1459.4 307.3 1461.1 305.4 1462.8 299.5 1464.4 314.1 1466.1 311.1 1467.8 310.2 1469.4 308.2 1471.1 293.9 1472.8 303.7 1474.4 305.9 1476.1 302.0 1477.8 294.2 1479.4 308.9 1481.1 293.8 1482.8 321.1 1484.4 308.4 1486.1 288.0 1487.8 286.3 1489.4 296.4 1491.1 300.2 1492.8 288.5 1494.5 297.4 1496.1 279.9 1497.8 281.8 1499.5 284.4 1501.1 297.3 1502.8 282.1 1504.5 292.4 1506.1 292.9 1507.8 295.4 1509.5 294.0 1511.1 290.1 1512.8 288.6 1514.5 289.9 1516.1 270.0 1517.8 302.1 1519.5 290.6 1521.2 306.5 1522.8 303.2 1524.5 311.8 1526.2 292.4 1527.8 300.6 1529.5 301.8 1531.2 304.0 1532.8 295.4 1534.5 307.2" stroke="#1a1ae0" stroke-width="1.05" stroke-opacity="0.85" fill="none" stroke-linejoin="round"/>
<path d="M935.5 285.5 937.2 293.5 938.8 292.2 940.5 289.7 942.2 302.3 943.8 297.4 945.5 304.6 947.2 290.8 948.8 272.1 950.5 283.8 952.2 296.3 953.9 294.1 955.5 279.2 957.2 290.2 958.9 298.5 960.5 292.7 962.2 292.3 963.9 291.6 965.5 277.4 967.2 282.7 968.9 296.3 970.5 289.4 972.2 295.7 973.9 297.9 975.5 302.2 977.2 277.4 978.9 296.5 980.6 291.2 982.2 290.6 983.9 302.4 985.6 295.8 987.2 296.5 988.9 299.5 990.6 283.7 992.2 299.5 993.9 303.8 995.6 296.7 997.2 287.3 998.9 293.8 1000.6 306.0 1002.2 309.2 1003.9 309.8 1005.6 307.5 1007.2 298.9 1008.9 295.1 1010.6 320.8 1012.3 302.2 1013.9 311.2 1015.6 296.4 1017.3 294.5 1018.9 308.5 1020.6 305.8 1022.3 309.9 1023.9 298.8 1025.6 315.4 1027.3 311.4 1028.9 307.7 1030.6 291.9 1032.3 282.2 1033.9 301.9 1035.6 312.2 1037.3 301.5 1038.9 309.2 1040.6 298.3 1042.3 311.3 1044.0 305.1 1045.6 302.2 1047.3 297.8 1049.0 302.7 1050.6 291.6 1052.3 301.0 1054.0 317.1 1055.6 294.4 1057.3 304.5 1059.0 307.6 1060.6 289.6 1062.3 310.3 1064.0 301.5 1065.6 308.0 1067.3 290.9 1069.0 305.1 1070.7 300.1 1072.3 313.6 1074.0 290.2 1075.7 310.9 1077.3 294.6 1079.0 292.9 1080.7 291.9 1082.3 287.1 1084.0 311.7 1085.7 298.8 1087.3 300.9 1089.0 298.6 1090.7 293.0 1092.3 301.2 1094.0 308.8 1095.7 302.9 1097.3 289.4 1099.0 311.8 1100.7 301.4 1102.4 310.2 1104.0 292.9 1105.7 315.7 1107.4 304.9 1109.0 303.1 1110.7 301.1 1112.4 282.6 1114.0 289.2 1115.7 310.6 1117.4 284.2 1119.0 311.9 1120.7 317.5 1122.4 314.4 1124.0 300.4 1125.7 297.7 1127.4 320.3 1129.0 298.5 1130.7 304.3 1132.4 296.2 1134.1 305.2 1135.7 294.6 1137.4 297.4 1139.1 311.8 1140.7 290.1 1142.4 300.3 1144.1 296.0 1145.7 291.6 1147.4 310.1 1149.1 302.8 1150.7 308.9 1152.4 309.9 1154.1 299.9 1155.7 299.3 1157.4 291.1 1159.1 290.6 1160.8 302.2 1162.4 309.0 1164.1 275.6 1165.8 284.3 1167.4 303.0 1169.1 309.8 1170.8 305.6 1172.4 299.7 1174.1 292.7 1175.8 294.1 1177.4 298.5 1179.1 304.1 1180.8 300.7 1182.4 304.6 1184.1 301.5 1185.8 302.9 1187.4 297.7 1189.1 317.6 1190.8 304.9 1192.5 304.5 1194.1 311.4 1195.8 303.5 1197.5 310.8 1199.1 307.6 1200.8 304.5 1202.5 304.2 1204.1 306.8 1205.8 293.0 1207.5 300.4 1209.1 299.4 1210.8 300.1 1212.5 307.6 1214.1 309.4 1215.8 295.1 1217.5 305.0 1219.1 316.7 1220.8 320.2 1222.5 300.2 1224.2 308.2 1225.8 302.6 1227.5 306.6 1229.2 305.4 1230.8 303.5 1232.5 312.4 1234.2 302.2 1235.8 293.9 1237.5 296.3 1239.2 316.4 1240.8 313.2 1242.5 313.1 1244.2 304.1 1244.3 303.3 1245.5 207.2 1245.8 295.0 1246.7 297.3 1247.5 299.4 1249.2 316.6 1250.9 301.6 1252.5 295.4 1254.2 305.8 1255.9 286.3 1257.5 307.5 1259.2 292.4 1260.9 282.6 1262.5 312.6 1264.2 304.7 1265.9 297.3 1267.5 275.5 1269.2 316.8 1270.9 297.4 1272.5 299.7 1274.2 305.6 1275.9 309.0 1277.5 306.4 1279.2 304.6 1280.9 312.6 1282.6 289.1 1284.2 311.2 1285.9 305.6 1287.6 307.5 1289.2 305.5 1290.9 301.3 1292.6 308.3 1294.2 304.0 1295.9 287.8 1297.6 293.3 1299.2 304.4 1300.9 294.6 1302.6 308.4 1304.2 300.2 1305.9 313.9 1307.6 311.5 1309.2 309.2 1310.9 291.8 1312.6 300.2 1314.3 297.5 1315.9 300.8 1317.6 299.0 1319.3 298.6 1320.9 295.7 1322.6 300.7 1324.3 309.6 1325.9 308.6 1327.6 292.0 1329.3 290.4 1330.9 297.5 1332.6 315.7 1334.3 289.1 1335.9 299.4 1337.6 302.7 1339.3 301.9 1341.0 305.1 1342.6 287.5 1344.3 288.2 1346.0 310.9 1347.6 303.6 1349.3 299.6 1351.0 291.5 1352.6 322.1 1354.3 294.4 1356.0 288.3 1357.6 304.8 1359.3 302.5 1361.0 291.8 1362.6 299.0 1364.3 313.2 1366.0 311.8 1367.6 310.7 1369.3 313.9 1371.0 302.2 1372.7 306.5 1374.3 301.8 1376.0 296.3 1377.7 287.4 1379.3 300.4 1381.0 317.6 1382.7 290.7 1384.3 303.2 1386.0 292.6 1387.7 305.9 1389.3 299.7 1391.0 303.3 1392.7 302.4 1394.3 291.6 1396.0 307.6 1397.7 300.9 1399.3 300.4 1401.0 305.4 1402.7 320.4 1404.4 299.3 1406.0 325.7 1407.7 314.7 1409.4 306.0 1411.0 298.7 1412.7 295.1 1414.4 295.4 1416.0 297.3 1417.7 305.2 1419.4 292.2 1421.0 304.4 1422.7 292.9 1424.4 320.7 1426.0 310.1 1427.7 307.0 1429.4 302.2 1431.1 322.0 1432.7 295.5 1434.4 294.0 1436.1 295.7 1437.7 306.5 1439.4 290.2 1441.1 306.7 1442.7 294.7 1444.4 302.7 1446.1 302.4 1447.7 303.5 1449.4 302.4 1451.1 293.0 1452.7 290.3 1454.4 290.4 1456.1 294.7 1457.7 296.7 1459.4 298.5 1461.1 287.6 1462.8 305.8 1464.4 307.4 1466.1 301.8 1467.8 316.0 1469.4 304.1 1471.1 302.6 1472.8 310.6 1474.4 306.7 1476.1 296.1 1477.8 303.5 1479.4 300.7 1481.1 292.4 1482.8 305.5 1484.4 309.2 1486.1 299.2 1487.8 294.3 1489.4 311.7 1491.1 290.0 1492.8 296.6 1494.5 296.1 1496.1 298.6 1497.8 291.9 1499.5 281.6 1501.1 284.7 1502.8 282.2 1504.5 292.2 1506.1 276.6 1507.8 280.1 1509.5 291.9 1511.1 314.8 1512.8 293.9 1514.5 273.0 1516.1 297.4 1517.8 306.6 1519.5 285.0 1521.2 305.0 1522.8 296.4 1524.5 294.7 1526.2 313.5 1527.8 300.6 1529.5 291.9 1531.2 304.6 1532.8 296.6 1534.5 302.2" stroke="#e02020" stroke-width="1.05" stroke-opacity="0.85" fill="none" stroke-linejoin="round"/>
<path d="M935.5 281.4 937.2 299.0 938.8 294.0 940.5 292.4 942.2 297.8 943.8 302.8 945.5 286.0 947.2 288.0 948.8 306.7 950.5 270.6 952.2 281.3 953.9 294.7 955.5 280.0 957.2 290.2 958.9 285.9 960.5 277.9 962.2 294.1 963.9 278.5 965.5 271.6 967.2 272.5 968.9 286.6 970.5 277.6 972.2 299.8 973.9 289.3 975.5 286.2 977.2 303.0 978.9 294.8 980.6 281.9 982.2 276.3 983.9 292.9 985.6 293.5 987.2 309.0 988.9 311.5 990.6 313.4 992.2 297.5 993.9 295.8 995.6 307.6 997.2 312.3 998.9 300.0 1000.6 299.6 1002.2 303.3 1003.9 291.7 1005.6 303.0 1007.2 302.7 1008.9 311.4 1010.6 301.1 1012.3 291.1 1013.9 301.7 1015.6 301.6 1017.3 298.6 1018.9 299.9 1020.6 297.8 1022.3 297.8 1023.9 297.1 1025.6 308.8 1027.3 299.7 1028.9 315.4 1030.6 300.0 1032.3 312.6 1033.9 302.8 1035.6 298.3 1037.3 305.6 1038.9 301.4 1040.6 315.8 1042.3 309.3 1044.0 296.5 1045.6 311.7 1047.3 296.8 1049.0 313.7 1050.6 309.7 1052.3 311.2 1054.0 302.1 1055.6 297.8 1057.3 311.0 1059.0 303.7 1060.6 288.8 1062.3 304.8 1064.0 308.9 1065.6 299.0 1067.3 304.0 1069.0 308.0 1070.7 317.0 1072.3 295.4 1074.0 306.9 1075.7 302.2 1077.3 311.0 1079.0 291.4 1080.7 296.0 1082.3 294.1 1084.0 303.1 1085.7 298.3 1087.3 294.8 1089.0 293.8 1090.7 299.6 1092.3 302.7 1094.0 305.2 1095.7 308.4 1097.3 310.2 1099.0 299.2 1100.7 304.2 1102.4 318.7 1104.0 303.5 1105.7 293.4 1107.4 304.5 1109.0 317.5 1110.7 303.2 1112.4 295.7 1114.0 300.5 1115.7 305.7 1117.4 286.9 1119.0 286.5 1120.7 303.0 1122.4 295.5 1124.0 299.0 1125.7 295.7 1127.4 290.2 1129.0 295.4 1130.7 301.5 1132.4 307.6 1134.1 308.9 1135.7 302.4 1137.4 292.6 1139.1 299.7 1140.7 301.8 1142.4 300.1 1144.1 301.9 1145.7 297.7 1147.4 311.5 1149.1 318.5 1150.7 305.7 1152.4 311.7 1154.1 288.9 1155.7 303.5 1157.4 304.3 1159.1 314.9 1160.8 299.9 1162.4 307.4 1164.1 292.9 1165.8 295.3 1167.4 308.6 1169.1 298.8 1170.8 324.7 1172.4 307.8 1174.1 291.9 1175.8 295.7 1177.4 300.8 1179.1 302.4 1180.8 313.9 1182.4 313.4 1184.1 300.4 1185.8 287.6 1187.4 320.1 1189.1 297.0 1190.8 297.2 1192.5 294.3 1194.1 309.4 1195.8 306.6 1197.5 301.8 1199.1 310.7 1200.8 312.4 1202.5 309.5 1204.1 302.8 1205.8 299.1 1207.5 302.4 1209.1 301.6 1210.8 307.8 1212.5 308.2 1214.1 292.9 1215.8 302.7 1217.5 302.9 1219.1 294.5 1220.8 292.0 1222.5 291.7 1224.2 298.8 1225.8 302.6 1227.5 299.8 1229.2 300.7 1230.8 290.7 1232.5 299.8 1234.2 296.9 1235.8 302.4 1237.5 290.9 1239.2 319.2 1240.8 299.1 1242.5 296.0 1244.2 311.8 1244.3 309.2 1245.5 172.2 1245.8 284.4 1246.7 294.5 1247.5 303.4 1249.2 303.5 1250.9 311.1 1252.5 294.9 1254.2 300.3 1255.9 307.1 1257.5 300.3 1259.2 296.5 1260.9 292.2 1262.5 300.4 1264.2 310.2 1265.9 306.8 1267.5 321.2 1269.2 308.2 1270.9 296.1 1272.5 298.4 1274.2 303.1 1275.9 305.0 1277.5 289.1 1279.2 299.9 1280.9 294.7 1282.6 298.9 1284.2 307.7 1285.9 289.4 1287.6 312.4 1289.2 312.1 1290.9 305.7 1292.6 308.2 1294.2 306.8 1295.9 307.2 1297.6 294.0 1299.2 301.8 1300.9 299.3 1302.6 315.3 1304.2 309.2 1305.9 293.2 1307.6 312.1 1309.2 292.5 1310.9 310.7 1312.6 299.7 1314.3 309.2 1315.9 300.6 1317.6 309.6 1319.3 304.3 1320.9 288.4 1322.6 305.3 1324.3 285.4 1325.9 306.0 1327.6 311.9 1329.3 301.6 1330.9 305.6 1332.6 287.7 1334.3 295.1 1335.9 292.4 1337.6 297.0 1339.3 281.8 1341.0 295.6 1342.6 297.8 1344.3 309.1 1346.0 309.7 1347.6 300.7 1349.3 294.0 1351.0 293.0 1352.6 310.0 1354.3 297.8 1356.0 300.6 1357.6 311.4 1359.3 298.0 1361.0 321.0 1362.6 300.0 1364.3 281.8 1366.0 310.6 1367.6 302.0 1369.3 317.8 1371.0 308.4 1372.7 296.0 1374.3 310.8 1376.0 302.5 1377.7 305.1 1379.3 305.3 1381.0 300.6 1382.7 298.2 1384.3 292.0 1386.0 295.3 1387.7 306.9 1389.3 290.5 1391.0 291.9 1392.7 315.1 1394.3 296.7 1396.0 295.4 1397.7 294.2 1399.3 297.7 1401.0 312.9 1402.7 304.4 1404.4 319.3 1406.0 303.5 1407.7 285.4 1409.4 296.6 1411.0 295.3 1412.7 306.4 1414.4 310.6 1416.0 311.0 1417.7 301.2 1419.4 308.8 1421.0 307.5 1422.7 292.7 1424.4 315.8 1426.0 313.1 1427.7 306.4 1429.4 303.0 1431.1 303.3 1432.7 313.7 1434.4 300.6 1436.1 303.3 1437.7 299.3 1439.4 311.1 1441.1 300.2 1442.7 300.4 1444.4 307.7 1446.1 304.0 1447.7 306.8 1449.4 291.0 1451.1 328.0 1452.7 314.2 1454.4 316.3 1456.1 305.3 1457.7 307.8 1459.4 305.6 1461.1 296.3 1462.8 315.7 1464.4 309.2 1466.1 304.0 1467.8 312.1 1469.4 299.1 1471.1 299.4 1472.8 307.9 1474.4 316.6 1476.1 288.6 1477.8 297.7 1479.4 297.8 1481.1 300.3 1482.8 300.5 1484.4 292.9 1486.1 299.0 1487.8 303.1 1489.4 290.8 1491.1 294.9 1492.8 300.4 1494.5 300.2 1496.1 281.8 1497.8 285.2 1499.5 273.2 1501.1 293.4 1502.8 295.1 1504.5 285.8 1506.1 278.4 1507.8 285.7 1509.5 288.2 1511.1 277.5 1512.8 300.6 1514.5 306.1 1516.1 303.2 1517.8 300.8 1519.5 296.1 1521.2 291.5 1522.8 297.2 1524.5 288.5 1526.2 308.3 1527.8 286.0 1529.5 308.6 1531.2 292.3 1532.8 309.8 1534.5 299.3" stroke="#30d030" stroke-width="1.05" stroke-opacity="0.85" fill="none" stroke-linejoin="round"/>
<path d="M935.50 563.5v-6.4M935.50 91.5v6.4M1135.50 563.5v-6.4M1135.50 91.5v6.4M1334.50 563.5v-6.4M1334.50 91.5v6.4M1534.50 563.5v-6.4M1534.50 91.5v6.4M935.5 563.50h6.4M1534.5 563.50h-6.4M935.5 504.50h6.4M1534.5 504.50h-6.4M935.5 445.50h6.4M1534.5 445.50h-6.4M935.5 386.50h6.4M1534.5 386.50h-6.4M935.5 327.50h6.4M1534.5 327.50h-6.4M935.5 268.50h6.4M1534.5 268.50h-6.4M935.5 209.50h6.4M1534.5 209.50h-6.4M935.5 150.50h6.4M1534.5 150.50h-6.4M935.5 91.50h6.4M1534.5 91.50h-6.4" stroke="#4d4d4d" stroke-width="1" fill="none"/>
<rect x="935.5" y="91.5" width="599.0" height="472.0" stroke="#4d4d4d" stroke-width="1" fill="none"/>
<text x="935.50" y="581.90" text-anchor="middle" font-size="14" fill="#262626">0</text>
<text x="1135.17" y="581.90" text-anchor="middle" font-size="14" fill="#262626">5000</text>
<text x="1334.83" y="581.90" text-anchor="middle" font-size="14" fill="#262626">10000</text>
<text x="1534.50" y="581.90" text-anchor="middle" font-size="14" fill="#262626">15000</text>
<text x="929.70" y="568.70" text-anchor="end" font-size="14" fill="#262626">-58</text>
<text x="929.70" y="509.70" text-anchor="end" font-size="14" fill="#262626">-56</text>
<text x="929.70" y="450.70" text-anchor="end" font-size="14" fill="#262626">-54</text>
<text x="929.70" y="391.70" text-anchor="end" font-size="14" fill="#262626">-52</text>
<text x="929.70" y="332.70" text-anchor="end" font-size="14" fill="#262626">-50</text>
<text x="929.70" y="273.70" text-anchor="end" font-size="14" fill="#262626">-48</text>
<text x="929.70" y="214.70" text-anchor="end" font-size="14" fill="#262626">-46</text>
<text x="929.70" y="155.70" text-anchor="end" font-size="14" fill="#262626">-44</text>
<text x="929.70" y="96.70" text-anchor="end" font-size="14" fill="#262626">-42</text>
<text x="1235.2" y="86.5" text-anchor="middle" font-size="15.25" font-weight="bold" fill="#000">X-RCP Power Spectra vs Time from Raw REDR Data Samples</text>
<text x="1235.2" y="601.2" text-anchor="middle" font-size="15" fill="#262626">Frequency (Hz)</text>
<text transform="translate(901.5 327.6) rotate(-90)" text-anchor="middle" font-size="15" fill="#262626">X-RCP Average Power (dB)</text>
<text x="1265.5" y="131.80" font-size="13.7" fill="#000">File =</text>
<text x="1496.4" y="131.80" text-anchor="end" font-size="13.7" fill="#000">VP115A.ODR</text>
<text x="1265.5" y="152.72" font-size="13.7" fill="#000">Start Time = 1979-07-10T22:04:17.000</text>
<text x="1265.5" y="173.64" font-size="13.7" fill="#000">Integration Time (sec) =</text>
<text x="1497.3" y="173.64" text-anchor="end" font-size="13.7" fill="#000">9.933</text>
<text x="1265.5" y="194.56" font-size="13.7" fill="#000">Spectrum Resolution (Hz) =</text>
<text x="1502.7" y="194.56" text-anchor="end" font-size="13.7" fill="#000">29.297</text>
<text x="1265.5" y="215.48" font-size="13.7" fill="#000">Peak Carrier-to-Noise (dB) =</text>
<text x="1501.8" y="215.48" text-anchor="end" font-size="13.7" fill="#000">21.56</text>
<text x="1277.3" y="236.40" font-size="13.7" fill="#000">Frequency of Peak (Hz) =</text>
<text x="1500.9" y="236.40" text-anchor="end" font-size="13.7" fill="#000">7763.7</text>
<text x="1277.3" y="257.32" font-size="13.7" fill="#000">In Average Spectrum</text>
<text x="1498.2" y="257.32" text-anchor="end" font-size="13.7" fill="#000">38</text>
<path d="M148.50 670.5V1142.5M233.50 670.5V1142.5M319.50 670.5V1142.5M404.50 670.5V1142.5M490.50 670.5V1142.5M575.50 670.5V1142.5M661.50 670.5V1142.5M746.50 670.5V1142.5M148.5 1142.50H746.5M148.5 1063.50H746.5M148.5 985.50H746.5M148.5 906.50H746.5M148.5 827.50H746.5M148.5 749.50H746.5M148.5 670.50H746.5" stroke="#e8e8e8" stroke-width="1" fill="none"/>
<path d="M196.92 1007.25 L199.12 913.14 L200.69 972.75 L203.20 770.39 L206.33 997.84 L208.84 870.78 L210.10 1022.94 L212.61 949.22 L213.86 825.29 L215.12 845.69 L216.37 819.02 L217.63 911.57 L218.88 883.33 L220.76 847.25 L222.65 873.92 L224.22 961.76 L225.78 803.33 L227.67 960.20 L228.92 819.02 L230.18 983.73 L231.43 787.65 L233.63 983.73 L238.33 826.86 L241.47 963.33 L244.61 870.78 L245.86 1032.35 L247.12 781.37 L249.00 771.96 L250.25 809.61 L251.51 927.25 L252.76 833.14 L254.02 949.22 L256.53 812.75 L257.78 886.47 L259.04 798.63 L260.29 808.04 L262.18 964.90 L264.06 819.02 L265.94 851.96 L267.82 910.00 L269.71 888.04 L271.59 961.76 L274.10 848.82 L275.35 867.65 L276.61 671.57 L278.49 902.16 L280.37 968.04 L282.25 920.98 L283.51 858.24 L284.76 997.84 L287.90 801.76 L289.16 826.86 L291.04 1030.78 L292.92 851.96 L294.80 920.98 L296.69 867.65 L297.94 958.63 L299.20 748.43 L301.08 873.92 L302.96 883.33 L304.84 979.02 L306.73 903.73 L309.24 946.08 L311.12 867.65 L312.37 983.73 L314.25 750.00 L316.76 939.80 L319.27 1010.39 L321.16 848.82 L323.04 914.71 L327.43 728.04 L329.31 870.78 L331.20 760.98 L333.08 845.69 L335.02 958.63 L336.90 793.92 L338.78 840.98 L340.67 839.41 L342.55 862.94 L344.43 886.47 L345.69 861.37 L347.57 925.69 L348.20 801.76 L349.45 925.69 L351.96 809.61 L353.84 878.63 L355.10 861.37 L356.35 880.20 L357.61 790.78 L359.49 858.24 L360.75 793.92 L362.00 922.55 L363.88 845.69 L365.14 851.96 L367.02 679.41 L368.27 833.14 L368.90 817.45 L370.16 920.98 L372.04 848.82 L373.92 870.78 L375.80 839.41 L377.06 881.76 L378.94 768.82 L380.20 779.80 L380.82 897.45 L383.33 795.49 L384.59 864.51 L385.84 740.59 L387.73 870.78 L389.61 836.27 L391.49 933.53 L393.37 820.59 L394.63 877.06 L395.25 914.71 L397.14 847.25 L399.02 927.25 L402.16 910.00 L404.04 990.00 L407.18 831.57 L408.43 840.98 L410.31 817.45 L412.20 899.02 L413.45 972.75 L414.71 902.16 L416.59 980.59 L417.84 886.47 L419.73 878.63 L421.61 935.10 L423.49 897.45 L425.37 949.22 L429.14 844.12 L430.39 933.53 L432.27 825.29 L435.41 990.00 L437.92 781.37 L439.18 858.24 L441.69 933.53 L443.57 815.88 L446.08 930.39 L448.59 787.65 L449.84 917.84 L452.35 820.59 L454.24 1004.12 L456.12 859.80 L459.25 1022.94 L461.14 910.00 L463.02 972.75 L464.90 861.37 L466.16 974.31 L467.41 826.86 L469.29 892.75 L471.18 808.04 L474.31 927.25 L476.82 778.24 L478.71 767.25 L479.72 848.63 L481.07 766.06 L481.74 963.23 L483.76 993.56 L486.46 848.63 L488.48 929.52 L490.50 858.74 L491.85 912.67 L494.55 823.35 L495.90 916.04 L497.24 784.59 L499.27 885.71 L501.29 865.48 L503.31 838.52 L505.33 956.48 L506.68 868.85 L508.03 983.45 L508.70 877.28 L510.05 1022.21 L512.07 939.63 L514.77 858.74 L516.79 966.60 L518.82 902.56 L519.49 996.93 L520.84 720.56 L522.86 932.89 L525.56 791.33 L527.58 1001.99 L529.60 958.17 L531.62 966.60 L532.97 878.97 L534.99 990.19 L536.34 882.34 L539.04 1039.06 L541.06 912.67 L543.08 858.74 L545.10 949.74 L547.13 1008.73 L549.82 899.19 L551.17 936.26 L553.19 865.48 L555.22 916.04 L556.56 885.71 L558.59 939.63 L559.93 980.08 L561.96 1072.76 L563.30 971.65 L565.33 983.45 L567.35 929.52 L569.37 840.21 L571.39 993.56 L574.09 912.67 L576.11 929.52 L578.13 939.63 L580.16 1013.78 L582.85 870.54 L585.55 1008.73 L587.57 949.74 L589.59 990.19 L591.62 892.45 L592.96 1001.99 L594.99 956.48 L597.01 971.65 L599.03 983.45 L601.05 884.02 L603.08 949.74 L605.10 885.71 L607.12 956.48 L609.14 894.13 L611.16 949.74 L613.19 953.11 L615.88 1077.82 L617.91 926.15 L620.60 936.26 L623.30 990.19 L625.82 1015.11 L627.47 890.11 L630.22 1028.85 L633.52 840.66 L635.71 951.92 L638.46 873.63 L640.11 991.76 L642.31 1061.81 L644.51 898.35 L646.70 914.84 L648.90 1067.31 L652.75 868.13 L654.40 983.52 L655.49 923.08 L656.59 983.52 L657.69 906.59 L658.79 1005.49 L659.89 1002.75 L660.99 847.53 L662.09 928.57 L663.19 918.96 L665.93 1076.92 L668.13 942.31 L669.23 978.02 L670.88 943.68" stroke="#2a2aa8" stroke-width="1" fill="none" stroke-linejoin="round"/>
<path d="M148.50 1142.5v-6.4M148.50 670.5v6.4M233.50 1142.5v-6.4M233.50 670.5v6.4M319.50 1142.5v-6.4M319.50 670.5v6.4M404.50 1142.5v-6.4M404.50 670.5v6.4M490.50 1142.5v-6.4M490.50 670.5v6.4M575.50 1142.5v-6.4M575.50 670.5v6.4M661.50 1142.5v-6.4M661.50 670.5v6.4M746.50 1142.5v-6.4M746.50 670.5v6.4M148.5 1142.50h6.4M746.5 1142.50h-6.4M148.5 1063.50h6.4M746.5 1063.50h-6.4M148.5 985.50h6.4M746.5 985.50h-6.4M148.5 906.50h6.4M746.5 906.50h-6.4M148.5 827.50h6.4M746.5 827.50h-6.4M148.5 749.50h6.4M746.5 749.50h-6.4M148.5 670.50h6.4M746.5 670.50h-6.4" stroke="#4d4d4d" stroke-width="1" fill="none"/>
<rect x="148.5" y="670.5" width="598.0" height="472.0" stroke="#4d4d4d" stroke-width="1" fill="none"/>
<text x="148.50" y="1160.90" text-anchor="middle" font-size="14" fill="#262626">22.06</text>
<text x="233.93" y="1160.90" text-anchor="middle" font-size="14" fill="#262626">22.08</text>
<text x="319.36" y="1160.90" text-anchor="middle" font-size="14" fill="#262626">22.1</text>
<text x="404.79" y="1160.90" text-anchor="middle" font-size="14" fill="#262626">22.12</text>
<text x="490.21" y="1160.90" text-anchor="middle" font-size="14" fill="#262626">22.14</text>
<text x="575.64" y="1160.90" text-anchor="middle" font-size="14" fill="#262626">22.16</text>
<text x="661.07" y="1160.90" text-anchor="middle" font-size="14" fill="#262626">22.18</text>
<text x="746.50" y="1160.90" text-anchor="middle" font-size="14" fill="#262626">22.2</text>
<text x="142.20" y="1147.70" text-anchor="end" font-size="14" fill="#262626">-22.3</text>
<text x="142.20" y="1069.03" text-anchor="end" font-size="14" fill="#262626">-22.25</text>
<text x="142.20" y="990.37" text-anchor="end" font-size="14" fill="#262626">-22.2</text>
<text x="142.20" y="911.70" text-anchor="end" font-size="14" fill="#262626">-22.15</text>
<text x="142.20" y="833.03" text-anchor="end" font-size="14" fill="#262626">-22.1</text>
<text x="142.20" y="754.37" text-anchor="end" font-size="14" fill="#262626">-22.05</text>
<text x="142.20" y="675.70" text-anchor="end" font-size="14" fill="#262626">-22</text>
<text x="447.5" y="665.4" text-anchor="middle" font-size="15.25" font-weight="bold" fill="#000">Average Power vs Time from REDR X-Band Samples</text>
<text x="447.5" y="1180.3" text-anchor="middle" font-size="15.15" fill="#262626">Hours Past Midnight ERT</text>
<text transform="translate(95 906.2) rotate(-90)" text-anchor="middle" font-size="15" fill="#262626">Normalized Average Power (dB)</text>
<text x="457.8" y="696.80" font-size="13.7" fill="#000">REDR File Name =</text>
<text x="700.9" y="696.80" text-anchor="end" font-size="13.7" fill="#000">VP115A.ODR</text>
<text x="457.8" y="717.25" font-size="13.7" fill="#000">Start Time = 1979-191T22:04:17.000000</text>
<text x="457.8" y="737.70" font-size="13.7" fill="#000">Integration Time (sec) =</text>
<text x="705.1" y="737.70" text-anchor="end" font-size="13.7" fill="#000">1.000000</text>
<text x="832.8" y="700.50" font-family='"Liberation Mono", monospace' font-size="23" fill="#000" xml:space="preserve">PDS4 Product LID:      vg2j_14mr_1979191t220417</text>
<text x="832.8" y="727.22" font-family='"Liberation Mono", monospace' font-size="23" fill="#000" xml:space="preserve">REDR File Name:                           VP115</text>
<text x="832.8" y="753.94" font-family='"Liberation Mono", monospace' font-size="23" fill="#000" xml:space="preserve">Record Length:                             1692</text>
<text x="832.8" y="780.66" font-family='"Liberation Mono", monospace' font-size="23" fill="#000" xml:space="preserve">Number of Records:                        20000</text>
<text x="832.8" y="807.38" font-family='"Liberation Mono", monospace' font-size="23" fill="#000" xml:space="preserve">Sample Rate:                              10000</text>
<text x="832.8" y="834.10" font-family='"Liberation Mono", monospace' font-size="23" fill="#000" xml:space="preserve">Sample Bits:                                  8</text>
<text x="832.8" y="860.82" font-family='"Liberation Mono", monospace' font-size="23" fill="#000" xml:space="preserve">Spacecraft ID:                               32</text>
<text x="832.8" y="887.54" font-family='"Liberation Mono", monospace' font-size="23" fill="#000" xml:space="preserve">Spacecraft Name:                      Voyager 2</text>
<text x="832.8" y="914.26" font-family='"Liberation Mono", monospace' font-size="23" fill="#000" xml:space="preserve">DSN Receive Antenna:                         14</text>
<text x="832.8" y="940.98" font-family='"Liberation Mono", monospace' font-size="23" fill="#000" xml:space="preserve">Downlink Polarization:                        R</text>
<text x="832.8" y="967.70" font-family='"Liberation Mono", monospace' font-size="23" fill="#000" xml:space="preserve">Start Time:               1979-191T22:04:17.000</text>
<text x="832.8" y="994.42" font-family='"Liberation Mono", monospace' font-size="23" fill="#000" xml:space="preserve">Stop Time:                1979-191T22:10:56.980</text>
<text x="832.8" y="1021.14" font-family='"Liberation Mono", monospace' font-size="23" fill="#000" xml:space="preserve">Target Name:                            Jupiter</text>
<text x="832.8" y="1047.86" font-family='"Liberation Mono", monospace' font-size="23" fill="#000" xml:space="preserve">Instrument Name:        Radio Science Subsystem</text>
<text x="832.8" y="1074.58" font-family='"Liberation Mono", monospace' font-size="23" fill="#000" xml:space="preserve">Producer ID:                                DSN</text>
<text x="832.8" y="1101.30" font-family='"Liberation Mono", monospace' font-size="23" fill="#000" xml:space="preserve">Product Type:                              REDR</text>
<text x="832.8" y="1128.02" font-family='"Liberation Mono", monospace' font-size="23" fill="#000" xml:space="preserve">Max SNR (X):                              21.56</text>
</svg></body></html>
